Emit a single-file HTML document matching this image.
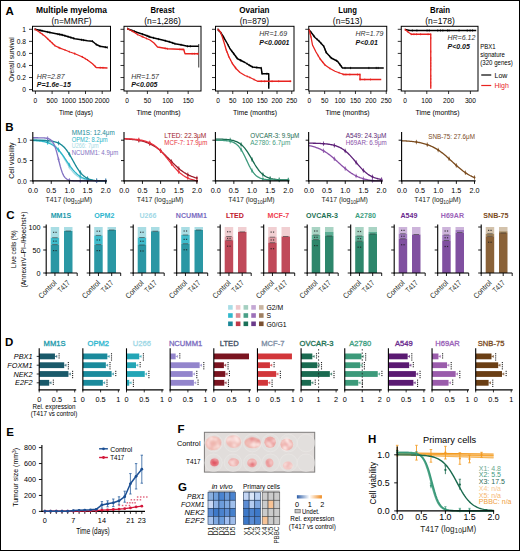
<!DOCTYPE html><html><head><meta charset="utf-8"><style>html,body{margin:0;padding:0;background:#fff;}svg{display:block;font-family:"Liberation Sans",sans-serif;}</style></head><body>
<svg width="520" height="551" viewBox="0 0 520 551">
<rect x="0" y="0" width="520" height="551" fill="#fff"/>
<text x="5.60" y="15.34" font-size="11.5" text-anchor="start" font-weight="bold" fill="#000">A</text>
<text x="5.30" y="130.54" font-size="11.5" text-anchor="start" font-weight="bold" fill="#000">B</text>
<text x="6.20" y="219.14" font-size="11.5" text-anchor="start" font-weight="bold" fill="#000">C</text>
<text x="5.00" y="345.94" font-size="11.5" text-anchor="start" font-weight="bold" fill="#000">D</text>
<text x="6.20" y="435.94" font-size="11.5" text-anchor="start" font-weight="bold" fill="#000">E</text>
<text x="177.40" y="432.84" font-size="11.5" text-anchor="start" font-weight="bold" fill="#000">F</text>
<text x="178.00" y="491.14" font-size="11.5" text-anchor="start" font-weight="bold" fill="#000">G</text>
<text x="368.00" y="443.14" font-size="11.5" text-anchor="start" font-weight="bold" fill="#000">H</text>
<text x="71.50" y="13.29" font-size="8.3" text-anchor="middle" font-weight="bold" fill="#000" textLength="71" lengthAdjust="spacingAndGlyphs">Multiple myeloma</text>
<text x="71.50" y="23.79" font-size="8.3" text-anchor="middle" textLength="40" lengthAdjust="spacingAndGlyphs">(n=MMRF)</text>
<rect x="32.50" y="26.30" width="78.00" height="64.70" fill="none" stroke="#000" stroke-width="1"/>
<line x1="29.00" y1="89.60" x2="32.50" y2="89.60" stroke="#000" stroke-width="0.8"/>
<text x="26.00" y="92.44" font-size="7.9" text-anchor="end" textLength="3.69" lengthAdjust="spacingAndGlyphs">0</text>
<line x1="29.00" y1="77.54" x2="32.50" y2="77.54" stroke="#000" stroke-width="0.8"/>
<text x="26.00" y="80.38" font-size="7.9" text-anchor="end" textLength="9.22" lengthAdjust="spacingAndGlyphs">0.2</text>
<line x1="29.00" y1="65.48" x2="32.50" y2="65.48" stroke="#000" stroke-width="0.8"/>
<text x="26.00" y="68.32" font-size="7.9" text-anchor="end" textLength="9.22" lengthAdjust="spacingAndGlyphs">0.4</text>
<line x1="29.00" y1="53.42" x2="32.50" y2="53.42" stroke="#000" stroke-width="0.8"/>
<text x="26.00" y="56.26" font-size="7.9" text-anchor="end" textLength="9.22" lengthAdjust="spacingAndGlyphs">0.6</text>
<line x1="29.00" y1="41.36" x2="32.50" y2="41.36" stroke="#000" stroke-width="0.8"/>
<text x="26.00" y="44.20" font-size="7.9" text-anchor="end" textLength="9.22" lengthAdjust="spacingAndGlyphs">0.8</text>
<line x1="29.00" y1="29.30" x2="32.50" y2="29.30" stroke="#000" stroke-width="0.8"/>
<text x="26.00" y="32.14" font-size="7.9" text-anchor="end" textLength="3.69" lengthAdjust="spacingAndGlyphs">1</text>
<line x1="35.40" y1="91.00" x2="35.40" y2="94.00" stroke="#000" stroke-width="0.8"/>
<text x="35.40" y="102.50" font-size="7.5" text-anchor="middle" textLength="3.67" lengthAdjust="spacingAndGlyphs">0</text>
<line x1="52.10" y1="91.00" x2="52.10" y2="94.00" stroke="#000" stroke-width="0.8"/>
<text x="52.10" y="102.50" font-size="7.5" text-anchor="middle" textLength="11.01" lengthAdjust="spacingAndGlyphs">500</text>
<line x1="68.80" y1="91.00" x2="68.80" y2="94.00" stroke="#000" stroke-width="0.8"/>
<text x="68.80" y="102.50" font-size="7.5" text-anchor="middle" textLength="14.68" lengthAdjust="spacingAndGlyphs">1000</text>
<line x1="85.50" y1="91.00" x2="85.50" y2="94.00" stroke="#000" stroke-width="0.8"/>
<text x="85.50" y="102.50" font-size="7.5" text-anchor="middle" textLength="14.68" lengthAdjust="spacingAndGlyphs">1500</text>
<line x1="102.20" y1="91.00" x2="102.20" y2="94.00" stroke="#000" stroke-width="0.8"/>
<text x="102.20" y="102.50" font-size="7.5" text-anchor="middle" textLength="14.68" lengthAdjust="spacingAndGlyphs">2000</text>
<text x="76.00" y="115.18" font-size="8.0" text-anchor="middle" textLength="33.8" lengthAdjust="spacingAndGlyphs">Time (days)</text>
<text x="162.50" y="13.29" font-size="8.3" text-anchor="middle" font-weight="bold" fill="#000" textLength="24" lengthAdjust="spacingAndGlyphs">Breast</text>
<text x="162.50" y="23.79" font-size="8.3" text-anchor="middle" textLength="36.4" lengthAdjust="spacingAndGlyphs">(n=1,286)</text>
<rect x="124.00" y="26.30" width="77.00" height="64.70" fill="none" stroke="#000" stroke-width="1"/>
<line x1="120.50" y1="89.60" x2="124.00" y2="89.60" stroke="#000" stroke-width="0.8"/>
<line x1="120.50" y1="77.54" x2="124.00" y2="77.54" stroke="#000" stroke-width="0.8"/>
<line x1="120.50" y1="65.48" x2="124.00" y2="65.48" stroke="#000" stroke-width="0.8"/>
<line x1="120.50" y1="53.42" x2="124.00" y2="53.42" stroke="#000" stroke-width="0.8"/>
<line x1="120.50" y1="41.36" x2="124.00" y2="41.36" stroke="#000" stroke-width="0.8"/>
<line x1="120.50" y1="29.30" x2="124.00" y2="29.30" stroke="#000" stroke-width="0.8"/>
<line x1="127.00" y1="91.00" x2="127.00" y2="94.00" stroke="#000" stroke-width="0.8"/>
<text x="127.00" y="102.50" font-size="7.5" text-anchor="middle" textLength="3.67" lengthAdjust="spacingAndGlyphs">0</text>
<line x1="147.40" y1="91.00" x2="147.40" y2="94.00" stroke="#000" stroke-width="0.8"/>
<text x="147.40" y="102.50" font-size="7.5" text-anchor="middle" textLength="7.34" lengthAdjust="spacingAndGlyphs">50</text>
<line x1="167.80" y1="91.00" x2="167.80" y2="94.00" stroke="#000" stroke-width="0.8"/>
<text x="167.80" y="102.50" font-size="7.5" text-anchor="middle" textLength="11.01" lengthAdjust="spacingAndGlyphs">100</text>
<line x1="188.20" y1="91.00" x2="188.20" y2="94.00" stroke="#000" stroke-width="0.8"/>
<text x="188.20" y="102.50" font-size="7.5" text-anchor="middle" textLength="11.01" lengthAdjust="spacingAndGlyphs">150</text>
<text x="158.60" y="115.18" font-size="8.0" text-anchor="middle" textLength="44" lengthAdjust="spacingAndGlyphs">Time (months)</text>
<text x="254.40" y="13.29" font-size="8.3" text-anchor="middle" font-weight="bold" fill="#000" textLength="30.2" lengthAdjust="spacingAndGlyphs">Ovarian</text>
<text x="254.40" y="23.79" font-size="8.3" text-anchor="middle" textLength="29.3" lengthAdjust="spacingAndGlyphs">(n=879)</text>
<rect x="215.50" y="26.30" width="78.50" height="64.70" fill="none" stroke="#000" stroke-width="1"/>
<line x1="212.00" y1="89.60" x2="215.50" y2="89.60" stroke="#000" stroke-width="0.8"/>
<line x1="212.00" y1="77.54" x2="215.50" y2="77.54" stroke="#000" stroke-width="0.8"/>
<line x1="212.00" y1="65.48" x2="215.50" y2="65.48" stroke="#000" stroke-width="0.8"/>
<line x1="212.00" y1="53.42" x2="215.50" y2="53.42" stroke="#000" stroke-width="0.8"/>
<line x1="212.00" y1="41.36" x2="215.50" y2="41.36" stroke="#000" stroke-width="0.8"/>
<line x1="212.00" y1="29.30" x2="215.50" y2="29.30" stroke="#000" stroke-width="0.8"/>
<line x1="218.00" y1="91.00" x2="218.00" y2="94.00" stroke="#000" stroke-width="0.8"/>
<text x="218.00" y="102.50" font-size="7.5" text-anchor="middle" textLength="3.67" lengthAdjust="spacingAndGlyphs">0</text>
<line x1="232.75" y1="91.00" x2="232.75" y2="94.00" stroke="#000" stroke-width="0.8"/>
<text x="232.75" y="102.50" font-size="7.5" text-anchor="middle" textLength="7.34" lengthAdjust="spacingAndGlyphs">50</text>
<line x1="247.50" y1="91.00" x2="247.50" y2="94.00" stroke="#000" stroke-width="0.8"/>
<text x="247.50" y="102.50" font-size="7.5" text-anchor="middle" textLength="11.01" lengthAdjust="spacingAndGlyphs">100</text>
<line x1="262.25" y1="91.00" x2="262.25" y2="94.00" stroke="#000" stroke-width="0.8"/>
<text x="262.25" y="102.50" font-size="7.5" text-anchor="middle" textLength="11.01" lengthAdjust="spacingAndGlyphs">150</text>
<line x1="277.00" y1="91.00" x2="277.00" y2="94.00" stroke="#000" stroke-width="0.8"/>
<text x="277.00" y="102.50" font-size="7.5" text-anchor="middle" textLength="11.01" lengthAdjust="spacingAndGlyphs">200</text>
<line x1="291.75" y1="91.00" x2="291.75" y2="94.00" stroke="#000" stroke-width="0.8"/>
<text x="291.75" y="102.50" font-size="7.5" text-anchor="middle" textLength="11.01" lengthAdjust="spacingAndGlyphs">250</text>
<text x="255.00" y="115.18" font-size="8.0" text-anchor="middle" textLength="44" lengthAdjust="spacingAndGlyphs">Time (months)</text>
<text x="347.60" y="13.29" font-size="8.3" text-anchor="middle" font-weight="bold" fill="#000" textLength="18.8" lengthAdjust="spacingAndGlyphs">Lung</text>
<text x="347.60" y="23.79" font-size="8.3" text-anchor="middle" textLength="29.5" lengthAdjust="spacingAndGlyphs">(n=513)</text>
<rect x="308.75" y="26.30" width="78.00" height="64.70" fill="none" stroke="#000" stroke-width="1"/>
<line x1="305.25" y1="89.60" x2="308.75" y2="89.60" stroke="#000" stroke-width="0.8"/>
<line x1="305.25" y1="77.54" x2="308.75" y2="77.54" stroke="#000" stroke-width="0.8"/>
<line x1="305.25" y1="65.48" x2="308.75" y2="65.48" stroke="#000" stroke-width="0.8"/>
<line x1="305.25" y1="53.42" x2="308.75" y2="53.42" stroke="#000" stroke-width="0.8"/>
<line x1="305.25" y1="41.36" x2="308.75" y2="41.36" stroke="#000" stroke-width="0.8"/>
<line x1="305.25" y1="29.30" x2="308.75" y2="29.30" stroke="#000" stroke-width="0.8"/>
<line x1="309.25" y1="91.00" x2="309.25" y2="94.00" stroke="#000" stroke-width="0.8"/>
<text x="309.25" y="102.50" font-size="7.5" text-anchor="middle" textLength="3.67" lengthAdjust="spacingAndGlyphs">0</text>
<line x1="324.65" y1="91.00" x2="324.65" y2="94.00" stroke="#000" stroke-width="0.8"/>
<text x="324.65" y="102.50" font-size="7.5" text-anchor="middle" textLength="7.34" lengthAdjust="spacingAndGlyphs">50</text>
<line x1="340.05" y1="91.00" x2="340.05" y2="94.00" stroke="#000" stroke-width="0.8"/>
<text x="340.05" y="102.50" font-size="7.5" text-anchor="middle" textLength="11.01" lengthAdjust="spacingAndGlyphs">100</text>
<line x1="355.45" y1="91.00" x2="355.45" y2="94.00" stroke="#000" stroke-width="0.8"/>
<text x="355.45" y="102.50" font-size="7.5" text-anchor="middle" textLength="11.01" lengthAdjust="spacingAndGlyphs">150</text>
<line x1="370.85" y1="91.00" x2="370.85" y2="94.00" stroke="#000" stroke-width="0.8"/>
<text x="370.85" y="102.50" font-size="7.5" text-anchor="middle" textLength="11.01" lengthAdjust="spacingAndGlyphs">200</text>
<line x1="386.25" y1="91.00" x2="386.25" y2="94.00" stroke="#000" stroke-width="0.8"/>
<text x="386.25" y="102.50" font-size="7.5" text-anchor="middle" textLength="11.01" lengthAdjust="spacingAndGlyphs">250</text>
<text x="347.60" y="115.18" font-size="8.0" text-anchor="middle" textLength="44" lengthAdjust="spacingAndGlyphs">Time (months)</text>
<text x="440.00" y="13.29" font-size="8.3" text-anchor="middle" font-weight="bold" fill="#000" textLength="20" lengthAdjust="spacingAndGlyphs">Brain</text>
<text x="440.00" y="23.79" font-size="8.3" text-anchor="middle" textLength="29.5" lengthAdjust="spacingAndGlyphs">(n=178)</text>
<rect x="401.25" y="26.30" width="76.75" height="64.70" fill="none" stroke="#000" stroke-width="1"/>
<line x1="397.75" y1="89.60" x2="401.25" y2="89.60" stroke="#000" stroke-width="0.8"/>
<line x1="397.75" y1="77.54" x2="401.25" y2="77.54" stroke="#000" stroke-width="0.8"/>
<line x1="397.75" y1="65.48" x2="401.25" y2="65.48" stroke="#000" stroke-width="0.8"/>
<line x1="397.75" y1="53.42" x2="401.25" y2="53.42" stroke="#000" stroke-width="0.8"/>
<line x1="397.75" y1="41.36" x2="401.25" y2="41.36" stroke="#000" stroke-width="0.8"/>
<line x1="397.75" y1="29.30" x2="401.25" y2="29.30" stroke="#000" stroke-width="0.8"/>
<line x1="405.00" y1="91.00" x2="405.00" y2="94.00" stroke="#000" stroke-width="0.8"/>
<text x="405.00" y="102.50" font-size="7.5" text-anchor="middle" textLength="3.67" lengthAdjust="spacingAndGlyphs">0</text>
<line x1="426.80" y1="91.00" x2="426.80" y2="94.00" stroke="#000" stroke-width="0.8"/>
<text x="426.80" y="102.50" font-size="7.5" text-anchor="middle" textLength="11.01" lengthAdjust="spacingAndGlyphs">100</text>
<line x1="448.60" y1="91.00" x2="448.60" y2="94.00" stroke="#000" stroke-width="0.8"/>
<text x="448.60" y="102.50" font-size="7.5" text-anchor="middle" textLength="11.01" lengthAdjust="spacingAndGlyphs">200</text>
<line x1="470.40" y1="91.00" x2="470.40" y2="94.00" stroke="#000" stroke-width="0.8"/>
<text x="470.40" y="102.50" font-size="7.5" text-anchor="middle" textLength="11.01" lengthAdjust="spacingAndGlyphs">300</text>
<text x="437.50" y="115.18" font-size="8.0" text-anchor="middle" textLength="44" lengthAdjust="spacingAndGlyphs">Time (months)</text>
<text x="10.90" y="62.38" font-size="8.0" text-anchor="middle" textLength="44.6" lengthAdjust="spacingAndGlyphs" transform="rotate(-90 10.90 59.50)">Overall survival</text>
<polyline points="35.00,29.25 42.00,30.80 50.00,32.50 62.50,35.00 75.00,38.75 87.50,40.75 92.50,41.25 96.25,44.50 100.00,46.25 107.50,47.50" fill="none" stroke="#000" stroke-width="1.45" stroke-linejoin="round" />
<line x1="35.00" y1="28.10" x2="35.00" y2="30.40" stroke="#000" stroke-width="0.7"/>
<line x1="40.13" y1="29.24" x2="40.13" y2="31.54" stroke="#000" stroke-width="0.7"/>
<line x1="42.00" y1="29.65" x2="42.00" y2="31.95" stroke="#000" stroke-width="0.7"/>
<line x1="47.71" y1="30.86" x2="47.71" y2="33.16" stroke="#000" stroke-width="0.7"/>
<line x1="49.85" y1="31.32" x2="49.85" y2="33.62" stroke="#000" stroke-width="0.7"/>
<line x1="57.90" y1="32.93" x2="57.90" y2="35.23" stroke="#000" stroke-width="0.7"/>
<line x1="59.46" y1="33.24" x2="59.46" y2="35.54" stroke="#000" stroke-width="0.7"/>
<line x1="61.11" y1="33.57" x2="61.11" y2="35.87" stroke="#000" stroke-width="0.7"/>
<line x1="62.50" y1="33.85" x2="62.50" y2="36.15" stroke="#000" stroke-width="0.7"/>
<line x1="64.92" y1="34.58" x2="64.92" y2="36.88" stroke="#000" stroke-width="0.7"/>
<line x1="68.09" y1="35.53" x2="68.09" y2="37.83" stroke="#000" stroke-width="0.7"/>
<line x1="70.86" y1="36.36" x2="70.86" y2="38.66" stroke="#000" stroke-width="0.7"/>
<line x1="73.67" y1="37.20" x2="73.67" y2="39.50" stroke="#000" stroke-width="0.7"/>
<line x1="81.58" y1="38.65" x2="81.58" y2="40.95" stroke="#000" stroke-width="0.7"/>
<line x1="83.59" y1="38.97" x2="83.59" y2="41.27" stroke="#000" stroke-width="0.7"/>
<line x1="92.50" y1="40.10" x2="92.50" y2="42.40" stroke="#000" stroke-width="0.7"/>
<line x1="96.25" y1="43.35" x2="96.25" y2="45.65" stroke="#000" stroke-width="0.7"/>
<line x1="100.00" y1="45.10" x2="100.00" y2="47.40" stroke="#000" stroke-width="0.7"/>
<line x1="105.32" y1="45.99" x2="105.32" y2="48.29" stroke="#000" stroke-width="0.7"/>
<line x1="107.36" y1="46.33" x2="107.36" y2="48.63" stroke="#000" stroke-width="0.7"/>
<polyline points="35.00,29.30 40.00,32.50 45.00,36.25 50.00,41.00 55.00,45.75 60.00,48.20 65.00,50.00 70.00,52.00 75.00,53.75 82.50,57.00 87.50,60.00 92.50,63.75 96.25,67.50 107.50,68.00" fill="none" stroke="#e8231f" stroke-width="1.3" stroke-linejoin="round" />
<line x1="35.00" y1="28.30" x2="35.00" y2="30.30" stroke="#e8231f" stroke-width="0.7"/>
<line x1="40.00" y1="31.50" x2="40.00" y2="33.50" stroke="#e8231f" stroke-width="0.7"/>
<line x1="42.52" y1="33.39" x2="42.52" y2="35.39" stroke="#e8231f" stroke-width="0.7"/>
<line x1="47.74" y1="37.86" x2="47.74" y2="39.86" stroke="#e8231f" stroke-width="0.7"/>
<line x1="50.00" y1="40.00" x2="50.00" y2="42.00" stroke="#e8231f" stroke-width="0.7"/>
<line x1="52.42" y1="42.30" x2="52.42" y2="44.30" stroke="#e8231f" stroke-width="0.7"/>
<line x1="55.00" y1="44.75" x2="55.00" y2="46.75" stroke="#e8231f" stroke-width="0.7"/>
<line x1="58.94" y1="46.68" x2="58.94" y2="48.68" stroke="#e8231f" stroke-width="0.7"/>
<line x1="60.00" y1="47.20" x2="60.00" y2="49.20" stroke="#e8231f" stroke-width="0.7"/>
<line x1="65.00" y1="49.00" x2="65.00" y2="51.00" stroke="#e8231f" stroke-width="0.7"/>
<line x1="69.33" y1="50.73" x2="69.33" y2="52.73" stroke="#e8231f" stroke-width="0.7"/>
<line x1="74.48" y1="52.57" x2="74.48" y2="54.57" stroke="#e8231f" stroke-width="0.7"/>
<line x1="75.00" y1="52.75" x2="75.00" y2="54.75" stroke="#e8231f" stroke-width="0.7"/>
<line x1="82.14" y1="55.84" x2="82.14" y2="57.84" stroke="#e8231f" stroke-width="0.7"/>
<line x1="82.50" y1="56.00" x2="82.50" y2="58.00" stroke="#e8231f" stroke-width="0.7"/>
<line x1="85.31" y1="57.68" x2="85.31" y2="59.68" stroke="#e8231f" stroke-width="0.7"/>
<line x1="87.50" y1="59.00" x2="87.50" y2="61.00" stroke="#e8231f" stroke-width="0.7"/>
<line x1="95.30" y1="65.55" x2="95.30" y2="67.55" stroke="#e8231f" stroke-width="0.7"/>
<line x1="100.23" y1="66.68" x2="100.23" y2="68.68" stroke="#e8231f" stroke-width="0.7"/>
<line x1="102.99" y1="66.80" x2="102.99" y2="68.80" stroke="#e8231f" stroke-width="0.7"/>
<text x="36.80" y="78.82" font-size="7" text-anchor="start" font-style="italic" fill="#333">HR=2.87</text>
<text x="36.80" y="86.92" font-size="7" text-anchor="start" font-weight="bold" font-style="italic" fill="#111">P=1.6e–15</text>
<polyline points="127.50,28.75 132.00,30.50 137.50,32.50 145.00,35.00 150.00,37.00 156.00,38.50 162.50,40.00 170.00,42.00 175.00,43.75 182.00,45.00 187.50,46.25 198.75,46.25" fill="none" stroke="#000" stroke-width="1.45" stroke-linejoin="round" />
<line x1="127.50" y1="27.60" x2="127.50" y2="29.90" stroke="#000" stroke-width="0.7"/>
<line x1="132.00" y1="29.35" x2="132.00" y2="31.65" stroke="#000" stroke-width="0.7"/>
<line x1="134.33" y1="30.20" x2="134.33" y2="32.50" stroke="#000" stroke-width="0.7"/>
<line x1="142.50" y1="33.02" x2="142.50" y2="35.32" stroke="#000" stroke-width="0.7"/>
<line x1="147.16" y1="34.72" x2="147.16" y2="37.02" stroke="#000" stroke-width="0.7"/>
<line x1="148.90" y1="35.41" x2="148.90" y2="37.71" stroke="#000" stroke-width="0.7"/>
<line x1="150.00" y1="35.85" x2="150.00" y2="38.15" stroke="#000" stroke-width="0.7"/>
<line x1="153.51" y1="36.73" x2="153.51" y2="39.03" stroke="#000" stroke-width="0.7"/>
<line x1="158.59" y1="37.95" x2="158.59" y2="40.25" stroke="#000" stroke-width="0.7"/>
<line x1="165.31" y1="39.60" x2="165.31" y2="41.90" stroke="#000" stroke-width="0.7"/>
<line x1="169.34" y1="40.67" x2="169.34" y2="42.97" stroke="#000" stroke-width="0.7"/>
<line x1="172.62" y1="41.77" x2="172.62" y2="44.07" stroke="#000" stroke-width="0.7"/>
<line x1="175.00" y1="42.60" x2="175.00" y2="44.90" stroke="#000" stroke-width="0.7"/>
<line x1="181.06" y1="43.68" x2="181.06" y2="45.98" stroke="#000" stroke-width="0.7"/>
<line x1="187.50" y1="45.10" x2="187.50" y2="47.40" stroke="#000" stroke-width="0.7"/>
<line x1="190.33" y1="45.10" x2="190.33" y2="47.40" stroke="#000" stroke-width="0.7"/>
<line x1="198.75" y1="44.00" x2="198.75" y2="67.50" stroke="#000" stroke-width="0.8"/>
<polyline points="127.50,28.75 133.00,31.50 137.50,34.50 143.00,37.00 150.00,40.00 154.00,43.00 157.50,47.00 167.50,48.75 183.75,49.50 185.00,53.75 198.75,53.75" fill="none" stroke="#e8231f" stroke-width="1.3" stroke-linejoin="round" />
<line x1="127.50" y1="27.75" x2="127.50" y2="29.75" stroke="#e8231f" stroke-width="0.7"/>
<line x1="133.00" y1="30.50" x2="133.00" y2="32.50" stroke="#e8231f" stroke-width="0.7"/>
<line x1="137.50" y1="33.50" x2="137.50" y2="35.50" stroke="#e8231f" stroke-width="0.7"/>
<line x1="141.91" y1="35.50" x2="141.91" y2="37.50" stroke="#e8231f" stroke-width="0.7"/>
<line x1="143.00" y1="36.00" x2="143.00" y2="38.00" stroke="#e8231f" stroke-width="0.7"/>
<line x1="146.41" y1="37.46" x2="146.41" y2="39.46" stroke="#e8231f" stroke-width="0.7"/>
<line x1="165.15" y1="47.34" x2="165.15" y2="49.34" stroke="#e8231f" stroke-width="0.7"/>
<line x1="167.50" y1="47.75" x2="167.50" y2="49.75" stroke="#e8231f" stroke-width="0.7"/>
<line x1="179.83" y1="48.32" x2="179.83" y2="50.32" stroke="#e8231f" stroke-width="0.7"/>
<line x1="182.12" y1="48.42" x2="182.12" y2="50.42" stroke="#e8231f" stroke-width="0.7"/>
<line x1="183.75" y1="48.50" x2="183.75" y2="50.50" stroke="#e8231f" stroke-width="0.7"/>
<line x1="184.38" y1="50.63" x2="184.38" y2="52.63" stroke="#e8231f" stroke-width="0.7"/>
<line x1="192.13" y1="52.75" x2="192.13" y2="54.75" stroke="#e8231f" stroke-width="0.7"/>
<line x1="194.40" y1="52.75" x2="194.40" y2="54.75" stroke="#e8231f" stroke-width="0.7"/>
<line x1="197.57" y1="52.75" x2="197.57" y2="54.75" stroke="#e8231f" stroke-width="0.7"/>
<text x="131.20" y="78.82" font-size="7" text-anchor="start" font-style="italic" fill="#333">HR=1.57</text>
<text x="131.20" y="86.92" font-size="7" text-anchor="start" font-weight="bold" font-style="italic" fill="#111">P&lt;0.005</text>
<polyline points="218.00,29.50 221.00,33.00 223.75,37.50 227.00,43.00 230.00,48.75 234.00,54.00 237.50,58.75 241.00,60.50 245.00,62.50 249.00,65.00 252.50,67.00 261.25,68.00 262.00,73.75 268.75,73.75 268.75,88.75" fill="none" stroke="#000" stroke-width="1.45" stroke-linejoin="round" />
<line x1="218.00" y1="28.35" x2="218.00" y2="30.65" stroke="#000" stroke-width="0.7"/>
<line x1="219.09" y1="29.62" x2="219.09" y2="31.92" stroke="#000" stroke-width="0.7"/>
<line x1="221.00" y1="31.85" x2="221.00" y2="34.15" stroke="#000" stroke-width="0.7"/>
<line x1="222.89" y1="34.94" x2="222.89" y2="37.24" stroke="#000" stroke-width="0.7"/>
<line x1="223.75" y1="36.35" x2="223.75" y2="38.65" stroke="#000" stroke-width="0.7"/>
<line x1="228.25" y1="44.24" x2="228.25" y2="46.54" stroke="#000" stroke-width="0.7"/>
<line x1="229.44" y1="46.53" x2="229.44" y2="48.83" stroke="#000" stroke-width="0.7"/>
<line x1="231.71" y1="49.84" x2="231.71" y2="52.14" stroke="#000" stroke-width="0.7"/>
<line x1="233.41" y1="52.07" x2="233.41" y2="54.37" stroke="#000" stroke-width="0.7"/>
<line x1="234.00" y1="52.85" x2="234.00" y2="55.15" stroke="#000" stroke-width="0.7"/>
<line x1="235.63" y1="55.06" x2="235.63" y2="57.36" stroke="#000" stroke-width="0.7"/>
<line x1="236.98" y1="56.89" x2="236.98" y2="59.19" stroke="#000" stroke-width="0.7"/>
<line x1="240.36" y1="59.03" x2="240.36" y2="61.33" stroke="#000" stroke-width="0.7"/>
<line x1="241.00" y1="59.35" x2="241.00" y2="61.65" stroke="#000" stroke-width="0.7"/>
<line x1="247.11" y1="62.67" x2="247.11" y2="64.97" stroke="#000" stroke-width="0.7"/>
<line x1="249.00" y1="63.85" x2="249.00" y2="66.15" stroke="#000" stroke-width="0.7"/>
<line x1="252.50" y1="65.85" x2="252.50" y2="68.15" stroke="#000" stroke-width="0.7"/>
<line x1="256.77" y1="66.34" x2="256.77" y2="68.64" stroke="#000" stroke-width="0.7"/>
<line x1="261.25" y1="66.85" x2="261.25" y2="69.15" stroke="#000" stroke-width="0.7"/>
<line x1="261.47" y1="68.50" x2="261.47" y2="70.80" stroke="#000" stroke-width="0.7"/>
<line x1="261.81" y1="71.13" x2="261.81" y2="73.43" stroke="#000" stroke-width="0.7"/>
<line x1="262.00" y1="72.60" x2="262.00" y2="74.90" stroke="#000" stroke-width="0.7"/>
<line x1="266.93" y1="72.60" x2="266.93" y2="74.90" stroke="#000" stroke-width="0.7"/>
<line x1="268.75" y1="77.96" x2="268.75" y2="80.26" stroke="#000" stroke-width="0.7"/>
<line x1="268.75" y1="82.89" x2="268.75" y2="85.19" stroke="#000" stroke-width="0.7"/>
<polyline points="218.00,29.50 220.50,32.00 222.50,37.50 224.50,44.00 226.25,50.00 229.00,57.00 232.50,63.75 236.00,68.50 240.00,72.50 245.00,75.50 250.00,77.50 254.00,79.50 257.50,81.25 291.25,81.25" fill="none" stroke="#e8231f" stroke-width="1.3" stroke-linejoin="round" />
<line x1="218.00" y1="28.50" x2="218.00" y2="30.50" stroke="#e8231f" stroke-width="0.7"/>
<line x1="220.50" y1="31.00" x2="220.50" y2="33.00" stroke="#e8231f" stroke-width="0.7"/>
<line x1="221.53" y1="33.83" x2="221.53" y2="35.83" stroke="#e8231f" stroke-width="0.7"/>
<line x1="225.48" y1="46.36" x2="225.48" y2="48.36" stroke="#e8231f" stroke-width="0.7"/>
<line x1="226.25" y1="49.00" x2="226.25" y2="51.00" stroke="#e8231f" stroke-width="0.7"/>
<line x1="227.02" y1="50.96" x2="227.02" y2="52.96" stroke="#e8231f" stroke-width="0.7"/>
<line x1="228.38" y1="54.43" x2="228.38" y2="56.43" stroke="#e8231f" stroke-width="0.7"/>
<line x1="229.00" y1="56.00" x2="229.00" y2="58.00" stroke="#e8231f" stroke-width="0.7"/>
<line x1="230.55" y1="58.99" x2="230.55" y2="60.99" stroke="#e8231f" stroke-width="0.7"/>
<line x1="232.19" y1="62.15" x2="232.19" y2="64.15" stroke="#e8231f" stroke-width="0.7"/>
<line x1="235.32" y1="66.57" x2="235.32" y2="68.57" stroke="#e8231f" stroke-width="0.7"/>
<line x1="236.00" y1="67.50" x2="236.00" y2="69.50" stroke="#e8231f" stroke-width="0.7"/>
<line x1="247.23" y1="75.39" x2="247.23" y2="77.39" stroke="#e8231f" stroke-width="0.7"/>
<line x1="249.81" y1="76.42" x2="249.81" y2="78.42" stroke="#e8231f" stroke-width="0.7"/>
<line x1="254.00" y1="78.50" x2="254.00" y2="80.50" stroke="#e8231f" stroke-width="0.7"/>
<line x1="261.29" y1="80.25" x2="261.29" y2="82.25" stroke="#e8231f" stroke-width="0.7"/>
<line x1="264.63" y1="80.25" x2="264.63" y2="82.25" stroke="#e8231f" stroke-width="0.7"/>
<line x1="272.06" y1="80.25" x2="272.06" y2="82.25" stroke="#e8231f" stroke-width="0.7"/>
<line x1="278.69" y1="80.25" x2="278.69" y2="82.25" stroke="#e8231f" stroke-width="0.7"/>
<line x1="290.28" y1="80.25" x2="290.28" y2="82.25" stroke="#e8231f" stroke-width="0.7"/>
<text x="259.30" y="36.32" font-size="7" text-anchor="start" font-style="italic" fill="#333">HR=1.69</text>
<text x="259.30" y="44.52" font-size="7" text-anchor="start" font-weight="bold" font-style="italic" fill="#111">P&lt;0.0001</text>
<polyline points="309.25,30.00 312.00,33.50 315.00,37.50 319.00,41.00 323.75,46.25 326.25,52.50 331.25,58.00 337.50,61.25 342.50,68.00 383.75,68.00" fill="none" stroke="#000" stroke-width="1.45" stroke-linejoin="round" />
<line x1="309.25" y1="28.85" x2="309.25" y2="31.15" stroke="#000" stroke-width="0.7"/>
<line x1="310.98" y1="31.05" x2="310.98" y2="33.35" stroke="#000" stroke-width="0.7"/>
<line x1="313.89" y1="34.86" x2="313.89" y2="37.16" stroke="#000" stroke-width="0.7"/>
<line x1="317.10" y1="38.19" x2="317.10" y2="40.49" stroke="#000" stroke-width="0.7"/>
<line x1="319.00" y1="39.85" x2="319.00" y2="42.15" stroke="#000" stroke-width="0.7"/>
<line x1="320.92" y1="41.98" x2="320.92" y2="44.28" stroke="#000" stroke-width="0.7"/>
<line x1="323.75" y1="45.10" x2="323.75" y2="47.40" stroke="#000" stroke-width="0.7"/>
<line x1="325.08" y1="48.43" x2="325.08" y2="50.73" stroke="#000" stroke-width="0.7"/>
<line x1="326.01" y1="50.75" x2="326.01" y2="53.05" stroke="#000" stroke-width="0.7"/>
<line x1="326.25" y1="51.35" x2="326.25" y2="53.65" stroke="#000" stroke-width="0.7"/>
<line x1="329.61" y1="55.05" x2="329.61" y2="57.35" stroke="#000" stroke-width="0.7"/>
<line x1="331.25" y1="56.85" x2="331.25" y2="59.15" stroke="#000" stroke-width="0.7"/>
<line x1="336.53" y1="59.59" x2="336.53" y2="61.89" stroke="#000" stroke-width="0.7"/>
<line x1="339.89" y1="63.32" x2="339.89" y2="65.62" stroke="#000" stroke-width="0.7"/>
<line x1="341.42" y1="65.39" x2="341.42" y2="67.69" stroke="#000" stroke-width="0.7"/>
<line x1="345.02" y1="66.85" x2="345.02" y2="69.15" stroke="#000" stroke-width="0.7"/>
<line x1="350.57" y1="66.85" x2="350.57" y2="69.15" stroke="#000" stroke-width="0.7"/>
<line x1="368.86" y1="66.85" x2="368.86" y2="69.15" stroke="#000" stroke-width="0.7"/>
<line x1="376.22" y1="66.85" x2="376.22" y2="69.15" stroke="#000" stroke-width="0.7"/>
<line x1="378.17" y1="66.85" x2="378.17" y2="69.15" stroke="#000" stroke-width="0.7"/>
<polyline points="309.25,30.00 311.00,37.00 312.50,45.00 316.00,52.00 320.00,58.75 325.00,65.00 330.00,68.50 335.00,71.25 343.75,74.50 360.00,74.50 360.00,79.50 381.25,79.50" fill="none" stroke="#e8231f" stroke-width="1.3" stroke-linejoin="round" />
<line x1="309.25" y1="29.00" x2="309.25" y2="31.00" stroke="#e8231f" stroke-width="0.7"/>
<line x1="310.12" y1="32.47" x2="310.12" y2="34.47" stroke="#e8231f" stroke-width="0.7"/>
<line x1="311.00" y1="36.00" x2="311.00" y2="38.00" stroke="#e8231f" stroke-width="0.7"/>
<line x1="312.50" y1="44.00" x2="312.50" y2="46.00" stroke="#e8231f" stroke-width="0.7"/>
<line x1="318.18" y1="54.69" x2="318.18" y2="56.69" stroke="#e8231f" stroke-width="0.7"/>
<line x1="320.00" y1="57.75" x2="320.00" y2="59.75" stroke="#e8231f" stroke-width="0.7"/>
<line x1="322.65" y1="61.06" x2="322.65" y2="63.06" stroke="#e8231f" stroke-width="0.7"/>
<line x1="325.00" y1="64.00" x2="325.00" y2="66.00" stroke="#e8231f" stroke-width="0.7"/>
<line x1="330.00" y1="67.50" x2="330.00" y2="69.50" stroke="#e8231f" stroke-width="0.7"/>
<line x1="339.10" y1="71.77" x2="339.10" y2="73.77" stroke="#e8231f" stroke-width="0.7"/>
<line x1="342.74" y1="73.13" x2="342.74" y2="75.13" stroke="#e8231f" stroke-width="0.7"/>
<line x1="343.75" y1="73.50" x2="343.75" y2="75.50" stroke="#e8231f" stroke-width="0.7"/>
<line x1="345.92" y1="73.50" x2="345.92" y2="75.50" stroke="#e8231f" stroke-width="0.7"/>
<line x1="349.84" y1="73.50" x2="349.84" y2="75.50" stroke="#e8231f" stroke-width="0.7"/>
<line x1="357.53" y1="73.50" x2="357.53" y2="75.50" stroke="#e8231f" stroke-width="0.7"/>
<line x1="360.00" y1="73.50" x2="360.00" y2="75.50" stroke="#e8231f" stroke-width="0.7"/>
<line x1="360.00" y1="78.30" x2="360.00" y2="80.30" stroke="#e8231f" stroke-width="0.7"/>
<line x1="360.00" y1="78.50" x2="360.00" y2="80.50" stroke="#e8231f" stroke-width="0.7"/>
<line x1="364.78" y1="78.50" x2="364.78" y2="80.50" stroke="#e8231f" stroke-width="0.7"/>
<line x1="370.50" y1="78.50" x2="370.50" y2="80.50" stroke="#e8231f" stroke-width="0.7"/>
<text x="355.50" y="36.32" font-size="7" text-anchor="start" font-style="italic" fill="#333">HR=1.79</text>
<text x="355.50" y="44.52" font-size="7" text-anchor="start" font-weight="bold" font-style="italic" fill="#111">P&lt;0.01</text>
<polyline points="405.00,29.50 410.00,30.50 476.25,30.50" fill="none" stroke="#000" stroke-width="1.45" stroke-linejoin="round" />
<line x1="412.33" y1="29.35" x2="412.33" y2="31.65" stroke="#000" stroke-width="0.7"/>
<line x1="416.92" y1="29.35" x2="416.92" y2="31.65" stroke="#000" stroke-width="0.7"/>
<line x1="427.08" y1="29.35" x2="427.08" y2="31.65" stroke="#000" stroke-width="0.7"/>
<line x1="429.24" y1="29.35" x2="429.24" y2="31.65" stroke="#000" stroke-width="0.7"/>
<line x1="437.75" y1="29.35" x2="437.75" y2="31.65" stroke="#000" stroke-width="0.7"/>
<line x1="440.41" y1="29.35" x2="440.41" y2="31.65" stroke="#000" stroke-width="0.7"/>
<line x1="442.83" y1="29.35" x2="442.83" y2="31.65" stroke="#000" stroke-width="0.7"/>
<line x1="447.46" y1="29.35" x2="447.46" y2="31.65" stroke="#000" stroke-width="0.7"/>
<line x1="449.07" y1="29.35" x2="449.07" y2="31.65" stroke="#000" stroke-width="0.7"/>
<line x1="459.06" y1="29.35" x2="459.06" y2="31.65" stroke="#000" stroke-width="0.7"/>
<line x1="467.24" y1="29.35" x2="467.24" y2="31.65" stroke="#000" stroke-width="0.7"/>
<line x1="470.08" y1="29.35" x2="470.08" y2="31.65" stroke="#000" stroke-width="0.7"/>
<line x1="472.58" y1="29.35" x2="472.58" y2="31.65" stroke="#000" stroke-width="0.7"/>
<polyline points="405.00,29.50 408.75,32.50 411.25,34.25 430.75,34.25 430.75,88.75" fill="none" stroke="#e8231f" stroke-width="1.3" stroke-linejoin="round" />
<line x1="405.00" y1="28.50" x2="405.00" y2="30.50" stroke="#e8231f" stroke-width="0.7"/>
<line x1="408.00" y1="30.90" x2="408.00" y2="32.90" stroke="#e8231f" stroke-width="0.7"/>
<line x1="411.25" y1="33.25" x2="411.25" y2="35.25" stroke="#e8231f" stroke-width="0.7"/>
<line x1="413.91" y1="33.25" x2="413.91" y2="35.25" stroke="#e8231f" stroke-width="0.7"/>
<line x1="416.55" y1="33.25" x2="416.55" y2="35.25" stroke="#e8231f" stroke-width="0.7"/>
<line x1="420.59" y1="33.25" x2="420.59" y2="35.25" stroke="#e8231f" stroke-width="0.7"/>
<line x1="428.05" y1="33.25" x2="428.05" y2="35.25" stroke="#e8231f" stroke-width="0.7"/>
<line x1="430.75" y1="33.25" x2="430.75" y2="35.25" stroke="#e8231f" stroke-width="0.7"/>
<line x1="430.75" y1="37.17" x2="430.75" y2="39.17" stroke="#e8231f" stroke-width="0.7"/>
<line x1="430.75" y1="50.65" x2="430.75" y2="52.65" stroke="#e8231f" stroke-width="0.7"/>
<line x1="430.75" y1="56.97" x2="430.75" y2="58.97" stroke="#e8231f" stroke-width="0.7"/>
<line x1="430.75" y1="59.12" x2="430.75" y2="61.12" stroke="#e8231f" stroke-width="0.7"/>
<line x1="430.75" y1="62.32" x2="430.75" y2="64.32" stroke="#e8231f" stroke-width="0.7"/>
<line x1="430.75" y1="65.12" x2="430.75" y2="67.12" stroke="#e8231f" stroke-width="0.7"/>
<line x1="430.75" y1="68.38" x2="430.75" y2="70.38" stroke="#e8231f" stroke-width="0.7"/>
<line x1="430.75" y1="74.99" x2="430.75" y2="76.99" stroke="#e8231f" stroke-width="0.7"/>
<line x1="430.75" y1="77.94" x2="430.75" y2="79.94" stroke="#e8231f" stroke-width="0.7"/>
<line x1="430.75" y1="81.65" x2="430.75" y2="83.65" stroke="#e8231f" stroke-width="0.7"/>
<line x1="430.75" y1="84.65" x2="430.75" y2="86.65" stroke="#e8231f" stroke-width="0.7"/>
<text x="447.50" y="40.12" font-size="7" text-anchor="start" font-style="italic" fill="#333">HR=6.12</text>
<text x="447.50" y="48.52" font-size="7" text-anchor="start" font-weight="bold" font-style="italic" fill="#111">P&lt;0.05</text>
<text x="480.30" y="49.34" font-size="6.5" text-anchor="start" textLength="15.29" lengthAdjust="spacingAndGlyphs">PBX1</text>
<text x="480.30" y="57.34" font-size="6.5" text-anchor="start" textLength="24.6" lengthAdjust="spacingAndGlyphs">signature</text>
<text x="480.30" y="65.04" font-size="6.5" text-anchor="start" textLength="32.5" lengthAdjust="spacingAndGlyphs">(320 genes)</text>
<line x1="481.25" y1="75.00" x2="491.25" y2="75.00" stroke="#000" stroke-width="1.2"/>
<text x="494.50" y="77.52" font-size="7" text-anchor="start">Low</text>
<line x1="481.25" y1="85.50" x2="491.25" y2="85.50" stroke="#e8231f" stroke-width="1.2"/>
<text x="494.50" y="88.02" font-size="7" text-anchor="start" fill="#e8231f">High</text>
<polyline points="33.10,139.19 34.01,139.23 34.91,139.27 35.82,139.31 36.73,139.37 37.64,139.43 38.54,139.50 39.45,139.59 40.36,139.68 41.27,139.79 42.17,139.92 43.08,140.07 43.99,140.24 44.90,140.44 45.80,140.66 46.71,140.92 47.62,141.22 48.53,141.56 49.43,141.95 50.34,142.39 51.25,142.89 52.16,143.45 53.06,144.08 53.97,144.79 54.88,145.59 55.79,146.46 56.69,147.43 57.60,148.48 58.51,149.63 59.42,150.86 60.32,152.17 61.23,153.56 62.14,155.01 63.05,156.52 63.95,158.06 64.86,159.63 65.77,161.19 66.68,162.75 67.58,164.27 68.49,165.74 69.40,167.16 70.31,168.51 71.22,169.77 72.12,170.95 73.03,172.04 73.94,173.04 74.84,173.95 75.75,174.78 76.66,175.52 77.57,176.18 78.47,176.77 79.38,177.30 80.29,177.76 81.20,178.17 82.10,178.53 83.01,178.84 83.92,179.12 84.83,179.35 85.73,179.56 86.64,179.74 87.55,179.90 88.46,180.04 89.36,180.15 90.27,180.26 91.18,180.34 92.09,180.42 92.99,180.49 93.90,180.54 94.81,180.59 95.72,180.64 96.62,180.67 97.53,180.70 98.44,180.73 99.35,180.75 100.25,180.77 101.16,180.79 102.07,180.81 102.98,180.82 103.88,180.83 104.79,180.84 105.70,180.85" fill="none" stroke="#a6dbe4" stroke-width="1.3" stroke-linejoin="round" />
<line x1="47.62" y1="139.02" x2="47.62" y2="143.42" stroke="#a6dbe4" stroke-width="0.7"/>
<circle cx="47.62" cy="141.22" r="1.0" fill="#a6dbe4"/>
<line x1="58.51" y1="147.43" x2="58.51" y2="151.83" stroke="#a6dbe4" stroke-width="0.7"/>
<circle cx="58.51" cy="149.63" r="1.0" fill="#a6dbe4"/>
<line x1="69.40" y1="164.96" x2="69.40" y2="169.36" stroke="#a6dbe4" stroke-width="0.7"/>
<circle cx="69.40" cy="167.16" r="1.0" fill="#a6dbe4"/>
<line x1="80.29" y1="175.56" x2="80.29" y2="179.96" stroke="#a6dbe4" stroke-width="0.7"/>
<circle cx="80.29" cy="177.76" r="1.0" fill="#a6dbe4"/>
<line x1="87.55" y1="177.70" x2="87.55" y2="182.10" stroke="#a6dbe4" stroke-width="0.7"/>
<circle cx="87.55" cy="179.90" r="1.0" fill="#a6dbe4"/>
<line x1="96.62" y1="178.47" x2="96.62" y2="182.87" stroke="#a6dbe4" stroke-width="0.7"/>
<circle cx="96.62" cy="180.67" r="1.0" fill="#a6dbe4"/>
<line x1="105.70" y1="178.65" x2="105.70" y2="183.05" stroke="#a6dbe4" stroke-width="0.7"/>
<circle cx="105.70" cy="180.85" r="1.0" fill="#a6dbe4"/>
<polyline points="33.10,140.51 34.01,140.56 34.91,140.61 35.82,140.66 36.73,140.73 37.64,140.80 38.54,140.88 39.45,140.98 40.36,141.09 41.27,141.21 42.17,141.35 43.08,141.51 43.99,141.69 44.90,141.89 45.80,142.12 46.71,142.37 47.62,142.66 48.53,142.99 49.43,143.35 50.34,143.76 51.25,144.21 52.16,144.72 53.06,145.28 53.97,145.90 54.88,146.58 55.79,147.32 56.69,148.14 57.60,149.02 58.51,149.97 59.42,150.99 60.32,152.08 61.23,153.23 62.14,154.43 63.05,155.69 63.95,156.99 64.86,158.32 65.77,159.67 66.68,161.03 67.58,162.38 68.49,163.73 69.40,165.04 70.31,166.33 71.22,167.56 72.12,168.75 73.03,169.87 73.94,170.93 74.84,171.92 75.75,172.85 76.66,173.70 77.57,174.49 78.47,175.21 79.38,175.87 80.29,176.46 81.20,177.00 82.10,177.48 83.01,177.92 83.92,178.31 84.83,178.66 85.73,178.97 86.64,179.24 87.55,179.49 88.46,179.70 89.36,179.90 90.27,180.07 91.18,180.21 92.09,180.35 92.99,180.46 93.90,180.57 94.81,180.66 95.72,180.74 96.62,180.81 97.53,180.87 98.44,180.90 99.35,180.90 100.25,180.90 101.16,180.90 102.07,180.90 102.98,180.90 103.88,180.90 104.79,180.90 105.70,180.90" fill="none" stroke="#2ab5c8" stroke-width="1.3" stroke-linejoin="round" />
<line x1="47.62" y1="140.46" x2="47.62" y2="144.86" stroke="#2ab5c8" stroke-width="0.7"/>
<circle cx="47.62" cy="142.66" r="1.0" fill="#2ab5c8"/>
<line x1="58.51" y1="147.77" x2="58.51" y2="152.17" stroke="#2ab5c8" stroke-width="0.7"/>
<circle cx="58.51" cy="149.97" r="1.0" fill="#2ab5c8"/>
<line x1="69.40" y1="162.84" x2="69.40" y2="167.24" stroke="#2ab5c8" stroke-width="0.7"/>
<circle cx="69.40" cy="165.04" r="1.0" fill="#2ab5c8"/>
<line x1="80.29" y1="174.26" x2="80.29" y2="178.66" stroke="#2ab5c8" stroke-width="0.7"/>
<circle cx="80.29" cy="176.46" r="1.0" fill="#2ab5c8"/>
<line x1="87.55" y1="177.29" x2="87.55" y2="181.69" stroke="#2ab5c8" stroke-width="0.7"/>
<circle cx="87.55" cy="179.49" r="1.0" fill="#2ab5c8"/>
<line x1="96.62" y1="178.61" x2="96.62" y2="183.01" stroke="#2ab5c8" stroke-width="0.7"/>
<circle cx="96.62" cy="180.81" r="1.0" fill="#2ab5c8"/>
<line x1="105.70" y1="178.70" x2="105.70" y2="183.10" stroke="#2ab5c8" stroke-width="0.7"/>
<circle cx="105.70" cy="180.90" r="1.0" fill="#2ab5c8"/>
<polyline points="33.10,140.23 34.01,140.24 34.91,140.25 35.82,140.26 36.73,140.27 37.64,140.28 38.54,140.29 39.45,140.31 40.36,140.32 41.27,140.35 42.17,140.37 43.08,140.40 43.99,140.44 44.90,140.48 45.80,140.52 46.71,140.58 47.62,140.65 48.53,140.72 49.43,140.81 50.34,140.92 51.25,141.04 52.16,141.18 53.06,141.35 53.97,141.55 54.88,141.77 55.79,142.04 56.69,142.34 57.60,142.69 58.51,143.10 59.42,143.56 60.32,144.10 61.23,144.70 62.14,145.39 63.05,146.17 63.95,147.04 64.86,148.01 65.77,149.08 66.68,150.25 67.58,151.52 68.49,152.89 69.40,154.35 70.31,155.88 71.22,157.47 72.12,159.10 73.03,160.75 73.94,162.41 74.84,164.04 75.75,165.63 76.66,167.16 77.57,168.61 78.47,169.98 79.38,171.26 80.29,172.43 81.20,173.50 82.10,174.47 83.01,175.34 83.92,176.12 84.83,176.80 85.73,177.41 86.64,177.94 87.55,178.41 88.46,178.81 89.36,179.17 90.27,179.47 91.18,179.73 92.09,179.96 92.99,180.15 93.90,180.32 94.81,180.47 95.72,180.59 96.62,180.69 97.53,180.78 98.44,180.86 99.35,180.90 100.25,180.90 101.16,180.90 102.07,180.90 102.98,180.90 103.88,180.90 104.79,180.90 105.70,180.90" fill="none" stroke="#178a96" stroke-width="1.3" stroke-linejoin="round" />
<line x1="47.62" y1="138.45" x2="47.62" y2="142.85" stroke="#178a96" stroke-width="0.7"/>
<circle cx="47.62" cy="140.65" r="1.0" fill="#178a96"/>
<line x1="58.51" y1="140.90" x2="58.51" y2="145.30" stroke="#178a96" stroke-width="0.7"/>
<circle cx="58.51" cy="143.10" r="1.0" fill="#178a96"/>
<line x1="69.40" y1="152.15" x2="69.40" y2="156.55" stroke="#178a96" stroke-width="0.7"/>
<circle cx="69.40" cy="154.35" r="1.0" fill="#178a96"/>
<line x1="80.29" y1="170.23" x2="80.29" y2="174.63" stroke="#178a96" stroke-width="0.7"/>
<circle cx="80.29" cy="172.43" r="1.0" fill="#178a96"/>
<line x1="87.55" y1="176.21" x2="87.55" y2="180.61" stroke="#178a96" stroke-width="0.7"/>
<circle cx="87.55" cy="178.41" r="1.0" fill="#178a96"/>
<line x1="96.62" y1="178.49" x2="96.62" y2="182.89" stroke="#178a96" stroke-width="0.7"/>
<circle cx="96.62" cy="180.69" r="1.0" fill="#178a96"/>
<line x1="105.70" y1="178.70" x2="105.70" y2="183.10" stroke="#178a96" stroke-width="0.7"/>
<circle cx="105.70" cy="180.90" r="1.0" fill="#178a96"/>
<polyline points="33.10,137.76 34.01,137.76 34.91,137.76 35.82,137.77 36.73,137.77 37.64,137.77 38.54,137.78 39.45,137.79 40.36,137.80 41.27,137.82 42.17,137.84 43.08,137.88 43.99,137.93 44.90,138.00 45.80,138.10 46.71,138.24 47.62,138.43 48.53,138.70 49.43,139.08 50.34,139.60 51.25,140.32 52.16,141.29 53.06,142.58 53.97,144.27 54.88,146.42 55.79,149.06 56.69,152.16 57.60,155.64 58.51,159.33 59.42,163.02 60.32,166.50 61.23,169.60 62.14,172.24 63.05,174.39 63.95,176.08 64.86,177.37 65.77,178.34 66.68,179.06 67.58,179.58 68.49,179.96 69.40,180.23 70.31,180.42 71.22,180.56 72.12,180.66 73.03,180.73 73.94,180.78 74.84,180.81 75.75,180.84 76.66,180.86 77.57,180.87 78.47,180.88 79.38,180.88 80.29,180.89 81.20,180.89 82.10,180.89 83.01,180.90 83.92,180.90 84.83,180.90 85.73,180.90 86.64,180.90 87.55,180.90 88.46,180.90 89.36,180.90 90.27,180.90 91.18,180.90 92.09,180.90 92.99,180.90 93.90,180.90 94.81,180.90 95.72,180.90 96.62,180.90 97.53,180.90 98.44,180.90 99.35,180.90 100.25,180.90 101.16,180.90 102.07,180.90 102.98,180.90 103.88,180.90 104.79,180.90 105.70,180.90" fill="none" stroke="#8272c2" stroke-width="1.3" stroke-linejoin="round" />
<line x1="47.62" y1="136.23" x2="47.62" y2="140.63" stroke="#8272c2" stroke-width="0.7"/>
<circle cx="47.62" cy="138.43" r="1.0" fill="#8272c2"/>
<line x1="58.51" y1="157.13" x2="58.51" y2="161.53" stroke="#8272c2" stroke-width="0.7"/>
<circle cx="58.51" cy="159.33" r="1.0" fill="#8272c2"/>
<line x1="69.40" y1="178.03" x2="69.40" y2="182.43" stroke="#8272c2" stroke-width="0.7"/>
<circle cx="69.40" cy="180.23" r="1.0" fill="#8272c2"/>
<line x1="80.29" y1="178.69" x2="80.29" y2="183.09" stroke="#8272c2" stroke-width="0.7"/>
<circle cx="80.29" cy="180.89" r="1.0" fill="#8272c2"/>
<line x1="87.55" y1="178.70" x2="87.55" y2="183.10" stroke="#8272c2" stroke-width="0.7"/>
<circle cx="87.55" cy="180.90" r="1.0" fill="#8272c2"/>
<line x1="96.62" y1="178.70" x2="96.62" y2="183.10" stroke="#8272c2" stroke-width="0.7"/>
<circle cx="96.62" cy="180.90" r="1.0" fill="#8272c2"/>
<line x1="105.70" y1="178.70" x2="105.70" y2="183.10" stroke="#8272c2" stroke-width="0.7"/>
<circle cx="105.70" cy="180.90" r="1.0" fill="#8272c2"/>
<line x1="32.80" y1="132.00" x2="32.80" y2="181.40" stroke="#000" stroke-width="1.1"/>
<line x1="32.30" y1="180.90" x2="106.80" y2="180.90" stroke="#000" stroke-width="1.1"/>
<line x1="29.80" y1="140.20" x2="32.80" y2="140.20" stroke="#000" stroke-width="0.9"/>
<text x="26.80" y="142.94" font-size="7.6" text-anchor="end" textLength="9.51" lengthAdjust="spacingAndGlyphs">1.0</text>
<line x1="29.80" y1="160.55" x2="32.80" y2="160.55" stroke="#000" stroke-width="0.9"/>
<text x="26.80" y="163.29" font-size="7.6" text-anchor="end" textLength="9.51" lengthAdjust="spacingAndGlyphs">0.5</text>
<line x1="29.80" y1="180.90" x2="32.80" y2="180.90" stroke="#000" stroke-width="0.9"/>
<text x="26.80" y="183.64" font-size="7.6" text-anchor="end" textLength="9.51" lengthAdjust="spacingAndGlyphs">0.0</text>
<line x1="33.10" y1="180.90" x2="33.10" y2="183.90" stroke="#000" stroke-width="0.9"/>
<text x="33.10" y="192.79" font-size="7.2" text-anchor="middle">0.0</text>
<line x1="51.25" y1="180.90" x2="51.25" y2="183.90" stroke="#000" stroke-width="0.9"/>
<text x="51.25" y="192.79" font-size="7.2" text-anchor="middle">0.5</text>
<line x1="69.40" y1="180.90" x2="69.40" y2="183.90" stroke="#000" stroke-width="0.9"/>
<text x="69.40" y="192.79" font-size="7.2" text-anchor="middle">1.0</text>
<line x1="87.55" y1="180.90" x2="87.55" y2="183.90" stroke="#000" stroke-width="0.9"/>
<text x="87.55" y="192.79" font-size="7.2" text-anchor="middle">1.5</text>
<line x1="105.70" y1="180.90" x2="105.70" y2="183.90" stroke="#000" stroke-width="0.9"/>
<text x="105.70" y="192.79" font-size="7.2" text-anchor="middle">2.0</text>
<text x="68.80" y="201.90" font-size="8" text-anchor="middle" fill="#231f20" textLength="46.5" lengthAdjust="spacingAndGlyphs">T417 (log<tspan font-size="5.8" dy="1.8">10</tspan><tspan dy="-1.8">μM)</tspan></text>
<text x="71.70" y="134.75" font-size="6.8" text-anchor="start" fill="#178a96" textLength="43" lengthAdjust="spacingAndGlyphs">MM1S: 12.4μm</text>
<text x="71.70" y="141.55" font-size="6.8" text-anchor="start" fill="#2ab5c8" textLength="36" lengthAdjust="spacingAndGlyphs">OPM2: 8.2μm</text>
<text x="71.70" y="148.45" font-size="6.8" text-anchor="start" fill="#a6dbe4" textLength="27" lengthAdjust="spacingAndGlyphs">U266: 7μm</text>
<text x="71.70" y="155.35" font-size="6.8" text-anchor="start" fill="#8272c2" textLength="46.5" lengthAdjust="spacingAndGlyphs">NCUMM1: 4.9μm</text>
<polyline points="124.30,138.88 125.21,138.93 126.11,138.98 127.02,139.04 127.93,139.10 128.84,139.16 129.75,139.23 130.65,139.31 131.56,139.40 132.47,139.49 133.38,139.59 134.28,139.70 135.19,139.81 136.10,139.94 137.00,140.08 137.91,140.23 138.82,140.40 139.73,140.57 140.63,140.76 141.54,140.97 142.45,141.20 143.36,141.44 144.26,141.70 145.17,141.98 146.08,142.28 146.99,142.60 147.89,142.95 148.80,143.32 149.71,143.72 150.62,144.15 151.53,144.60 152.43,145.09 153.34,145.60 154.25,146.14 155.16,146.72 156.06,147.33 156.97,147.97 157.88,148.64 158.78,149.34 159.69,150.07 160.60,150.83 161.51,151.62 162.41,152.44 163.32,153.28 164.23,154.14 165.14,155.03 166.04,155.93 166.95,156.84 167.86,157.77 168.77,158.70 169.68,159.63 170.58,160.57 171.49,161.50 172.40,162.43 173.31,163.34 174.21,164.24 175.12,165.13 176.03,165.99 176.94,166.83 177.84,167.65 178.75,168.44 179.66,169.20 180.56,169.93 181.47,170.63 182.38,171.30 183.29,171.94 184.19,172.55 185.10,173.12 186.01,173.67 186.92,174.18 187.82,174.66 188.73,175.12 189.64,175.54 190.55,175.94 191.45,176.32 192.36,176.66 193.27,176.99 194.18,177.29 195.08,177.57 195.99,177.83 196.90,178.07" fill="none" stroke="#9e1b2a" stroke-width="1.3" stroke-linejoin="round" />
<line x1="138.82" y1="138.20" x2="138.82" y2="142.60" stroke="#9e1b2a" stroke-width="0.7"/>
<circle cx="138.82" cy="140.40" r="1.0" fill="#9e1b2a"/>
<line x1="149.71" y1="141.52" x2="149.71" y2="145.92" stroke="#9e1b2a" stroke-width="0.7"/>
<circle cx="149.71" cy="143.72" r="1.0" fill="#9e1b2a"/>
<line x1="160.60" y1="148.63" x2="160.60" y2="153.03" stroke="#9e1b2a" stroke-width="0.7"/>
<circle cx="160.60" cy="150.83" r="1.0" fill="#9e1b2a"/>
<line x1="171.49" y1="159.30" x2="171.49" y2="163.70" stroke="#9e1b2a" stroke-width="0.7"/>
<circle cx="171.49" cy="161.50" r="1.0" fill="#9e1b2a"/>
<line x1="178.75" y1="166.24" x2="178.75" y2="170.64" stroke="#9e1b2a" stroke-width="0.7"/>
<circle cx="178.75" cy="168.44" r="1.0" fill="#9e1b2a"/>
<line x1="187.82" y1="172.46" x2="187.82" y2="176.86" stroke="#9e1b2a" stroke-width="0.7"/>
<circle cx="187.82" cy="174.66" r="1.0" fill="#9e1b2a"/>
<line x1="196.90" y1="175.87" x2="196.90" y2="180.27" stroke="#9e1b2a" stroke-width="0.7"/>
<circle cx="196.90" cy="178.07" r="1.0" fill="#9e1b2a"/>
<polyline points="124.30,138.64 125.21,138.67 126.11,138.70 127.02,138.74 127.93,138.78 128.84,138.82 129.75,138.87 130.65,138.93 131.56,138.99 132.47,139.05 133.38,139.13 134.28,139.21 135.19,139.30 136.10,139.40 137.00,139.51 137.91,139.63 138.82,139.76 139.73,139.91 140.63,140.07 141.54,140.25 142.45,140.44 143.36,140.66 144.26,140.90 145.17,141.15 146.08,141.44 146.99,141.75 147.89,142.08 148.80,142.45 149.71,142.85 150.62,143.29 151.53,143.76 152.43,144.27 153.34,144.82 154.25,145.41 155.16,146.05 156.06,146.73 156.97,147.45 157.88,148.22 158.78,149.04 159.69,149.90 160.60,150.80 161.51,151.75 162.41,152.73 163.32,153.76 164.23,154.81 165.14,155.89 166.04,157.00 166.95,158.12 167.86,159.26 168.77,160.40 169.68,161.55 170.58,162.68 171.49,163.81 172.40,164.92 173.31,166.00 174.21,167.06 175.12,168.08 176.03,169.07 176.94,170.02 177.84,170.93 178.75,171.79 179.66,172.61 180.56,173.39 181.47,174.11 182.38,174.80 183.29,175.44 184.19,176.03 185.10,176.58 186.01,177.10 186.92,177.57 187.82,178.01 188.73,178.41 189.64,178.78 190.55,179.12 191.45,179.44 192.36,179.72 193.27,179.98 194.18,180.22 195.08,180.44 195.99,180.63 196.90,180.81" fill="none" stroke="#e8323c" stroke-width="1.3" stroke-linejoin="round" />
<line x1="138.82" y1="137.56" x2="138.82" y2="141.96" stroke="#e8323c" stroke-width="0.7"/>
<circle cx="138.82" cy="139.76" r="1.0" fill="#e8323c"/>
<line x1="149.71" y1="140.65" x2="149.71" y2="145.05" stroke="#e8323c" stroke-width="0.7"/>
<circle cx="149.71" cy="142.85" r="1.0" fill="#e8323c"/>
<line x1="160.60" y1="148.60" x2="160.60" y2="153.00" stroke="#e8323c" stroke-width="0.7"/>
<circle cx="160.60" cy="150.80" r="1.0" fill="#e8323c"/>
<line x1="171.49" y1="161.61" x2="171.49" y2="166.01" stroke="#e8323c" stroke-width="0.7"/>
<circle cx="171.49" cy="163.81" r="1.0" fill="#e8323c"/>
<line x1="178.75" y1="169.59" x2="178.75" y2="173.99" stroke="#e8323c" stroke-width="0.7"/>
<circle cx="178.75" cy="171.79" r="1.0" fill="#e8323c"/>
<line x1="187.82" y1="175.81" x2="187.82" y2="180.21" stroke="#e8323c" stroke-width="0.7"/>
<circle cx="187.82" cy="178.01" r="1.0" fill="#e8323c"/>
<line x1="196.90" y1="178.61" x2="196.90" y2="183.01" stroke="#e8323c" stroke-width="0.7"/>
<circle cx="196.90" cy="180.81" r="1.0" fill="#e8323c"/>
<line x1="124.00" y1="132.00" x2="124.00" y2="181.40" stroke="#000" stroke-width="1.1"/>
<line x1="123.50" y1="180.90" x2="198.00" y2="180.90" stroke="#000" stroke-width="1.1"/>
<line x1="121.00" y1="140.20" x2="124.00" y2="140.20" stroke="#000" stroke-width="0.9"/>
<line x1="121.00" y1="160.55" x2="124.00" y2="160.55" stroke="#000" stroke-width="0.9"/>
<line x1="121.00" y1="180.90" x2="124.00" y2="180.90" stroke="#000" stroke-width="0.9"/>
<line x1="124.30" y1="180.90" x2="124.30" y2="183.90" stroke="#000" stroke-width="0.9"/>
<text x="124.30" y="192.79" font-size="7.2" text-anchor="middle">0.0</text>
<line x1="142.45" y1="180.90" x2="142.45" y2="183.90" stroke="#000" stroke-width="0.9"/>
<text x="142.45" y="192.79" font-size="7.2" text-anchor="middle">0.5</text>
<line x1="160.60" y1="180.90" x2="160.60" y2="183.90" stroke="#000" stroke-width="0.9"/>
<text x="160.60" y="192.79" font-size="7.2" text-anchor="middle">1.0</text>
<line x1="178.75" y1="180.90" x2="178.75" y2="183.90" stroke="#000" stroke-width="0.9"/>
<text x="178.75" y="192.79" font-size="7.2" text-anchor="middle">1.5</text>
<line x1="196.90" y1="180.90" x2="196.90" y2="183.90" stroke="#000" stroke-width="0.9"/>
<text x="196.90" y="192.79" font-size="7.2" text-anchor="middle">2.0</text>
<text x="160.00" y="201.90" font-size="8" text-anchor="middle" fill="#231f20" textLength="46.5" lengthAdjust="spacingAndGlyphs">T417 (log<tspan font-size="5.8" dy="1.8">10</tspan><tspan dy="-1.8">μM)</tspan></text>
<text x="164.30" y="138.45" font-size="6.8" text-anchor="start" fill="#9e1b2a" textLength="42" lengthAdjust="spacingAndGlyphs">LTED: 22.3μM</text>
<text x="164.30" y="145.05" font-size="6.8" text-anchor="start" fill="#e8323c" textLength="43" lengthAdjust="spacingAndGlyphs">MCF-7: 17.9μm</text>
<polyline points="215.70,139.06 216.61,139.07 217.52,139.09 218.42,139.11 219.33,139.13 220.24,139.16 221.15,139.19 222.05,139.22 222.96,139.26 223.87,139.31 224.78,139.36 225.68,139.43 226.59,139.50 227.50,139.59 228.41,139.69 229.31,139.81 230.22,139.94 231.13,140.10 232.04,140.28 232.94,140.49 233.85,140.74 234.76,141.02 235.67,141.34 236.57,141.71 237.48,142.14 238.39,142.62 239.30,143.17 240.20,143.79 241.11,144.49 242.02,145.28 242.93,146.15 243.83,147.12 244.74,148.18 245.65,149.34 246.56,150.59 247.46,151.93 248.37,153.34 249.28,154.83 250.19,156.36 251.09,157.94 252.00,159.53 252.91,161.13 253.82,162.70 254.72,164.24 255.63,165.72 256.54,167.14 257.44,168.48 258.35,169.73 259.26,170.88 260.17,171.95 261.08,172.91 261.98,173.79 262.89,174.57 263.80,175.27 264.71,175.90 265.61,176.45 266.52,176.93 267.43,177.35 268.34,177.72 269.24,178.05 270.15,178.33 271.06,178.57 271.97,178.78 272.87,178.97 273.78,179.12 274.69,179.26 275.60,179.38 276.50,179.48 277.41,179.56 278.32,179.64 279.23,179.70 280.13,179.76 281.04,179.80 281.95,179.84 282.86,179.88 283.76,179.91 284.67,179.93 285.58,179.96 286.49,179.97 287.39,179.99 288.30,180.00" fill="none" stroke="#176b4f" stroke-width="1.3" stroke-linejoin="round" />
<line x1="230.22" y1="137.74" x2="230.22" y2="142.14" stroke="#176b4f" stroke-width="0.7"/>
<circle cx="230.22" cy="139.94" r="1.0" fill="#176b4f"/>
<line x1="241.11" y1="142.29" x2="241.11" y2="146.69" stroke="#176b4f" stroke-width="0.7"/>
<circle cx="241.11" cy="144.49" r="1.0" fill="#176b4f"/>
<line x1="252.00" y1="157.33" x2="252.00" y2="161.73" stroke="#176b4f" stroke-width="0.7"/>
<circle cx="252.00" cy="159.53" r="1.0" fill="#176b4f"/>
<line x1="262.89" y1="172.37" x2="262.89" y2="176.77" stroke="#176b4f" stroke-width="0.7"/>
<circle cx="262.89" cy="174.57" r="1.0" fill="#176b4f"/>
<line x1="270.15" y1="176.13" x2="270.15" y2="180.53" stroke="#176b4f" stroke-width="0.7"/>
<circle cx="270.15" cy="178.33" r="1.0" fill="#176b4f"/>
<line x1="279.23" y1="177.50" x2="279.23" y2="181.90" stroke="#176b4f" stroke-width="0.7"/>
<circle cx="279.23" cy="179.70" r="1.0" fill="#176b4f"/>
<line x1="288.30" y1="177.80" x2="288.30" y2="182.20" stroke="#176b4f" stroke-width="0.7"/>
<circle cx="288.30" cy="180.00" r="1.0" fill="#176b4f"/>
<polyline points="215.70,140.25 216.61,140.26 217.52,140.28 218.42,140.29 219.33,140.31 220.24,140.34 221.15,140.37 222.05,140.40 222.96,140.44 223.87,140.50 224.78,140.56 225.68,140.64 226.59,140.73 227.50,140.84 228.41,140.98 229.31,141.14 230.22,141.34 231.13,141.58 232.04,141.87 232.94,142.21 233.85,142.62 234.76,143.10 235.67,143.68 236.57,144.35 237.48,145.14 238.39,146.05 239.30,147.09 240.20,148.28 241.11,149.62 242.02,151.10 242.93,152.71 243.83,154.45 244.74,156.29 245.65,158.20 246.56,160.14 247.46,162.09 248.37,164.00 249.28,165.84 250.19,167.57 251.09,169.19 252.00,170.67 252.91,172.00 253.82,173.19 254.72,174.24 255.63,175.15 256.54,175.94 257.44,176.61 258.35,177.18 259.26,177.67 260.17,178.08 261.08,178.42 261.98,178.70 262.89,178.94 263.80,179.14 264.71,179.31 265.61,179.44 266.52,179.56 267.43,179.65 268.34,179.73 269.24,179.79 270.15,179.84 271.06,179.88 271.97,179.92 272.87,179.95 273.78,179.97 274.69,179.99 275.60,180.01 276.50,180.02 277.41,180.03 278.32,180.04 279.23,180.05 280.13,180.06 281.04,180.06 281.95,180.07 282.86,180.07 283.76,180.07 284.67,180.08 285.58,180.08 286.49,180.08 287.39,180.08 288.30,180.08" fill="none" stroke="#3f9b7e" stroke-width="1.3" stroke-linejoin="round" />
<line x1="230.22" y1="139.14" x2="230.22" y2="143.54" stroke="#3f9b7e" stroke-width="0.7"/>
<circle cx="230.22" cy="141.34" r="1.0" fill="#3f9b7e"/>
<line x1="241.11" y1="147.42" x2="241.11" y2="151.82" stroke="#3f9b7e" stroke-width="0.7"/>
<circle cx="241.11" cy="149.62" r="1.0" fill="#3f9b7e"/>
<line x1="252.00" y1="168.47" x2="252.00" y2="172.87" stroke="#3f9b7e" stroke-width="0.7"/>
<circle cx="252.00" cy="170.67" r="1.0" fill="#3f9b7e"/>
<line x1="262.89" y1="176.74" x2="262.89" y2="181.14" stroke="#3f9b7e" stroke-width="0.7"/>
<circle cx="262.89" cy="178.94" r="1.0" fill="#3f9b7e"/>
<line x1="270.15" y1="177.64" x2="270.15" y2="182.04" stroke="#3f9b7e" stroke-width="0.7"/>
<circle cx="270.15" cy="179.84" r="1.0" fill="#3f9b7e"/>
<line x1="279.23" y1="177.85" x2="279.23" y2="182.25" stroke="#3f9b7e" stroke-width="0.7"/>
<circle cx="279.23" cy="180.05" r="1.0" fill="#3f9b7e"/>
<line x1="288.30" y1="177.88" x2="288.30" y2="182.28" stroke="#3f9b7e" stroke-width="0.7"/>
<circle cx="288.30" cy="180.08" r="1.0" fill="#3f9b7e"/>
<line x1="215.40" y1="132.00" x2="215.40" y2="181.40" stroke="#000" stroke-width="1.1"/>
<line x1="214.90" y1="180.90" x2="289.40" y2="180.90" stroke="#000" stroke-width="1.1"/>
<line x1="212.40" y1="140.20" x2="215.40" y2="140.20" stroke="#000" stroke-width="0.9"/>
<line x1="212.40" y1="160.55" x2="215.40" y2="160.55" stroke="#000" stroke-width="0.9"/>
<line x1="212.40" y1="180.90" x2="215.40" y2="180.90" stroke="#000" stroke-width="0.9"/>
<line x1="215.70" y1="180.90" x2="215.70" y2="183.90" stroke="#000" stroke-width="0.9"/>
<text x="215.70" y="192.79" font-size="7.2" text-anchor="middle">0.0</text>
<line x1="233.85" y1="180.90" x2="233.85" y2="183.90" stroke="#000" stroke-width="0.9"/>
<text x="233.85" y="192.79" font-size="7.2" text-anchor="middle">0.5</text>
<line x1="252.00" y1="180.90" x2="252.00" y2="183.90" stroke="#000" stroke-width="0.9"/>
<text x="252.00" y="192.79" font-size="7.2" text-anchor="middle">1.0</text>
<line x1="270.15" y1="180.90" x2="270.15" y2="183.90" stroke="#000" stroke-width="0.9"/>
<text x="270.15" y="192.79" font-size="7.2" text-anchor="middle">1.5</text>
<line x1="288.30" y1="180.90" x2="288.30" y2="183.90" stroke="#000" stroke-width="0.9"/>
<text x="288.30" y="192.79" font-size="7.2" text-anchor="middle">2.0</text>
<text x="251.40" y="201.90" font-size="8" text-anchor="middle" fill="#231f20" textLength="46.5" lengthAdjust="spacingAndGlyphs">T417 (log<tspan font-size="5.8" dy="1.8">10</tspan><tspan dy="-1.8">μM)</tspan></text>
<text x="250.30" y="138.45" font-size="6.8" text-anchor="start" fill="#176b4f" textLength="49" lengthAdjust="spacingAndGlyphs">OVCAR-3: 9.9μM</text>
<text x="250.30" y="145.05" font-size="6.8" text-anchor="start" fill="#3f9b7e" textLength="40" lengthAdjust="spacingAndGlyphs">A2780: 6.7μm</text>
<polyline points="308.95,143.15 309.86,143.16 310.76,143.17 311.67,143.19 312.58,143.21 313.49,143.23 314.39,143.25 315.30,143.27 316.21,143.30 317.12,143.33 318.02,143.36 318.93,143.40 319.84,143.44 320.75,143.49 321.65,143.54 322.56,143.60 323.47,143.67 324.38,143.74 325.28,143.82 326.19,143.92 327.10,144.02 328.01,144.13 328.91,144.26 329.82,144.40 330.73,144.56 331.64,144.74 332.54,144.94 333.45,145.15 334.36,145.39 335.27,145.66 336.18,145.96 337.08,146.28 337.99,146.64 338.90,147.03 339.81,147.46 340.71,147.93 341.62,148.44 342.53,148.99 343.44,149.59 344.34,150.24 345.25,150.93 346.16,151.67 347.06,152.46 347.97,153.30 348.88,154.19 349.79,155.11 350.69,156.08 351.60,157.08 352.51,158.11 353.42,159.16 354.32,160.24 355.23,161.32 356.14,162.41 357.05,163.50 357.95,164.57 358.86,165.63 359.77,166.67 360.68,167.68 361.58,168.65 362.49,169.58 363.40,170.47 364.31,171.32 365.21,172.12 366.12,172.87 367.03,173.58 367.94,174.23 368.84,174.84 369.75,175.41 370.66,175.92 371.57,176.40 372.47,176.84 373.38,177.24 374.29,177.60 375.20,177.93 376.11,178.23 377.01,178.50 377.92,178.75 378.83,178.97 379.74,179.17 380.64,179.35 381.55,179.51" fill="none" stroke="#5c1f77" stroke-width="1.3" stroke-linejoin="round" />
<line x1="323.47" y1="141.47" x2="323.47" y2="145.87" stroke="#5c1f77" stroke-width="0.7"/>
<circle cx="323.47" cy="143.67" r="1.0" fill="#5c1f77"/>
<line x1="334.36" y1="143.19" x2="334.36" y2="147.59" stroke="#5c1f77" stroke-width="0.7"/>
<circle cx="334.36" cy="145.39" r="1.0" fill="#5c1f77"/>
<line x1="345.25" y1="148.73" x2="345.25" y2="153.13" stroke="#5c1f77" stroke-width="0.7"/>
<circle cx="345.25" cy="150.93" r="1.0" fill="#5c1f77"/>
<line x1="356.14" y1="160.21" x2="356.14" y2="164.61" stroke="#5c1f77" stroke-width="0.7"/>
<circle cx="356.14" cy="162.41" r="1.0" fill="#5c1f77"/>
<line x1="363.40" y1="168.27" x2="363.40" y2="172.67" stroke="#5c1f77" stroke-width="0.7"/>
<circle cx="363.40" cy="170.47" r="1.0" fill="#5c1f77"/>
<line x1="372.47" y1="174.64" x2="372.47" y2="179.04" stroke="#5c1f77" stroke-width="0.7"/>
<circle cx="372.47" cy="176.84" r="1.0" fill="#5c1f77"/>
<line x1="381.55" y1="177.31" x2="381.55" y2="181.71" stroke="#5c1f77" stroke-width="0.7"/>
<circle cx="381.55" cy="179.51" r="1.0" fill="#5c1f77"/>
<polyline points="308.95,145.61 309.86,145.79 310.76,145.98 311.67,146.20 312.58,146.43 313.49,146.67 314.39,146.93 315.30,147.22 316.21,147.52 317.12,147.85 318.02,148.19 318.93,148.56 319.84,148.96 320.75,149.38 321.65,149.83 322.56,150.30 323.47,150.80 324.38,151.33 325.28,151.88 326.19,152.46 327.10,153.07 328.01,153.71 328.91,154.38 329.82,155.06 330.73,155.78 331.64,156.51 332.54,157.27 333.45,158.05 334.36,158.84 335.27,159.64 336.18,160.46 337.08,161.29 337.99,162.12 338.90,162.96 339.81,163.79 340.71,164.62 341.62,165.44 342.53,166.26 343.44,167.06 344.34,167.84 345.25,168.61 346.16,169.36 347.06,170.09 347.97,170.79 348.88,171.47 349.79,172.12 350.69,172.75 351.60,173.35 352.51,173.92 353.42,174.47 354.32,174.98 355.23,175.47 356.14,175.93 357.05,176.37 357.95,176.78 358.86,177.16 359.77,177.53 360.68,177.86 361.58,178.18 362.49,178.48 363.40,178.75 364.31,179.01 365.21,179.25 366.12,179.47 367.03,179.67 367.94,179.86 368.84,180.04 369.75,180.20 370.66,180.35 371.57,180.49 372.47,180.62 373.38,180.74 374.29,180.85 375.20,180.90 376.11,180.90 377.01,180.90 377.92,180.90 378.83,180.90 379.74,180.90 380.64,180.90 381.55,180.90" fill="none" stroke="#8a50a8" stroke-width="1.3" stroke-linejoin="round" />
<line x1="323.47" y1="148.60" x2="323.47" y2="153.00" stroke="#8a50a8" stroke-width="0.7"/>
<circle cx="323.47" cy="150.80" r="1.0" fill="#8a50a8"/>
<line x1="334.36" y1="156.64" x2="334.36" y2="161.04" stroke="#8a50a8" stroke-width="0.7"/>
<circle cx="334.36" cy="158.84" r="1.0" fill="#8a50a8"/>
<line x1="345.25" y1="166.41" x2="345.25" y2="170.81" stroke="#8a50a8" stroke-width="0.7"/>
<circle cx="345.25" cy="168.61" r="1.0" fill="#8a50a8"/>
<line x1="356.14" y1="173.73" x2="356.14" y2="178.13" stroke="#8a50a8" stroke-width="0.7"/>
<circle cx="356.14" cy="175.93" r="1.0" fill="#8a50a8"/>
<line x1="363.40" y1="176.55" x2="363.40" y2="180.95" stroke="#8a50a8" stroke-width="0.7"/>
<circle cx="363.40" cy="178.75" r="1.0" fill="#8a50a8"/>
<line x1="372.47" y1="178.42" x2="372.47" y2="182.82" stroke="#8a50a8" stroke-width="0.7"/>
<circle cx="372.47" cy="180.62" r="1.0" fill="#8a50a8"/>
<line x1="381.55" y1="178.70" x2="381.55" y2="183.10" stroke="#8a50a8" stroke-width="0.7"/>
<circle cx="381.55" cy="180.90" r="1.0" fill="#8a50a8"/>
<line x1="308.65" y1="132.00" x2="308.65" y2="181.40" stroke="#000" stroke-width="1.1"/>
<line x1="308.15" y1="180.90" x2="382.65" y2="180.90" stroke="#000" stroke-width="1.1"/>
<line x1="305.65" y1="140.20" x2="308.65" y2="140.20" stroke="#000" stroke-width="0.9"/>
<line x1="305.65" y1="160.55" x2="308.65" y2="160.55" stroke="#000" stroke-width="0.9"/>
<line x1="305.65" y1="180.90" x2="308.65" y2="180.90" stroke="#000" stroke-width="0.9"/>
<line x1="308.95" y1="180.90" x2="308.95" y2="183.90" stroke="#000" stroke-width="0.9"/>
<text x="308.95" y="192.79" font-size="7.2" text-anchor="middle">0.0</text>
<line x1="327.10" y1="180.90" x2="327.10" y2="183.90" stroke="#000" stroke-width="0.9"/>
<text x="327.10" y="192.79" font-size="7.2" text-anchor="middle">0.5</text>
<line x1="345.25" y1="180.90" x2="345.25" y2="183.90" stroke="#000" stroke-width="0.9"/>
<text x="345.25" y="192.79" font-size="7.2" text-anchor="middle">1.0</text>
<line x1="363.40" y1="180.90" x2="363.40" y2="183.90" stroke="#000" stroke-width="0.9"/>
<text x="363.40" y="192.79" font-size="7.2" text-anchor="middle">1.5</text>
<line x1="381.55" y1="180.90" x2="381.55" y2="183.90" stroke="#000" stroke-width="0.9"/>
<text x="381.55" y="192.79" font-size="7.2" text-anchor="middle">2.0</text>
<text x="344.65" y="201.90" font-size="8" text-anchor="middle" fill="#231f20" textLength="46.5" lengthAdjust="spacingAndGlyphs">T417 (log<tspan font-size="5.8" dy="1.8">10</tspan><tspan dy="-1.8">μM)</tspan></text>
<text x="345.80" y="138.15" font-size="6.8" text-anchor="start" fill="#5c1f77" textLength="40.5" lengthAdjust="spacingAndGlyphs">A549: 24.3μM</text>
<text x="345.80" y="144.75" font-size="6.8" text-anchor="start" fill="#8a50a8" textLength="41" lengthAdjust="spacingAndGlyphs">H69AR: 6.9μm</text>
<polyline points="401.90,140.74 402.81,140.78 403.72,140.83 404.62,140.88 405.53,140.93 406.44,140.99 407.35,141.06 408.25,141.13 409.16,141.20 410.07,141.28 410.98,141.37 411.88,141.46 412.79,141.56 413.70,141.67 414.61,141.78 415.51,141.91 416.42,142.04 417.33,142.18 418.24,142.34 419.14,142.51 420.05,142.68 420.96,142.87 421.87,143.08 422.77,143.30 423.68,143.53 424.59,143.78 425.50,144.05 426.40,144.34 427.31,144.64 428.22,144.96 429.13,145.31 430.03,145.67 430.94,146.06 431.85,146.47 432.76,146.91 433.66,147.36 434.57,147.85 435.48,148.35 436.39,148.89 437.29,149.45 438.20,150.03 439.11,150.64 440.02,151.27 440.92,151.93 441.83,152.62 442.74,153.32 443.65,154.05 444.55,154.80 445.46,155.57 446.37,156.35 447.28,157.15 448.18,157.96 449.09,158.79 450.00,159.62 450.91,160.46 451.81,161.30 452.72,162.14 453.63,162.98 454.54,163.82 455.44,164.65 456.35,165.47 457.26,166.27 458.17,167.07 459.07,167.85 459.98,168.61 460.89,169.35 461.80,170.07 462.70,170.77 463.61,171.44 464.52,172.09 465.43,172.72 466.33,173.32 467.24,173.89 468.15,174.44 469.06,174.97 469.96,175.47 470.87,175.94 471.78,176.39 472.69,176.81 473.59,177.22 474.50,177.60" fill="none" stroke="#7a4a1c" stroke-width="1.3" stroke-linejoin="round" />
<line x1="416.42" y1="139.84" x2="416.42" y2="144.24" stroke="#7a4a1c" stroke-width="0.7"/>
<circle cx="416.42" cy="142.04" r="1.0" fill="#7a4a1c"/>
<line x1="427.31" y1="142.44" x2="427.31" y2="146.84" stroke="#7a4a1c" stroke-width="0.7"/>
<circle cx="427.31" cy="144.64" r="1.0" fill="#7a4a1c"/>
<line x1="438.20" y1="147.83" x2="438.20" y2="152.23" stroke="#7a4a1c" stroke-width="0.7"/>
<circle cx="438.20" cy="150.03" r="1.0" fill="#7a4a1c"/>
<line x1="449.09" y1="156.59" x2="449.09" y2="160.99" stroke="#7a4a1c" stroke-width="0.7"/>
<circle cx="449.09" cy="158.79" r="1.0" fill="#7a4a1c"/>
<line x1="456.35" y1="163.27" x2="456.35" y2="167.67" stroke="#7a4a1c" stroke-width="0.7"/>
<circle cx="456.35" cy="165.47" r="1.0" fill="#7a4a1c"/>
<line x1="465.43" y1="170.52" x2="465.43" y2="174.92" stroke="#7a4a1c" stroke-width="0.7"/>
<circle cx="465.43" cy="172.72" r="1.0" fill="#7a4a1c"/>
<line x1="474.50" y1="175.40" x2="474.50" y2="179.80" stroke="#7a4a1c" stroke-width="0.7"/>
<circle cx="474.50" cy="177.60" r="1.0" fill="#7a4a1c"/>
<line x1="401.60" y1="132.00" x2="401.60" y2="181.40" stroke="#000" stroke-width="1.1"/>
<line x1="401.10" y1="180.90" x2="475.60" y2="180.90" stroke="#000" stroke-width="1.1"/>
<line x1="398.60" y1="140.20" x2="401.60" y2="140.20" stroke="#000" stroke-width="0.9"/>
<line x1="398.60" y1="160.55" x2="401.60" y2="160.55" stroke="#000" stroke-width="0.9"/>
<line x1="398.60" y1="180.90" x2="401.60" y2="180.90" stroke="#000" stroke-width="0.9"/>
<line x1="401.90" y1="180.90" x2="401.90" y2="183.90" stroke="#000" stroke-width="0.9"/>
<text x="401.90" y="192.79" font-size="7.2" text-anchor="middle">0.0</text>
<line x1="420.05" y1="180.90" x2="420.05" y2="183.90" stroke="#000" stroke-width="0.9"/>
<text x="420.05" y="192.79" font-size="7.2" text-anchor="middle">0.5</text>
<line x1="438.20" y1="180.90" x2="438.20" y2="183.90" stroke="#000" stroke-width="0.9"/>
<text x="438.20" y="192.79" font-size="7.2" text-anchor="middle">1.0</text>
<line x1="456.35" y1="180.90" x2="456.35" y2="183.90" stroke="#000" stroke-width="0.9"/>
<text x="456.35" y="192.79" font-size="7.2" text-anchor="middle">1.5</text>
<line x1="474.50" y1="180.90" x2="474.50" y2="183.90" stroke="#000" stroke-width="0.9"/>
<text x="474.50" y="192.79" font-size="7.2" text-anchor="middle">2.0</text>
<text x="437.60" y="201.90" font-size="8" text-anchor="middle" fill="#231f20" textLength="46.5" lengthAdjust="spacingAndGlyphs">T417 (log<tspan font-size="5.8" dy="1.8">10</tspan><tspan dy="-1.8">μM)</tspan></text>
<text x="428.20" y="139.25" font-size="6.8" text-anchor="start" fill="#7a4a1c" textLength="46.7" lengthAdjust="spacingAndGlyphs">SNB-75: 27.6μM</text>
<text x="11.30" y="163.48" font-size="8.0" text-anchor="middle" textLength="36.3" lengthAdjust="spacingAndGlyphs" transform="rotate(-90 11.30 160.60)">Cell viability</text>
<text x="60.90" y="218.13" font-size="7.3" text-anchor="middle" font-weight="bold" fill="#1a9aab" textLength="20.46" lengthAdjust="spacingAndGlyphs">MM1S</text>
<rect x="50.70" y="227.00" width="8.50" height="10.70" fill="#a9dde4"/>
<rect x="50.70" y="237.70" width="8.50" height="6.90" fill="#3fbccc"/>
<rect x="50.70" y="244.60" width="8.50" height="28.40" fill="#2a97a4"/>
<line x1="52.20" y1="244.60" x2="57.70" y2="244.60" stroke="#333" stroke-width="0.6"/>
<line x1="52.20" y1="237.70" x2="57.70" y2="237.70" stroke="#333" stroke-width="0.6"/>
<rect x="53.05" y="231.75" width="1.2" height="1.2" fill="#1a1a1a" opacity="0.8"/>
<rect x="55.45" y="231.75" width="1.2" height="1.2" fill="#1a1a1a" opacity="0.8"/>
<rect x="53.05" y="240.55" width="1.2" height="1.2" fill="#1a1a1a" opacity="0.8"/>
<rect x="55.45" y="240.55" width="1.2" height="1.2" fill="#1a1a1a" opacity="0.8"/>
<rect x="53.05" y="250.00" width="1.2" height="1.2" fill="#1a1a1a" opacity="0.8"/>
<rect x="55.45" y="250.00" width="1.2" height="1.2" fill="#1a1a1a" opacity="0.8"/>
<rect x="64.00" y="227.00" width="8.50" height="4.00" fill="#a9dde4"/>
<rect x="64.00" y="231.00" width="8.50" height="42.00" fill="#2a97a4"/>
<line x1="65.50" y1="231.00" x2="71.00" y2="231.00" stroke="#333" stroke-width="0.6"/>
<line x1="46.20" y1="224.50" x2="46.20" y2="273.50" stroke="#000" stroke-width="1.1"/>
<line x1="45.70" y1="273.00" x2="77.20" y2="273.00" stroke="#000" stroke-width="1.1"/>
<line x1="43.20" y1="227.00" x2="46.20" y2="227.00" stroke="#000" stroke-width="0.9"/>
<line x1="43.20" y1="250.00" x2="46.20" y2="250.00" stroke="#000" stroke-width="0.9"/>
<line x1="43.20" y1="273.00" x2="46.20" y2="273.00" stroke="#000" stroke-width="0.9"/>
<line x1="46.20" y1="273.00" x2="46.20" y2="276.00" stroke="#000" stroke-width="0.9"/>
<line x1="54.95" y1="273.00" x2="54.95" y2="276.00" stroke="#000" stroke-width="0.9"/>
<line x1="68.20" y1="273.00" x2="68.20" y2="276.00" stroke="#000" stroke-width="0.9"/>
<line x1="77.20" y1="273.00" x2="77.20" y2="276.00" stroke="#000" stroke-width="0.9"/>
<text x="40.50" y="229.59" font-size="7.2" text-anchor="end">100</text>
<text x="40.50" y="252.59" font-size="7.2" text-anchor="end">50</text>
<text x="40.50" y="275.59" font-size="7.2" text-anchor="end">0</text>
<text x="57.00" y="283.4" font-size="7.6" text-anchor="end" fill="#231f20" transform="rotate(-45 57.00 283.4)" textLength="22" lengthAdjust="spacingAndGlyphs">Control</text>
<text x="70.40" y="283.4" font-size="7.6" text-anchor="end" fill="#231f20" transform="rotate(-45 70.40 283.4)" textLength="14" lengthAdjust="spacingAndGlyphs">T417</text>
<text x="104.40" y="218.13" font-size="7.3" text-anchor="middle" font-weight="bold" fill="#2cb6cf" textLength="20.07" lengthAdjust="spacingAndGlyphs">OPM2</text>
<rect x="94.20" y="227.00" width="8.50" height="8.40" fill="#a9dde4"/>
<rect x="94.20" y="235.40" width="8.50" height="9.20" fill="#3fbccc"/>
<rect x="94.20" y="244.60" width="8.50" height="28.40" fill="#2a97a4"/>
<line x1="95.70" y1="244.60" x2="101.20" y2="244.60" stroke="#333" stroke-width="0.6"/>
<line x1="95.70" y1="235.40" x2="101.20" y2="235.40" stroke="#333" stroke-width="0.6"/>
<rect x="96.55" y="230.60" width="1.2" height="1.2" fill="#1a1a1a" opacity="0.8"/>
<rect x="98.95" y="230.60" width="1.2" height="1.2" fill="#1a1a1a" opacity="0.8"/>
<rect x="96.55" y="239.40" width="1.2" height="1.2" fill="#1a1a1a" opacity="0.8"/>
<rect x="98.95" y="239.40" width="1.2" height="1.2" fill="#1a1a1a" opacity="0.8"/>
<rect x="96.55" y="250.00" width="1.2" height="1.2" fill="#1a1a1a" opacity="0.8"/>
<rect x="98.95" y="250.00" width="1.2" height="1.2" fill="#1a1a1a" opacity="0.8"/>
<rect x="107.50" y="227.00" width="8.50" height="3.00" fill="#a9dde4"/>
<rect x="107.50" y="230.00" width="8.50" height="43.00" fill="#2a97a4"/>
<line x1="109.00" y1="230.00" x2="114.50" y2="230.00" stroke="#333" stroke-width="0.6"/>
<line x1="89.70" y1="224.50" x2="89.70" y2="273.50" stroke="#000" stroke-width="1.1"/>
<line x1="89.20" y1="273.00" x2="120.70" y2="273.00" stroke="#000" stroke-width="1.1"/>
<line x1="86.70" y1="227.00" x2="89.70" y2="227.00" stroke="#000" stroke-width="0.9"/>
<line x1="86.70" y1="250.00" x2="89.70" y2="250.00" stroke="#000" stroke-width="0.9"/>
<line x1="86.70" y1="273.00" x2="89.70" y2="273.00" stroke="#000" stroke-width="0.9"/>
<line x1="89.70" y1="273.00" x2="89.70" y2="276.00" stroke="#000" stroke-width="0.9"/>
<line x1="98.45" y1="273.00" x2="98.45" y2="276.00" stroke="#000" stroke-width="0.9"/>
<line x1="111.70" y1="273.00" x2="111.70" y2="276.00" stroke="#000" stroke-width="0.9"/>
<line x1="120.70" y1="273.00" x2="120.70" y2="276.00" stroke="#000" stroke-width="0.9"/>
<text x="100.50" y="283.4" font-size="7.6" text-anchor="end" fill="#231f20" transform="rotate(-45 100.50 283.4)" textLength="22" lengthAdjust="spacingAndGlyphs">Control</text>
<text x="113.90" y="283.4" font-size="7.6" text-anchor="end" fill="#231f20" transform="rotate(-45 113.90 283.4)" textLength="14" lengthAdjust="spacingAndGlyphs">T417</text>
<text x="147.90" y="218.13" font-size="7.3" text-anchor="middle" font-weight="bold" fill="#9fd8e6" textLength="16.93" lengthAdjust="spacingAndGlyphs">U266</text>
<rect x="137.70" y="227.00" width="8.50" height="10.50" fill="#a9dde4"/>
<rect x="137.70" y="237.50" width="8.50" height="7.50" fill="#3fbccc"/>
<rect x="137.70" y="245.00" width="8.50" height="28.00" fill="#2a97a4"/>
<line x1="139.20" y1="245.00" x2="144.70" y2="245.00" stroke="#333" stroke-width="0.6"/>
<line x1="139.20" y1="237.50" x2="144.70" y2="237.50" stroke="#333" stroke-width="0.6"/>
<rect x="140.05" y="231.65" width="1.2" height="1.2" fill="#1a1a1a" opacity="0.8"/>
<rect x="142.45" y="231.65" width="1.2" height="1.2" fill="#1a1a1a" opacity="0.8"/>
<rect x="140.05" y="240.65" width="1.2" height="1.2" fill="#1a1a1a" opacity="0.8"/>
<rect x="142.45" y="240.65" width="1.2" height="1.2" fill="#1a1a1a" opacity="0.8"/>
<rect x="140.05" y="250.40" width="1.2" height="1.2" fill="#1a1a1a" opacity="0.8"/>
<rect x="142.45" y="250.40" width="1.2" height="1.2" fill="#1a1a1a" opacity="0.8"/>
<rect x="151.00" y="227.00" width="8.50" height="4.25" fill="#a9dde4"/>
<rect x="151.00" y="231.25" width="8.50" height="41.75" fill="#2a97a4"/>
<line x1="152.50" y1="231.25" x2="158.00" y2="231.25" stroke="#333" stroke-width="0.6"/>
<line x1="133.20" y1="224.50" x2="133.20" y2="273.50" stroke="#000" stroke-width="1.1"/>
<line x1="132.70" y1="273.00" x2="164.20" y2="273.00" stroke="#000" stroke-width="1.1"/>
<line x1="130.20" y1="227.00" x2="133.20" y2="227.00" stroke="#000" stroke-width="0.9"/>
<line x1="130.20" y1="250.00" x2="133.20" y2="250.00" stroke="#000" stroke-width="0.9"/>
<line x1="130.20" y1="273.00" x2="133.20" y2="273.00" stroke="#000" stroke-width="0.9"/>
<line x1="133.20" y1="273.00" x2="133.20" y2="276.00" stroke="#000" stroke-width="0.9"/>
<line x1="141.95" y1="273.00" x2="141.95" y2="276.00" stroke="#000" stroke-width="0.9"/>
<line x1="155.20" y1="273.00" x2="155.20" y2="276.00" stroke="#000" stroke-width="0.9"/>
<line x1="164.20" y1="273.00" x2="164.20" y2="276.00" stroke="#000" stroke-width="0.9"/>
<text x="144.00" y="283.4" font-size="7.6" text-anchor="end" fill="#231f20" transform="rotate(-45 144.00 283.4)" textLength="22" lengthAdjust="spacingAndGlyphs">Control</text>
<text x="157.40" y="283.4" font-size="7.6" text-anchor="end" fill="#231f20" transform="rotate(-45 157.40 283.4)" textLength="14" lengthAdjust="spacingAndGlyphs">T417</text>
<text x="191.40" y="218.13" font-size="7.3" text-anchor="middle" font-weight="bold" fill="#7a6cc0" textLength="31.08" lengthAdjust="spacingAndGlyphs">NCUMM1</text>
<rect x="181.20" y="227.00" width="8.50" height="8.00" fill="#a9dde4"/>
<rect x="181.20" y="235.00" width="8.50" height="8.75" fill="#3fbccc"/>
<rect x="181.20" y="243.75" width="8.50" height="29.25" fill="#2a97a4"/>
<line x1="182.70" y1="243.75" x2="188.20" y2="243.75" stroke="#333" stroke-width="0.6"/>
<line x1="182.70" y1="235.00" x2="188.20" y2="235.00" stroke="#333" stroke-width="0.6"/>
<rect x="183.55" y="230.40" width="1.2" height="1.2" fill="#1a1a1a" opacity="0.8"/>
<rect x="185.95" y="230.40" width="1.2" height="1.2" fill="#1a1a1a" opacity="0.8"/>
<rect x="183.55" y="238.78" width="1.2" height="1.2" fill="#1a1a1a" opacity="0.8"/>
<rect x="185.95" y="238.78" width="1.2" height="1.2" fill="#1a1a1a" opacity="0.8"/>
<rect x="183.55" y="249.15" width="1.2" height="1.2" fill="#1a1a1a" opacity="0.8"/>
<rect x="185.95" y="249.15" width="1.2" height="1.2" fill="#1a1a1a" opacity="0.8"/>
<rect x="194.50" y="227.00" width="8.50" height="3.00" fill="#a9dde4"/>
<rect x="194.50" y="230.00" width="8.50" height="43.00" fill="#2a97a4"/>
<line x1="196.00" y1="230.00" x2="201.50" y2="230.00" stroke="#333" stroke-width="0.6"/>
<line x1="176.70" y1="224.50" x2="176.70" y2="273.50" stroke="#000" stroke-width="1.1"/>
<line x1="176.20" y1="273.00" x2="207.70" y2="273.00" stroke="#000" stroke-width="1.1"/>
<line x1="173.70" y1="227.00" x2="176.70" y2="227.00" stroke="#000" stroke-width="0.9"/>
<line x1="173.70" y1="250.00" x2="176.70" y2="250.00" stroke="#000" stroke-width="0.9"/>
<line x1="173.70" y1="273.00" x2="176.70" y2="273.00" stroke="#000" stroke-width="0.9"/>
<line x1="176.70" y1="273.00" x2="176.70" y2="276.00" stroke="#000" stroke-width="0.9"/>
<line x1="185.45" y1="273.00" x2="185.45" y2="276.00" stroke="#000" stroke-width="0.9"/>
<line x1="198.70" y1="273.00" x2="198.70" y2="276.00" stroke="#000" stroke-width="0.9"/>
<line x1="207.70" y1="273.00" x2="207.70" y2="276.00" stroke="#000" stroke-width="0.9"/>
<text x="187.50" y="283.4" font-size="7.6" text-anchor="end" fill="#231f20" transform="rotate(-45 187.50 283.4)" textLength="22" lengthAdjust="spacingAndGlyphs">Control</text>
<text x="200.90" y="283.4" font-size="7.6" text-anchor="end" fill="#231f20" transform="rotate(-45 200.90 283.4)" textLength="14" lengthAdjust="spacingAndGlyphs">T417</text>
<text x="234.90" y="218.13" font-size="7.3" text-anchor="middle" font-weight="bold" fill="#c0182d" textLength="17.96" lengthAdjust="spacingAndGlyphs">LTED</text>
<rect x="224.70" y="227.00" width="8.50" height="9.50" fill="#f1cfd2"/>
<rect x="224.70" y="236.50" width="8.50" height="3.70" fill="#df9aa2"/>
<rect x="224.70" y="240.20" width="8.50" height="32.80" fill="#c04a5a"/>
<line x1="226.20" y1="240.20" x2="231.70" y2="240.20" stroke="#333" stroke-width="0.6"/>
<line x1="226.20" y1="236.50" x2="231.70" y2="236.50" stroke="#333" stroke-width="0.6"/>
<rect x="227.05" y="231.15" width="1.2" height="1.2" fill="#1a1a1a" opacity="0.8"/>
<rect x="229.45" y="231.15" width="1.2" height="1.2" fill="#1a1a1a" opacity="0.8"/>
<rect x="227.05" y="237.75" width="1.2" height="1.2" fill="#1a1a1a" opacity="0.8"/>
<rect x="229.45" y="237.75" width="1.2" height="1.2" fill="#1a1a1a" opacity="0.8"/>
<rect x="227.05" y="245.60" width="1.2" height="1.2" fill="#1a1a1a" opacity="0.8"/>
<rect x="229.45" y="245.60" width="1.2" height="1.2" fill="#1a1a1a" opacity="0.8"/>
<rect x="238.00" y="227.00" width="8.50" height="4.90" fill="#f1cfd2"/>
<rect x="238.00" y="231.90" width="8.50" height="41.10" fill="#c04a5a"/>
<line x1="239.50" y1="231.90" x2="245.00" y2="231.90" stroke="#333" stroke-width="0.6"/>
<line x1="220.20" y1="224.50" x2="220.20" y2="273.50" stroke="#000" stroke-width="1.1"/>
<line x1="219.70" y1="273.00" x2="251.20" y2="273.00" stroke="#000" stroke-width="1.1"/>
<line x1="217.20" y1="227.00" x2="220.20" y2="227.00" stroke="#000" stroke-width="0.9"/>
<line x1="217.20" y1="250.00" x2="220.20" y2="250.00" stroke="#000" stroke-width="0.9"/>
<line x1="217.20" y1="273.00" x2="220.20" y2="273.00" stroke="#000" stroke-width="0.9"/>
<line x1="220.20" y1="273.00" x2="220.20" y2="276.00" stroke="#000" stroke-width="0.9"/>
<line x1="228.95" y1="273.00" x2="228.95" y2="276.00" stroke="#000" stroke-width="0.9"/>
<line x1="242.20" y1="273.00" x2="242.20" y2="276.00" stroke="#000" stroke-width="0.9"/>
<line x1="251.20" y1="273.00" x2="251.20" y2="276.00" stroke="#000" stroke-width="0.9"/>
<text x="231.00" y="283.4" font-size="7.6" text-anchor="end" fill="#231f20" transform="rotate(-45 231.00 283.4)" textLength="22" lengthAdjust="spacingAndGlyphs">Control</text>
<text x="244.40" y="283.4" font-size="7.6" text-anchor="end" fill="#231f20" transform="rotate(-45 244.40 283.4)" textLength="14" lengthAdjust="spacingAndGlyphs">T417</text>
<text x="278.40" y="218.13" font-size="7.3" text-anchor="middle" font-weight="bold" fill="#f0404e" textLength="21.63" lengthAdjust="spacingAndGlyphs">MCF-7</text>
<rect x="268.20" y="227.00" width="8.50" height="10.20" fill="#f1cfd2"/>
<rect x="268.20" y="237.20" width="8.50" height="5.50" fill="#df9aa2"/>
<rect x="268.20" y="242.70" width="8.50" height="30.30" fill="#c04a5a"/>
<line x1="269.70" y1="242.70" x2="275.20" y2="242.70" stroke="#333" stroke-width="0.6"/>
<line x1="269.70" y1="237.20" x2="275.20" y2="237.20" stroke="#333" stroke-width="0.6"/>
<rect x="270.55" y="231.50" width="1.2" height="1.2" fill="#1a1a1a" opacity="0.8"/>
<rect x="272.95" y="231.50" width="1.2" height="1.2" fill="#1a1a1a" opacity="0.8"/>
<rect x="270.55" y="239.35" width="1.2" height="1.2" fill="#1a1a1a" opacity="0.8"/>
<rect x="272.95" y="239.35" width="1.2" height="1.2" fill="#1a1a1a" opacity="0.8"/>
<rect x="270.55" y="248.10" width="1.2" height="1.2" fill="#1a1a1a" opacity="0.8"/>
<rect x="272.95" y="248.10" width="1.2" height="1.2" fill="#1a1a1a" opacity="0.8"/>
<rect x="281.50" y="227.00" width="8.50" height="9.50" fill="#f1cfd2"/>
<rect x="281.50" y="236.50" width="8.50" height="36.50" fill="#c04a5a"/>
<line x1="283.00" y1="236.50" x2="288.50" y2="236.50" stroke="#333" stroke-width="0.6"/>
<line x1="263.70" y1="224.50" x2="263.70" y2="273.50" stroke="#000" stroke-width="1.1"/>
<line x1="263.20" y1="273.00" x2="294.70" y2="273.00" stroke="#000" stroke-width="1.1"/>
<line x1="260.70" y1="227.00" x2="263.70" y2="227.00" stroke="#000" stroke-width="0.9"/>
<line x1="260.70" y1="250.00" x2="263.70" y2="250.00" stroke="#000" stroke-width="0.9"/>
<line x1="260.70" y1="273.00" x2="263.70" y2="273.00" stroke="#000" stroke-width="0.9"/>
<line x1="263.70" y1="273.00" x2="263.70" y2="276.00" stroke="#000" stroke-width="0.9"/>
<line x1="272.45" y1="273.00" x2="272.45" y2="276.00" stroke="#000" stroke-width="0.9"/>
<line x1="285.70" y1="273.00" x2="285.70" y2="276.00" stroke="#000" stroke-width="0.9"/>
<line x1="294.70" y1="273.00" x2="294.70" y2="276.00" stroke="#000" stroke-width="0.9"/>
<text x="274.50" y="283.4" font-size="7.6" text-anchor="end" fill="#231f20" transform="rotate(-45 274.50 283.4)" textLength="22" lengthAdjust="spacingAndGlyphs">Control</text>
<text x="287.90" y="283.4" font-size="7.6" text-anchor="end" fill="#231f20" transform="rotate(-45 287.90 283.4)" textLength="14" lengthAdjust="spacingAndGlyphs">T417</text>
<text x="321.90" y="218.13" font-size="7.3" text-anchor="middle" font-weight="bold" fill="#1a7052" textLength="31.87" lengthAdjust="spacingAndGlyphs">OVCAR-3</text>
<rect x="311.70" y="227.00" width="8.50" height="8.00" fill="#a9d4c4"/>
<rect x="311.70" y="235.00" width="8.50" height="4.60" fill="#5cae94"/>
<rect x="311.70" y="239.60" width="8.50" height="33.40" fill="#2d866b"/>
<line x1="313.20" y1="239.60" x2="318.70" y2="239.60" stroke="#333" stroke-width="0.6"/>
<line x1="313.20" y1="235.00" x2="318.70" y2="235.00" stroke="#333" stroke-width="0.6"/>
<rect x="314.05" y="230.40" width="1.2" height="1.2" fill="#1a1a1a" opacity="0.8"/>
<rect x="316.45" y="230.40" width="1.2" height="1.2" fill="#1a1a1a" opacity="0.8"/>
<rect x="314.05" y="236.70" width="1.2" height="1.2" fill="#1a1a1a" opacity="0.8"/>
<rect x="316.45" y="236.70" width="1.2" height="1.2" fill="#1a1a1a" opacity="0.8"/>
<rect x="314.05" y="245.00" width="1.2" height="1.2" fill="#1a1a1a" opacity="0.8"/>
<rect x="316.45" y="245.00" width="1.2" height="1.2" fill="#1a1a1a" opacity="0.8"/>
<rect x="325.00" y="227.00" width="8.50" height="4.90" fill="#a9d4c4"/>
<rect x="325.00" y="231.90" width="8.50" height="4.10" fill="#5cae94"/>
<rect x="325.00" y="236.00" width="8.50" height="37.00" fill="#2d866b"/>
<line x1="326.50" y1="236.00" x2="332.00" y2="236.00" stroke="#333" stroke-width="0.6"/>
<line x1="307.20" y1="224.50" x2="307.20" y2="273.50" stroke="#000" stroke-width="1.1"/>
<line x1="306.70" y1="273.00" x2="338.20" y2="273.00" stroke="#000" stroke-width="1.1"/>
<line x1="304.20" y1="227.00" x2="307.20" y2="227.00" stroke="#000" stroke-width="0.9"/>
<line x1="304.20" y1="250.00" x2="307.20" y2="250.00" stroke="#000" stroke-width="0.9"/>
<line x1="304.20" y1="273.00" x2="307.20" y2="273.00" stroke="#000" stroke-width="0.9"/>
<line x1="307.20" y1="273.00" x2="307.20" y2="276.00" stroke="#000" stroke-width="0.9"/>
<line x1="315.95" y1="273.00" x2="315.95" y2="276.00" stroke="#000" stroke-width="0.9"/>
<line x1="329.20" y1="273.00" x2="329.20" y2="276.00" stroke="#000" stroke-width="0.9"/>
<line x1="338.20" y1="273.00" x2="338.20" y2="276.00" stroke="#000" stroke-width="0.9"/>
<text x="318.00" y="283.4" font-size="7.6" text-anchor="end" fill="#231f20" transform="rotate(-45 318.00 283.4)" textLength="22" lengthAdjust="spacingAndGlyphs">Control</text>
<text x="331.40" y="283.4" font-size="7.6" text-anchor="end" fill="#231f20" transform="rotate(-45 331.40 283.4)" textLength="14" lengthAdjust="spacingAndGlyphs">T417</text>
<text x="365.40" y="218.13" font-size="7.3" text-anchor="middle" font-weight="bold" fill="#3c9e80" textLength="20.86" lengthAdjust="spacingAndGlyphs">A2780</text>
<rect x="355.20" y="227.00" width="8.50" height="9.00" fill="#a9d4c4"/>
<rect x="355.20" y="236.00" width="8.50" height="5.20" fill="#5cae94"/>
<rect x="355.20" y="241.20" width="8.50" height="31.80" fill="#2d866b"/>
<line x1="356.70" y1="241.20" x2="362.20" y2="241.20" stroke="#333" stroke-width="0.6"/>
<line x1="356.70" y1="236.00" x2="362.20" y2="236.00" stroke="#333" stroke-width="0.6"/>
<rect x="357.55" y="230.90" width="1.2" height="1.2" fill="#1a1a1a" opacity="0.8"/>
<rect x="359.95" y="230.90" width="1.2" height="1.2" fill="#1a1a1a" opacity="0.8"/>
<rect x="357.55" y="238.00" width="1.2" height="1.2" fill="#1a1a1a" opacity="0.8"/>
<rect x="359.95" y="238.00" width="1.2" height="1.2" fill="#1a1a1a" opacity="0.8"/>
<rect x="357.55" y="246.60" width="1.2" height="1.2" fill="#1a1a1a" opacity="0.8"/>
<rect x="359.95" y="246.60" width="1.2" height="1.2" fill="#1a1a1a" opacity="0.8"/>
<rect x="368.50" y="227.00" width="8.50" height="4.90" fill="#a9d4c4"/>
<rect x="368.50" y="231.90" width="8.50" height="2.10" fill="#5cae94"/>
<rect x="368.50" y="234.00" width="8.50" height="39.00" fill="#2d866b"/>
<line x1="370.00" y1="234.00" x2="375.50" y2="234.00" stroke="#333" stroke-width="0.6"/>
<line x1="350.70" y1="224.50" x2="350.70" y2="273.50" stroke="#000" stroke-width="1.1"/>
<line x1="350.20" y1="273.00" x2="381.70" y2="273.00" stroke="#000" stroke-width="1.1"/>
<line x1="347.70" y1="227.00" x2="350.70" y2="227.00" stroke="#000" stroke-width="0.9"/>
<line x1="347.70" y1="250.00" x2="350.70" y2="250.00" stroke="#000" stroke-width="0.9"/>
<line x1="347.70" y1="273.00" x2="350.70" y2="273.00" stroke="#000" stroke-width="0.9"/>
<line x1="350.70" y1="273.00" x2="350.70" y2="276.00" stroke="#000" stroke-width="0.9"/>
<line x1="359.45" y1="273.00" x2="359.45" y2="276.00" stroke="#000" stroke-width="0.9"/>
<line x1="372.70" y1="273.00" x2="372.70" y2="276.00" stroke="#000" stroke-width="0.9"/>
<line x1="381.70" y1="273.00" x2="381.70" y2="276.00" stroke="#000" stroke-width="0.9"/>
<text x="361.50" y="283.4" font-size="7.6" text-anchor="end" fill="#231f20" transform="rotate(-45 361.50 283.4)" textLength="22" lengthAdjust="spacingAndGlyphs">Control</text>
<text x="374.90" y="283.4" font-size="7.6" text-anchor="end" fill="#231f20" transform="rotate(-45 374.90 283.4)" textLength="14" lengthAdjust="spacingAndGlyphs">T417</text>
<text x="408.90" y="218.13" font-size="7.3" text-anchor="middle" font-weight="bold" fill="#6a2a8e" textLength="16.93" lengthAdjust="spacingAndGlyphs">A549</text>
<rect x="398.70" y="227.00" width="8.50" height="6.75" fill="#cdb4db"/>
<rect x="398.70" y="233.75" width="8.50" height="5.00" fill="#a27cc0"/>
<rect x="398.70" y="238.75" width="8.50" height="34.25" fill="#8050a0"/>
<line x1="400.20" y1="238.75" x2="405.70" y2="238.75" stroke="#333" stroke-width="0.6"/>
<line x1="400.20" y1="233.75" x2="405.70" y2="233.75" stroke="#333" stroke-width="0.6"/>
<rect x="401.05" y="229.78" width="1.2" height="1.2" fill="#1a1a1a" opacity="0.8"/>
<rect x="403.45" y="229.78" width="1.2" height="1.2" fill="#1a1a1a" opacity="0.8"/>
<rect x="401.05" y="235.65" width="1.2" height="1.2" fill="#1a1a1a" opacity="0.8"/>
<rect x="403.45" y="235.65" width="1.2" height="1.2" fill="#1a1a1a" opacity="0.8"/>
<rect x="401.05" y="244.15" width="1.2" height="1.2" fill="#1a1a1a" opacity="0.8"/>
<rect x="403.45" y="244.15" width="1.2" height="1.2" fill="#1a1a1a" opacity="0.8"/>
<rect x="412.00" y="227.00" width="8.50" height="7.50" fill="#cdb4db"/>
<rect x="412.00" y="234.50" width="8.50" height="38.50" fill="#8050a0"/>
<line x1="413.50" y1="234.50" x2="419.00" y2="234.50" stroke="#333" stroke-width="0.6"/>
<line x1="394.20" y1="224.50" x2="394.20" y2="273.50" stroke="#000" stroke-width="1.1"/>
<line x1="393.70" y1="273.00" x2="425.20" y2="273.00" stroke="#000" stroke-width="1.1"/>
<line x1="391.20" y1="227.00" x2="394.20" y2="227.00" stroke="#000" stroke-width="0.9"/>
<line x1="391.20" y1="250.00" x2="394.20" y2="250.00" stroke="#000" stroke-width="0.9"/>
<line x1="391.20" y1="273.00" x2="394.20" y2="273.00" stroke="#000" stroke-width="0.9"/>
<line x1="394.20" y1="273.00" x2="394.20" y2="276.00" stroke="#000" stroke-width="0.9"/>
<line x1="402.95" y1="273.00" x2="402.95" y2="276.00" stroke="#000" stroke-width="0.9"/>
<line x1="416.20" y1="273.00" x2="416.20" y2="276.00" stroke="#000" stroke-width="0.9"/>
<line x1="425.20" y1="273.00" x2="425.20" y2="276.00" stroke="#000" stroke-width="0.9"/>
<text x="405.00" y="283.4" font-size="7.6" text-anchor="end" fill="#231f20" transform="rotate(-45 405.00 283.4)" textLength="22" lengthAdjust="spacingAndGlyphs">Control</text>
<text x="418.40" y="283.4" font-size="7.6" text-anchor="end" fill="#231f20" transform="rotate(-45 418.40 283.4)" textLength="14" lengthAdjust="spacingAndGlyphs">T417</text>
<text x="452.40" y="218.13" font-size="7.3" text-anchor="middle" font-weight="bold" fill="#9a62b8" textLength="23.22" lengthAdjust="spacingAndGlyphs">H69AR</text>
<rect x="442.20" y="227.00" width="8.50" height="8.00" fill="#cdb4db"/>
<rect x="442.20" y="235.00" width="8.50" height="5.50" fill="#a27cc0"/>
<rect x="442.20" y="240.50" width="8.50" height="32.50" fill="#8050a0"/>
<line x1="443.70" y1="240.50" x2="449.20" y2="240.50" stroke="#333" stroke-width="0.6"/>
<line x1="443.70" y1="235.00" x2="449.20" y2="235.00" stroke="#333" stroke-width="0.6"/>
<rect x="444.55" y="230.40" width="1.2" height="1.2" fill="#1a1a1a" opacity="0.8"/>
<rect x="446.95" y="230.40" width="1.2" height="1.2" fill="#1a1a1a" opacity="0.8"/>
<rect x="444.55" y="237.15" width="1.2" height="1.2" fill="#1a1a1a" opacity="0.8"/>
<rect x="446.95" y="237.15" width="1.2" height="1.2" fill="#1a1a1a" opacity="0.8"/>
<rect x="444.55" y="245.90" width="1.2" height="1.2" fill="#1a1a1a" opacity="0.8"/>
<rect x="446.95" y="245.90" width="1.2" height="1.2" fill="#1a1a1a" opacity="0.8"/>
<rect x="455.50" y="227.00" width="8.50" height="3.00" fill="#cdb4db"/>
<rect x="455.50" y="230.00" width="8.50" height="2.50" fill="#a27cc0"/>
<rect x="455.50" y="232.50" width="8.50" height="40.50" fill="#8050a0"/>
<line x1="457.00" y1="232.50" x2="462.50" y2="232.50" stroke="#333" stroke-width="0.6"/>
<line x1="437.70" y1="224.50" x2="437.70" y2="273.50" stroke="#000" stroke-width="1.1"/>
<line x1="437.20" y1="273.00" x2="468.70" y2="273.00" stroke="#000" stroke-width="1.1"/>
<line x1="434.70" y1="227.00" x2="437.70" y2="227.00" stroke="#000" stroke-width="0.9"/>
<line x1="434.70" y1="250.00" x2="437.70" y2="250.00" stroke="#000" stroke-width="0.9"/>
<line x1="434.70" y1="273.00" x2="437.70" y2="273.00" stroke="#000" stroke-width="0.9"/>
<line x1="437.70" y1="273.00" x2="437.70" y2="276.00" stroke="#000" stroke-width="0.9"/>
<line x1="446.45" y1="273.00" x2="446.45" y2="276.00" stroke="#000" stroke-width="0.9"/>
<line x1="459.70" y1="273.00" x2="459.70" y2="276.00" stroke="#000" stroke-width="0.9"/>
<line x1="468.70" y1="273.00" x2="468.70" y2="276.00" stroke="#000" stroke-width="0.9"/>
<text x="448.50" y="283.4" font-size="7.6" text-anchor="end" fill="#231f20" transform="rotate(-45 448.50 283.4)" textLength="22" lengthAdjust="spacingAndGlyphs">Control</text>
<text x="461.90" y="283.4" font-size="7.6" text-anchor="end" fill="#231f20" transform="rotate(-45 461.90 283.4)" textLength="14" lengthAdjust="spacingAndGlyphs">T417</text>
<text x="495.90" y="218.13" font-size="7.3" text-anchor="middle" font-weight="bold" fill="#7a4a20" textLength="25.18" lengthAdjust="spacingAndGlyphs">SNB-75</text>
<rect x="485.70" y="227.00" width="8.50" height="6.75" fill="#d3c2ab"/>
<rect x="485.70" y="233.75" width="8.50" height="2.50" fill="#a4865c"/>
<rect x="485.70" y="236.25" width="8.50" height="36.75" fill="#8a6238"/>
<line x1="487.20" y1="236.25" x2="492.70" y2="236.25" stroke="#333" stroke-width="0.6"/>
<line x1="487.20" y1="233.75" x2="492.70" y2="233.75" stroke="#333" stroke-width="0.6"/>
<rect x="488.05" y="229.78" width="1.2" height="1.2" fill="#1a1a1a" opacity="0.8"/>
<rect x="490.45" y="229.78" width="1.2" height="1.2" fill="#1a1a1a" opacity="0.8"/>
<rect x="488.05" y="241.65" width="1.2" height="1.2" fill="#1a1a1a" opacity="0.8"/>
<rect x="490.45" y="241.65" width="1.2" height="1.2" fill="#1a1a1a" opacity="0.8"/>
<rect x="499.00" y="227.00" width="8.50" height="4.25" fill="#d3c2ab"/>
<rect x="499.00" y="231.25" width="8.50" height="1.75" fill="#a4865c"/>
<rect x="499.00" y="233.00" width="8.50" height="40.00" fill="#8a6238"/>
<line x1="500.50" y1="233.00" x2="506.00" y2="233.00" stroke="#333" stroke-width="0.6"/>
<line x1="481.20" y1="224.50" x2="481.20" y2="273.50" stroke="#000" stroke-width="1.1"/>
<line x1="480.70" y1="273.00" x2="512.20" y2="273.00" stroke="#000" stroke-width="1.1"/>
<line x1="478.20" y1="227.00" x2="481.20" y2="227.00" stroke="#000" stroke-width="0.9"/>
<line x1="478.20" y1="250.00" x2="481.20" y2="250.00" stroke="#000" stroke-width="0.9"/>
<line x1="478.20" y1="273.00" x2="481.20" y2="273.00" stroke="#000" stroke-width="0.9"/>
<line x1="481.20" y1="273.00" x2="481.20" y2="276.00" stroke="#000" stroke-width="0.9"/>
<line x1="489.95" y1="273.00" x2="489.95" y2="276.00" stroke="#000" stroke-width="0.9"/>
<line x1="503.20" y1="273.00" x2="503.20" y2="276.00" stroke="#000" stroke-width="0.9"/>
<line x1="512.20" y1="273.00" x2="512.20" y2="276.00" stroke="#000" stroke-width="0.9"/>
<text x="492.00" y="283.4" font-size="7.6" text-anchor="end" fill="#231f20" transform="rotate(-45 492.00 283.4)" textLength="22" lengthAdjust="spacingAndGlyphs">Control</text>
<text x="505.40" y="283.4" font-size="7.6" text-anchor="end" fill="#231f20" transform="rotate(-45 505.40 283.4)" textLength="14" lengthAdjust="spacingAndGlyphs">T417</text>
<text x="13.30" y="251.98" font-size="8" text-anchor="middle" textLength="37.6" lengthAdjust="spacingAndGlyphs" transform="rotate(-90 13.30 249.10)">Live cells (%)</text>
<text x="22.90" y="252.38" font-size="8" text-anchor="middle" textLength="76" lengthAdjust="spacingAndGlyphs" transform="rotate(-90 22.90 249.50)">(AnnexinV–PI–/Hoechst+)</text>
<rect x="228.10" y="305.10" width="4.60" height="4.60" fill="#a8dde6"/>
<rect x="235.82" y="305.10" width="4.60" height="4.60" fill="#efc8cc"/>
<rect x="243.54" y="305.10" width="4.60" height="4.60" fill="#a4cfc0"/>
<rect x="251.26" y="305.10" width="4.60" height="4.60" fill="#c4a8d4"/>
<rect x="258.98" y="305.10" width="4.60" height="4.60" fill="#c8b4a0"/>
<text x="266.40" y="310.14" font-size="7.6" text-anchor="start" textLength="16.72" lengthAdjust="spacingAndGlyphs">G2/M</text>
<rect x="228.10" y="313.20" width="4.60" height="4.60" fill="#30b8cc"/>
<rect x="235.82" y="313.20" width="4.60" height="4.60" fill="#dc8c94"/>
<rect x="243.54" y="313.20" width="4.60" height="4.60" fill="#4aa088"/>
<rect x="251.26" y="313.20" width="4.60" height="4.60" fill="#9c70b8"/>
<rect x="258.98" y="313.20" width="4.60" height="4.60" fill="#a08060"/>
<text x="266.40" y="318.24" font-size="7.6" text-anchor="start" textLength="4.56" lengthAdjust="spacingAndGlyphs">S</text>
<rect x="228.10" y="321.50" width="4.60" height="4.60" fill="#1a8898"/>
<rect x="235.82" y="321.50" width="4.60" height="4.60" fill="#c03848"/>
<rect x="243.54" y="321.50" width="4.60" height="4.60" fill="#1a7058"/>
<rect x="251.26" y="321.50" width="4.60" height="4.60" fill="#6a3a8a"/>
<rect x="258.98" y="321.50" width="4.60" height="4.60" fill="#7a5030"/>
<text x="266.40" y="326.54" font-size="7.6" text-anchor="start" textLength="20.15" lengthAdjust="spacingAndGlyphs">G0/G1</text>
<text x="54.60" y="345.54" font-size="7.6" text-anchor="middle" fill="#1a9aab" stroke="#1a9aab" stroke-width="0.3">MM1S</text>
<rect x="39.20" y="353.50" width="15.75" height="5.80" fill="#19596a"/>
<line x1="54.95" y1="356.40" x2="56.75" y2="356.40" stroke="#19596a" stroke-width="0.8"/>
<line x1="56.75" y1="355.10" x2="56.75" y2="357.70" stroke="#19596a" stroke-width="0.7"/>
<rect x="58.55" y="353.20" width="1.1" height="1.1" fill="#222"/>
<rect x="58.55" y="355.30" width="1.1" height="1.1" fill="#222"/>
<rect x="58.55" y="357.40" width="1.1" height="1.1" fill="#222"/>
<rect x="39.20" y="362.30" width="25.00" height="5.80" fill="#19596a"/>
<line x1="64.20" y1="365.20" x2="66.00" y2="365.20" stroke="#19596a" stroke-width="0.8"/>
<line x1="66.00" y1="363.90" x2="66.00" y2="366.50" stroke="#19596a" stroke-width="0.7"/>
<rect x="67.80" y="362.00" width="1.1" height="1.1" fill="#222"/>
<rect x="67.80" y="364.10" width="1.1" height="1.1" fill="#222"/>
<rect x="67.80" y="366.20" width="1.1" height="1.1" fill="#222"/>
<rect x="67.80" y="368.30" width="1.1" height="1.1" fill="#222"/>
<rect x="39.20" y="371.10" width="29.25" height="5.80" fill="#19596a"/>
<line x1="68.45" y1="374.00" x2="70.25" y2="374.00" stroke="#19596a" stroke-width="0.8"/>
<line x1="70.25" y1="372.70" x2="70.25" y2="375.30" stroke="#19596a" stroke-width="0.7"/>
<rect x="72.05" y="370.80" width="1.1" height="1.1" fill="#222"/>
<rect x="72.05" y="372.90" width="1.1" height="1.1" fill="#222"/>
<rect x="72.05" y="375.00" width="1.1" height="1.1" fill="#222"/>
<rect x="72.05" y="377.10" width="1.1" height="1.1" fill="#222"/>
<rect x="39.20" y="379.90" width="10.00" height="5.80" fill="#19596a"/>
<line x1="49.20" y1="382.80" x2="51.00" y2="382.80" stroke="#19596a" stroke-width="0.8"/>
<line x1="51.00" y1="381.50" x2="51.00" y2="384.10" stroke="#19596a" stroke-width="0.7"/>
<rect x="52.80" y="379.60" width="1.1" height="1.1" fill="#222"/>
<rect x="52.80" y="381.70" width="1.1" height="1.1" fill="#222"/>
<rect x="52.80" y="383.80" width="1.1" height="1.1" fill="#222"/>
<line x1="39.20" y1="348.30" x2="39.20" y2="390.40" stroke="#000" stroke-width="1.1"/>
<line x1="38.70" y1="389.90" x2="76.20" y2="389.90" stroke="#000" stroke-width="1.1"/>
<line x1="36.70" y1="356.40" x2="39.20" y2="356.40" stroke="#000" stroke-width="0.8"/>
<line x1="36.70" y1="365.20" x2="39.20" y2="365.20" stroke="#000" stroke-width="0.8"/>
<line x1="36.70" y1="374.00" x2="39.20" y2="374.00" stroke="#000" stroke-width="0.8"/>
<line x1="36.70" y1="382.80" x2="39.20" y2="382.80" stroke="#000" stroke-width="0.8"/>
<line x1="39.20" y1="389.90" x2="39.20" y2="392.40" stroke="#000" stroke-width="0.8"/>
<text x="39.20" y="401.63" font-size="7.3" text-anchor="middle">0</text>
<line x1="56.95" y1="389.90" x2="56.95" y2="392.40" stroke="#000" stroke-width="0.8"/>
<text x="56.95" y="401.63" font-size="7.3" text-anchor="middle">0.5</text>
<line x1="74.70" y1="389.90" x2="74.70" y2="392.40" stroke="#000" stroke-width="0.8"/>
<text x="74.70" y="401.63" font-size="7.3" text-anchor="middle">1</text>
<text x="98.25" y="345.54" font-size="7.6" text-anchor="middle" fill="#2cb6cf" stroke="#2cb6cf" stroke-width="0.3">OPM2</text>
<rect x="82.85" y="353.50" width="24.50" height="5.80" fill="#1a8a9c"/>
<line x1="107.35" y1="356.40" x2="109.15" y2="356.40" stroke="#1a8a9c" stroke-width="0.8"/>
<line x1="109.15" y1="355.10" x2="109.15" y2="357.70" stroke="#1a8a9c" stroke-width="0.7"/>
<rect x="110.95" y="353.20" width="1.1" height="1.1" fill="#222"/>
<rect x="110.95" y="355.30" width="1.1" height="1.1" fill="#222"/>
<rect x="110.95" y="357.40" width="1.1" height="1.1" fill="#222"/>
<rect x="110.95" y="359.50" width="1.1" height="1.1" fill="#222"/>
<rect x="82.85" y="362.30" width="23.00" height="5.80" fill="#1a8a9c"/>
<line x1="105.85" y1="365.20" x2="107.65" y2="365.20" stroke="#1a8a9c" stroke-width="0.8"/>
<line x1="107.65" y1="363.90" x2="107.65" y2="366.50" stroke="#1a8a9c" stroke-width="0.7"/>
<rect x="109.45" y="362.00" width="1.1" height="1.1" fill="#222"/>
<rect x="109.45" y="364.10" width="1.1" height="1.1" fill="#222"/>
<rect x="109.45" y="366.20" width="1.1" height="1.1" fill="#222"/>
<rect x="109.45" y="368.30" width="1.1" height="1.1" fill="#222"/>
<rect x="82.85" y="371.10" width="28.75" height="5.80" fill="#1a8a9c"/>
<line x1="111.60" y1="374.00" x2="113.40" y2="374.00" stroke="#1a8a9c" stroke-width="0.8"/>
<line x1="113.40" y1="372.70" x2="113.40" y2="375.30" stroke="#1a8a9c" stroke-width="0.7"/>
<rect x="115.20" y="370.80" width="1.1" height="1.1" fill="#222"/>
<rect x="115.20" y="372.90" width="1.1" height="1.1" fill="#222"/>
<rect x="115.20" y="375.00" width="1.1" height="1.1" fill="#222"/>
<rect x="82.85" y="379.90" width="20.00" height="5.80" fill="#1a8a9c"/>
<line x1="102.85" y1="382.80" x2="104.65" y2="382.80" stroke="#1a8a9c" stroke-width="0.8"/>
<line x1="104.65" y1="381.50" x2="104.65" y2="384.10" stroke="#1a8a9c" stroke-width="0.7"/>
<rect x="106.45" y="379.60" width="1.1" height="1.1" fill="#222"/>
<rect x="106.45" y="381.70" width="1.1" height="1.1" fill="#222"/>
<rect x="106.45" y="383.80" width="1.1" height="1.1" fill="#222"/>
<rect x="106.45" y="385.90" width="1.1" height="1.1" fill="#222"/>
<line x1="82.85" y1="348.30" x2="82.85" y2="390.40" stroke="#000" stroke-width="1.1"/>
<line x1="82.35" y1="389.90" x2="119.85" y2="389.90" stroke="#000" stroke-width="1.1"/>
<line x1="82.85" y1="389.90" x2="82.85" y2="392.40" stroke="#000" stroke-width="0.8"/>
<text x="82.85" y="401.63" font-size="7.3" text-anchor="middle">0</text>
<line x1="100.60" y1="389.90" x2="100.60" y2="392.40" stroke="#000" stroke-width="0.8"/>
<text x="100.60" y="401.63" font-size="7.3" text-anchor="middle">0.5</text>
<line x1="118.35" y1="389.90" x2="118.35" y2="392.40" stroke="#000" stroke-width="0.8"/>
<text x="118.35" y="401.63" font-size="7.3" text-anchor="middle">1</text>
<text x="141.90" y="345.54" font-size="7.6" text-anchor="middle" fill="#9fd8e6" stroke="#9fd8e6" stroke-width="0.3">U266</text>
<rect x="126.50" y="353.50" width="12.75" height="5.80" fill="#22a5b6"/>
<line x1="139.25" y1="356.40" x2="141.05" y2="356.40" stroke="#22a5b6" stroke-width="0.8"/>
<line x1="141.05" y1="355.10" x2="141.05" y2="357.70" stroke="#22a5b6" stroke-width="0.7"/>
<rect x="142.85" y="353.20" width="1.1" height="1.1" fill="#222"/>
<rect x="142.85" y="355.30" width="1.1" height="1.1" fill="#222"/>
<rect x="142.85" y="357.40" width="1.1" height="1.1" fill="#222"/>
<rect x="142.85" y="359.50" width="1.1" height="1.1" fill="#222"/>
<rect x="126.50" y="362.30" width="9.50" height="5.80" fill="#22a5b6"/>
<line x1="136.00" y1="365.20" x2="137.80" y2="365.20" stroke="#22a5b6" stroke-width="0.8"/>
<line x1="137.80" y1="363.90" x2="137.80" y2="366.50" stroke="#22a5b6" stroke-width="0.7"/>
<rect x="139.60" y="362.00" width="1.1" height="1.1" fill="#222"/>
<rect x="139.60" y="364.10" width="1.1" height="1.1" fill="#222"/>
<rect x="139.60" y="366.20" width="1.1" height="1.1" fill="#222"/>
<rect x="126.50" y="371.10" width="18.25" height="5.80" fill="#22a5b6"/>
<line x1="144.75" y1="374.00" x2="146.55" y2="374.00" stroke="#22a5b6" stroke-width="0.8"/>
<line x1="146.55" y1="372.70" x2="146.55" y2="375.30" stroke="#22a5b6" stroke-width="0.7"/>
<rect x="148.35" y="370.80" width="1.1" height="1.1" fill="#222"/>
<rect x="148.35" y="372.90" width="1.1" height="1.1" fill="#222"/>
<rect x="148.35" y="375.00" width="1.1" height="1.1" fill="#222"/>
<rect x="148.35" y="377.10" width="1.1" height="1.1" fill="#222"/>
<rect x="126.50" y="379.90" width="2.75" height="5.80" fill="#22a5b6"/>
<line x1="129.25" y1="382.80" x2="131.05" y2="382.80" stroke="#22a5b6" stroke-width="0.8"/>
<line x1="131.05" y1="381.50" x2="131.05" y2="384.10" stroke="#22a5b6" stroke-width="0.7"/>
<rect x="132.85" y="379.60" width="1.1" height="1.1" fill="#222"/>
<rect x="132.85" y="381.70" width="1.1" height="1.1" fill="#222"/>
<rect x="132.85" y="383.80" width="1.1" height="1.1" fill="#222"/>
<rect x="132.85" y="385.90" width="1.1" height="1.1" fill="#222"/>
<line x1="126.50" y1="348.30" x2="126.50" y2="390.40" stroke="#000" stroke-width="1.1"/>
<line x1="126.00" y1="389.90" x2="163.50" y2="389.90" stroke="#000" stroke-width="1.1"/>
<line x1="126.50" y1="389.90" x2="126.50" y2="392.40" stroke="#000" stroke-width="0.8"/>
<text x="126.50" y="401.63" font-size="7.3" text-anchor="middle">0</text>
<line x1="144.25" y1="389.90" x2="144.25" y2="392.40" stroke="#000" stroke-width="0.8"/>
<text x="144.25" y="401.63" font-size="7.3" text-anchor="middle">0.5</text>
<line x1="162.00" y1="389.90" x2="162.00" y2="392.40" stroke="#000" stroke-width="0.8"/>
<text x="162.00" y="401.63" font-size="7.3" text-anchor="middle">1</text>
<text x="185.55" y="345.54" font-size="7.6" text-anchor="middle" fill="#7a6cc0" stroke="#7a6cc0" stroke-width="0.3">NCUMM1</text>
<rect x="170.15" y="353.50" width="5.50" height="5.80" fill="#9385cc"/>
<line x1="175.65" y1="356.40" x2="177.45" y2="356.40" stroke="#9385cc" stroke-width="0.8"/>
<line x1="177.45" y1="355.10" x2="177.45" y2="357.70" stroke="#9385cc" stroke-width="0.7"/>
<rect x="179.25" y="353.20" width="1.1" height="1.1" fill="#222"/>
<rect x="179.25" y="355.30" width="1.1" height="1.1" fill="#222"/>
<rect x="179.25" y="357.40" width="1.1" height="1.1" fill="#222"/>
<rect x="170.15" y="362.30" width="29.50" height="5.80" fill="#9385cc"/>
<line x1="199.65" y1="365.20" x2="201.45" y2="365.20" stroke="#9385cc" stroke-width="0.8"/>
<line x1="201.45" y1="363.90" x2="201.45" y2="366.50" stroke="#9385cc" stroke-width="0.7"/>
<rect x="203.25" y="362.00" width="1.1" height="1.1" fill="#222"/>
<rect x="203.25" y="364.10" width="1.1" height="1.1" fill="#222"/>
<rect x="203.25" y="366.20" width="1.1" height="1.1" fill="#222"/>
<rect x="203.25" y="368.30" width="1.1" height="1.1" fill="#222"/>
<rect x="170.15" y="371.10" width="22.50" height="5.80" fill="#9385cc"/>
<line x1="192.65" y1="374.00" x2="194.45" y2="374.00" stroke="#9385cc" stroke-width="0.8"/>
<line x1="194.45" y1="372.70" x2="194.45" y2="375.30" stroke="#9385cc" stroke-width="0.7"/>
<rect x="196.25" y="370.80" width="1.1" height="1.1" fill="#222"/>
<rect x="196.25" y="372.90" width="1.1" height="1.1" fill="#222"/>
<rect x="196.25" y="375.00" width="1.1" height="1.1" fill="#222"/>
<rect x="196.25" y="377.10" width="1.1" height="1.1" fill="#222"/>
<rect x="170.15" y="379.90" width="23.75" height="5.80" fill="#9385cc"/>
<line x1="193.90" y1="382.80" x2="195.70" y2="382.80" stroke="#9385cc" stroke-width="0.8"/>
<line x1="195.70" y1="381.50" x2="195.70" y2="384.10" stroke="#9385cc" stroke-width="0.7"/>
<rect x="197.50" y="379.60" width="1.1" height="1.1" fill="#222"/>
<rect x="197.50" y="381.70" width="1.1" height="1.1" fill="#222"/>
<rect x="197.50" y="383.80" width="1.1" height="1.1" fill="#222"/>
<line x1="170.15" y1="348.30" x2="170.15" y2="390.40" stroke="#000" stroke-width="1.1"/>
<line x1="169.65" y1="389.90" x2="207.15" y2="389.90" stroke="#000" stroke-width="1.1"/>
<line x1="170.15" y1="389.90" x2="170.15" y2="392.40" stroke="#000" stroke-width="0.8"/>
<text x="170.15" y="401.63" font-size="7.3" text-anchor="middle">0</text>
<line x1="187.90" y1="389.90" x2="187.90" y2="392.40" stroke="#000" stroke-width="0.8"/>
<text x="187.90" y="401.63" font-size="7.3" text-anchor="middle">0.5</text>
<line x1="205.65" y1="389.90" x2="205.65" y2="392.40" stroke="#000" stroke-width="0.8"/>
<text x="205.65" y="401.63" font-size="7.3" text-anchor="middle">1</text>
<text x="229.20" y="345.54" font-size="7.6" text-anchor="middle" fill="#3a4a5e" stroke="#3a4a5e" stroke-width="0.3">LTED</text>
<rect x="213.80" y="353.50" width="35.20" height="5.80" fill="#7a1420"/>
<rect x="213.80" y="362.30" width="10.10" height="5.80" fill="#7a1420"/>
<line x1="223.90" y1="365.20" x2="225.70" y2="365.20" stroke="#7a1420" stroke-width="0.8"/>
<line x1="225.70" y1="363.90" x2="225.70" y2="366.50" stroke="#7a1420" stroke-width="0.7"/>
<rect x="227.50" y="362.00" width="1.1" height="1.1" fill="#222"/>
<rect x="227.50" y="364.10" width="1.1" height="1.1" fill="#222"/>
<rect x="227.50" y="366.20" width="1.1" height="1.1" fill="#222"/>
<rect x="227.50" y="368.30" width="1.1" height="1.1" fill="#222"/>
<rect x="213.80" y="371.10" width="11.50" height="5.80" fill="#7a1420"/>
<line x1="225.30" y1="374.00" x2="227.10" y2="374.00" stroke="#7a1420" stroke-width="0.8"/>
<line x1="227.10" y1="372.70" x2="227.10" y2="375.30" stroke="#7a1420" stroke-width="0.7"/>
<rect x="228.90" y="370.80" width="1.1" height="1.1" fill="#222"/>
<rect x="228.90" y="372.90" width="1.1" height="1.1" fill="#222"/>
<rect x="228.90" y="375.00" width="1.1" height="1.1" fill="#222"/>
<rect x="213.80" y="379.90" width="10.50" height="5.80" fill="#7a1420"/>
<line x1="224.30" y1="382.80" x2="226.10" y2="382.80" stroke="#7a1420" stroke-width="0.8"/>
<line x1="226.10" y1="381.50" x2="226.10" y2="384.10" stroke="#7a1420" stroke-width="0.7"/>
<rect x="227.90" y="379.60" width="1.1" height="1.1" fill="#222"/>
<rect x="227.90" y="381.70" width="1.1" height="1.1" fill="#222"/>
<rect x="227.90" y="383.80" width="1.1" height="1.1" fill="#222"/>
<rect x="227.90" y="385.90" width="1.1" height="1.1" fill="#222"/>
<line x1="213.80" y1="348.30" x2="213.80" y2="390.40" stroke="#000" stroke-width="1.1"/>
<line x1="213.30" y1="389.90" x2="250.80" y2="389.90" stroke="#000" stroke-width="1.1"/>
<line x1="213.80" y1="389.90" x2="213.80" y2="392.40" stroke="#000" stroke-width="0.8"/>
<text x="213.80" y="401.63" font-size="7.3" text-anchor="middle">0</text>
<line x1="231.55" y1="389.90" x2="231.55" y2="392.40" stroke="#000" stroke-width="0.8"/>
<text x="231.55" y="401.63" font-size="7.3" text-anchor="middle">0.5</text>
<line x1="249.30" y1="389.90" x2="249.30" y2="392.40" stroke="#000" stroke-width="0.8"/>
<text x="249.30" y="401.63" font-size="7.3" text-anchor="middle">1</text>
<text x="272.85" y="345.54" font-size="7.6" text-anchor="middle" fill="#7a8aa2" stroke="#7a8aa2" stroke-width="0.3">MCF-7</text>
<rect x="257.45" y="353.50" width="34.50" height="5.80" fill="#d2363a"/>
<rect x="257.45" y="362.30" width="12.50" height="5.80" fill="#d2363a"/>
<line x1="269.95" y1="365.20" x2="271.75" y2="365.20" stroke="#d2363a" stroke-width="0.8"/>
<line x1="271.75" y1="363.90" x2="271.75" y2="366.50" stroke="#d2363a" stroke-width="0.7"/>
<rect x="273.55" y="362.00" width="1.1" height="1.1" fill="#222"/>
<rect x="273.55" y="364.10" width="1.1" height="1.1" fill="#222"/>
<rect x="273.55" y="366.20" width="1.1" height="1.1" fill="#222"/>
<rect x="257.45" y="371.10" width="18.75" height="5.80" fill="#d2363a"/>
<line x1="276.20" y1="374.00" x2="278.00" y2="374.00" stroke="#d2363a" stroke-width="0.8"/>
<line x1="278.00" y1="372.70" x2="278.00" y2="375.30" stroke="#d2363a" stroke-width="0.7"/>
<rect x="279.80" y="370.80" width="1.1" height="1.1" fill="#222"/>
<rect x="279.80" y="372.90" width="1.1" height="1.1" fill="#222"/>
<rect x="279.80" y="375.00" width="1.1" height="1.1" fill="#222"/>
<rect x="279.80" y="377.10" width="1.1" height="1.1" fill="#222"/>
<rect x="257.45" y="379.90" width="10.50" height="5.80" fill="#d2363a"/>
<line x1="267.95" y1="382.80" x2="269.75" y2="382.80" stroke="#d2363a" stroke-width="0.8"/>
<line x1="269.75" y1="381.50" x2="269.75" y2="384.10" stroke="#d2363a" stroke-width="0.7"/>
<rect x="271.55" y="379.60" width="1.1" height="1.1" fill="#222"/>
<rect x="271.55" y="381.70" width="1.1" height="1.1" fill="#222"/>
<rect x="271.55" y="383.80" width="1.1" height="1.1" fill="#222"/>
<rect x="271.55" y="385.90" width="1.1" height="1.1" fill="#222"/>
<line x1="257.45" y1="348.30" x2="257.45" y2="390.40" stroke="#000" stroke-width="1.1"/>
<line x1="256.95" y1="389.90" x2="294.45" y2="389.90" stroke="#000" stroke-width="1.1"/>
<line x1="257.45" y1="389.90" x2="257.45" y2="392.40" stroke="#000" stroke-width="0.8"/>
<text x="257.45" y="401.63" font-size="7.3" text-anchor="middle">0</text>
<line x1="275.20" y1="389.90" x2="275.20" y2="392.40" stroke="#000" stroke-width="0.8"/>
<text x="275.20" y="401.63" font-size="7.3" text-anchor="middle">0.5</text>
<line x1="292.95" y1="389.90" x2="292.95" y2="392.40" stroke="#000" stroke-width="0.8"/>
<text x="292.95" y="401.63" font-size="7.3" text-anchor="middle">1</text>
<text x="316.50" y="345.54" font-size="7.6" text-anchor="middle" fill="#1a7052" stroke="#1a7052" stroke-width="0.3">OVCAR-3</text>
<rect x="301.10" y="353.50" width="11.25" height="5.80" fill="#1a6a50"/>
<line x1="312.35" y1="356.40" x2="314.15" y2="356.40" stroke="#1a6a50" stroke-width="0.8"/>
<line x1="314.15" y1="355.10" x2="314.15" y2="357.70" stroke="#1a6a50" stroke-width="0.7"/>
<rect x="315.95" y="353.20" width="1.1" height="1.1" fill="#222"/>
<rect x="315.95" y="355.30" width="1.1" height="1.1" fill="#222"/>
<rect x="315.95" y="357.40" width="1.1" height="1.1" fill="#222"/>
<rect x="301.10" y="362.30" width="16.25" height="5.80" fill="#1a6a50"/>
<line x1="317.35" y1="365.20" x2="319.15" y2="365.20" stroke="#1a6a50" stroke-width="0.8"/>
<line x1="319.15" y1="363.90" x2="319.15" y2="366.50" stroke="#1a6a50" stroke-width="0.7"/>
<rect x="320.95" y="362.00" width="1.1" height="1.1" fill="#222"/>
<rect x="320.95" y="364.10" width="1.1" height="1.1" fill="#222"/>
<rect x="320.95" y="366.20" width="1.1" height="1.1" fill="#222"/>
<rect x="320.95" y="368.30" width="1.1" height="1.1" fill="#222"/>
<rect x="301.10" y="371.10" width="28.75" height="5.80" fill="#1a6a50"/>
<line x1="329.85" y1="374.00" x2="331.65" y2="374.00" stroke="#1a6a50" stroke-width="0.8"/>
<line x1="331.65" y1="372.70" x2="331.65" y2="375.30" stroke="#1a6a50" stroke-width="0.7"/>
<rect x="333.45" y="370.80" width="1.1" height="1.1" fill="#222"/>
<rect x="333.45" y="372.90" width="1.1" height="1.1" fill="#222"/>
<rect x="333.45" y="375.00" width="1.1" height="1.1" fill="#222"/>
<rect x="333.45" y="377.10" width="1.1" height="1.1" fill="#222"/>
<rect x="301.10" y="379.90" width="10.00" height="5.80" fill="#1a6a50"/>
<line x1="311.10" y1="382.80" x2="312.90" y2="382.80" stroke="#1a6a50" stroke-width="0.8"/>
<line x1="312.90" y1="381.50" x2="312.90" y2="384.10" stroke="#1a6a50" stroke-width="0.7"/>
<rect x="314.70" y="379.60" width="1.1" height="1.1" fill="#222"/>
<rect x="314.70" y="381.70" width="1.1" height="1.1" fill="#222"/>
<rect x="314.70" y="383.80" width="1.1" height="1.1" fill="#222"/>
<line x1="301.10" y1="348.30" x2="301.10" y2="390.40" stroke="#000" stroke-width="1.1"/>
<line x1="300.60" y1="389.90" x2="338.10" y2="389.90" stroke="#000" stroke-width="1.1"/>
<line x1="318.60" y1="349" x2="318.60" y2="390" stroke="#222" stroke-width="0.8" stroke-dasharray="1.6 1.8"/>
<line x1="301.10" y1="389.90" x2="301.10" y2="392.40" stroke="#000" stroke-width="0.8"/>
<text x="301.10" y="401.63" font-size="7.3" text-anchor="middle">0</text>
<line x1="318.60" y1="389.90" x2="318.60" y2="392.40" stroke="#000" stroke-width="0.8"/>
<text x="318.60" y="401.63" font-size="7.3" text-anchor="middle">1</text>
<line x1="336.10" y1="389.90" x2="336.10" y2="392.40" stroke="#000" stroke-width="0.8"/>
<text x="336.10" y="401.63" font-size="7.3" text-anchor="middle">2</text>
<text x="360.15" y="345.54" font-size="7.6" text-anchor="middle" fill="#3c9e80" stroke="#3c9e80" stroke-width="0.3">A2780</text>
<rect x="344.75" y="353.50" width="16.75" height="5.80" fill="#3c9a7a"/>
<line x1="361.50" y1="356.40" x2="363.30" y2="356.40" stroke="#3c9a7a" stroke-width="0.8"/>
<line x1="363.30" y1="355.10" x2="363.30" y2="357.70" stroke="#3c9a7a" stroke-width="0.7"/>
<rect x="365.10" y="353.20" width="1.1" height="1.1" fill="#222"/>
<rect x="365.10" y="355.30" width="1.1" height="1.1" fill="#222"/>
<rect x="365.10" y="357.40" width="1.1" height="1.1" fill="#222"/>
<rect x="365.10" y="359.50" width="1.1" height="1.1" fill="#222"/>
<rect x="344.75" y="362.30" width="15.50" height="5.80" fill="#3c9a7a"/>
<line x1="360.25" y1="365.20" x2="362.05" y2="365.20" stroke="#3c9a7a" stroke-width="0.8"/>
<line x1="362.05" y1="363.90" x2="362.05" y2="366.50" stroke="#3c9a7a" stroke-width="0.7"/>
<rect x="363.85" y="362.00" width="1.1" height="1.1" fill="#222"/>
<rect x="363.85" y="364.10" width="1.1" height="1.1" fill="#222"/>
<rect x="363.85" y="366.20" width="1.1" height="1.1" fill="#222"/>
<rect x="363.85" y="368.30" width="1.1" height="1.1" fill="#222"/>
<rect x="344.75" y="371.10" width="33.00" height="5.80" fill="#3c9a7a"/>
<line x1="377.75" y1="374.00" x2="379.55" y2="374.00" stroke="#3c9a7a" stroke-width="0.8"/>
<line x1="379.55" y1="372.70" x2="379.55" y2="375.30" stroke="#3c9a7a" stroke-width="0.7"/>
<rect x="381.35" y="370.80" width="1.1" height="1.1" fill="#222"/>
<rect x="381.35" y="372.90" width="1.1" height="1.1" fill="#222"/>
<rect x="381.35" y="375.00" width="1.1" height="1.1" fill="#222"/>
<rect x="344.75" y="379.90" width="13.50" height="5.80" fill="#3c9a7a"/>
<line x1="358.25" y1="382.80" x2="360.05" y2="382.80" stroke="#3c9a7a" stroke-width="0.8"/>
<line x1="360.05" y1="381.50" x2="360.05" y2="384.10" stroke="#3c9a7a" stroke-width="0.7"/>
<rect x="361.85" y="379.60" width="1.1" height="1.1" fill="#222"/>
<rect x="361.85" y="381.70" width="1.1" height="1.1" fill="#222"/>
<rect x="361.85" y="383.80" width="1.1" height="1.1" fill="#222"/>
<rect x="361.85" y="385.90" width="1.1" height="1.1" fill="#222"/>
<line x1="344.75" y1="348.30" x2="344.75" y2="390.40" stroke="#000" stroke-width="1.1"/>
<line x1="344.25" y1="389.90" x2="381.75" y2="389.90" stroke="#000" stroke-width="1.1"/>
<line x1="362.25" y1="349" x2="362.25" y2="390" stroke="#222" stroke-width="0.8" stroke-dasharray="1.6 1.8"/>
<line x1="344.75" y1="389.90" x2="344.75" y2="392.40" stroke="#000" stroke-width="0.8"/>
<text x="344.75" y="401.63" font-size="7.3" text-anchor="middle">0</text>
<line x1="362.25" y1="389.90" x2="362.25" y2="392.40" stroke="#000" stroke-width="0.8"/>
<text x="362.25" y="401.63" font-size="7.3" text-anchor="middle">1</text>
<line x1="379.75" y1="389.90" x2="379.75" y2="392.40" stroke="#000" stroke-width="0.8"/>
<text x="379.75" y="401.63" font-size="7.3" text-anchor="middle">2</text>
<text x="403.80" y="345.54" font-size="7.6" text-anchor="middle" fill="#6a2a8e" stroke="#6a2a8e" stroke-width="0.3">A549</text>
<rect x="388.40" y="353.50" width="19.25" height="5.80" fill="#5a1a72"/>
<line x1="407.65" y1="356.40" x2="409.45" y2="356.40" stroke="#5a1a72" stroke-width="0.8"/>
<line x1="409.45" y1="355.10" x2="409.45" y2="357.70" stroke="#5a1a72" stroke-width="0.7"/>
<rect x="411.25" y="353.20" width="1.1" height="1.1" fill="#222"/>
<rect x="411.25" y="355.30" width="1.1" height="1.1" fill="#222"/>
<rect x="411.25" y="357.40" width="1.1" height="1.1" fill="#222"/>
<rect x="411.25" y="359.50" width="1.1" height="1.1" fill="#222"/>
<rect x="388.40" y="362.30" width="20.75" height="5.80" fill="#5a1a72"/>
<line x1="409.15" y1="365.20" x2="410.95" y2="365.20" stroke="#5a1a72" stroke-width="0.8"/>
<line x1="410.95" y1="363.90" x2="410.95" y2="366.50" stroke="#5a1a72" stroke-width="0.7"/>
<rect x="412.75" y="362.00" width="1.1" height="1.1" fill="#222"/>
<rect x="412.75" y="364.10" width="1.1" height="1.1" fill="#222"/>
<rect x="412.75" y="366.20" width="1.1" height="1.1" fill="#222"/>
<rect x="388.40" y="371.10" width="27.50" height="5.80" fill="#5a1a72"/>
<line x1="415.90" y1="374.00" x2="417.70" y2="374.00" stroke="#5a1a72" stroke-width="0.8"/>
<line x1="417.70" y1="372.70" x2="417.70" y2="375.30" stroke="#5a1a72" stroke-width="0.7"/>
<rect x="419.50" y="370.80" width="1.1" height="1.1" fill="#222"/>
<rect x="419.50" y="372.90" width="1.1" height="1.1" fill="#222"/>
<rect x="419.50" y="375.00" width="1.1" height="1.1" fill="#222"/>
<rect x="419.50" y="377.10" width="1.1" height="1.1" fill="#222"/>
<rect x="388.40" y="379.90" width="25.00" height="5.80" fill="#5a1a72"/>
<line x1="413.40" y1="382.80" x2="415.20" y2="382.80" stroke="#5a1a72" stroke-width="0.8"/>
<line x1="415.20" y1="381.50" x2="415.20" y2="384.10" stroke="#5a1a72" stroke-width="0.7"/>
<rect x="417.00" y="379.60" width="1.1" height="1.1" fill="#222"/>
<rect x="417.00" y="381.70" width="1.1" height="1.1" fill="#222"/>
<rect x="417.00" y="383.80" width="1.1" height="1.1" fill="#222"/>
<rect x="417.00" y="385.90" width="1.1" height="1.1" fill="#222"/>
<line x1="388.40" y1="348.30" x2="388.40" y2="390.40" stroke="#000" stroke-width="1.1"/>
<line x1="387.90" y1="389.90" x2="425.40" y2="389.90" stroke="#000" stroke-width="1.1"/>
<line x1="388.40" y1="389.90" x2="388.40" y2="392.40" stroke="#000" stroke-width="0.8"/>
<text x="388.40" y="401.63" font-size="7.3" text-anchor="middle">0</text>
<line x1="406.15" y1="389.90" x2="406.15" y2="392.40" stroke="#000" stroke-width="0.8"/>
<text x="406.15" y="401.63" font-size="7.3" text-anchor="middle">0.5</text>
<line x1="423.90" y1="389.90" x2="423.90" y2="392.40" stroke="#000" stroke-width="0.8"/>
<text x="423.90" y="401.63" font-size="7.3" text-anchor="middle">1</text>
<text x="447.45" y="345.54" font-size="7.6" text-anchor="middle" fill="#9a62b8" stroke="#9a62b8" stroke-width="0.3">H69AR</text>
<rect x="432.05" y="353.50" width="6.40" height="5.80" fill="#9a5cab"/>
<line x1="438.45" y1="356.40" x2="440.25" y2="356.40" stroke="#9a5cab" stroke-width="0.8"/>
<line x1="440.25" y1="355.10" x2="440.25" y2="357.70" stroke="#9a5cab" stroke-width="0.7"/>
<rect x="442.05" y="353.20" width="1.1" height="1.1" fill="#222"/>
<rect x="442.05" y="355.30" width="1.1" height="1.1" fill="#222"/>
<rect x="442.05" y="357.40" width="1.1" height="1.1" fill="#222"/>
<rect x="432.05" y="362.30" width="15.00" height="5.80" fill="#9a5cab"/>
<line x1="447.05" y1="365.20" x2="448.85" y2="365.20" stroke="#9a5cab" stroke-width="0.8"/>
<line x1="448.85" y1="363.90" x2="448.85" y2="366.50" stroke="#9a5cab" stroke-width="0.7"/>
<rect x="450.65" y="362.00" width="1.1" height="1.1" fill="#222"/>
<rect x="450.65" y="364.10" width="1.1" height="1.1" fill="#222"/>
<rect x="450.65" y="366.20" width="1.1" height="1.1" fill="#222"/>
<rect x="450.65" y="368.30" width="1.1" height="1.1" fill="#222"/>
<rect x="432.05" y="371.10" width="23.60" height="5.80" fill="#9a5cab"/>
<line x1="455.65" y1="374.00" x2="457.45" y2="374.00" stroke="#9a5cab" stroke-width="0.8"/>
<line x1="457.45" y1="372.70" x2="457.45" y2="375.30" stroke="#9a5cab" stroke-width="0.7"/>
<rect x="459.25" y="370.80" width="1.1" height="1.1" fill="#222"/>
<rect x="459.25" y="372.90" width="1.1" height="1.1" fill="#222"/>
<rect x="459.25" y="375.00" width="1.1" height="1.1" fill="#222"/>
<rect x="459.25" y="377.10" width="1.1" height="1.1" fill="#222"/>
<rect x="432.05" y="379.90" width="16.50" height="5.80" fill="#9a5cab"/>
<line x1="448.55" y1="382.80" x2="450.35" y2="382.80" stroke="#9a5cab" stroke-width="0.8"/>
<line x1="450.35" y1="381.50" x2="450.35" y2="384.10" stroke="#9a5cab" stroke-width="0.7"/>
<rect x="452.15" y="379.60" width="1.1" height="1.1" fill="#222"/>
<rect x="452.15" y="381.70" width="1.1" height="1.1" fill="#222"/>
<rect x="452.15" y="383.80" width="1.1" height="1.1" fill="#222"/>
<line x1="432.05" y1="348.30" x2="432.05" y2="390.40" stroke="#000" stroke-width="1.1"/>
<line x1="431.55" y1="389.90" x2="469.05" y2="389.90" stroke="#000" stroke-width="1.1"/>
<line x1="432.05" y1="389.90" x2="432.05" y2="392.40" stroke="#000" stroke-width="0.8"/>
<text x="432.05" y="401.63" font-size="7.3" text-anchor="middle">0</text>
<line x1="449.80" y1="389.90" x2="449.80" y2="392.40" stroke="#000" stroke-width="0.8"/>
<text x="449.80" y="401.63" font-size="7.3" text-anchor="middle">0.5</text>
<line x1="467.55" y1="389.90" x2="467.55" y2="392.40" stroke="#000" stroke-width="0.8"/>
<text x="467.55" y="401.63" font-size="7.3" text-anchor="middle">1</text>
<text x="491.10" y="345.54" font-size="7.6" text-anchor="middle" fill="#7a4a20" stroke="#7a4a20" stroke-width="0.3">SNB-75</text>
<rect x="475.70" y="353.50" width="15.80" height="5.80" fill="#6a3e14"/>
<line x1="491.50" y1="356.40" x2="493.30" y2="356.40" stroke="#6a3e14" stroke-width="0.8"/>
<line x1="493.30" y1="355.10" x2="493.30" y2="357.70" stroke="#6a3e14" stroke-width="0.7"/>
<rect x="495.10" y="353.20" width="1.1" height="1.1" fill="#222"/>
<rect x="495.10" y="355.30" width="1.1" height="1.1" fill="#222"/>
<rect x="495.10" y="357.40" width="1.1" height="1.1" fill="#222"/>
<rect x="495.10" y="359.50" width="1.1" height="1.1" fill="#222"/>
<rect x="475.70" y="362.30" width="22.50" height="5.80" fill="#6a3e14"/>
<line x1="498.20" y1="365.20" x2="500.00" y2="365.20" stroke="#6a3e14" stroke-width="0.8"/>
<line x1="500.00" y1="363.90" x2="500.00" y2="366.50" stroke="#6a3e14" stroke-width="0.7"/>
<rect x="501.80" y="362.00" width="1.1" height="1.1" fill="#222"/>
<rect x="501.80" y="364.10" width="1.1" height="1.1" fill="#222"/>
<rect x="501.80" y="366.20" width="1.1" height="1.1" fill="#222"/>
<rect x="501.80" y="368.30" width="1.1" height="1.1" fill="#222"/>
<rect x="475.70" y="371.10" width="26.30" height="5.80" fill="#6a3e14"/>
<line x1="502.00" y1="374.00" x2="503.80" y2="374.00" stroke="#6a3e14" stroke-width="0.8"/>
<line x1="503.80" y1="372.70" x2="503.80" y2="375.30" stroke="#6a3e14" stroke-width="0.7"/>
<rect x="505.60" y="370.80" width="1.1" height="1.1" fill="#222"/>
<rect x="505.60" y="372.90" width="1.1" height="1.1" fill="#222"/>
<rect x="505.60" y="375.00" width="1.1" height="1.1" fill="#222"/>
<rect x="475.70" y="379.90" width="12.90" height="5.80" fill="#6a3e14"/>
<line x1="488.60" y1="382.80" x2="490.40" y2="382.80" stroke="#6a3e14" stroke-width="0.8"/>
<line x1="490.40" y1="381.50" x2="490.40" y2="384.10" stroke="#6a3e14" stroke-width="0.7"/>
<rect x="492.20" y="379.60" width="1.1" height="1.1" fill="#222"/>
<rect x="492.20" y="381.70" width="1.1" height="1.1" fill="#222"/>
<rect x="492.20" y="383.80" width="1.1" height="1.1" fill="#222"/>
<rect x="492.20" y="385.90" width="1.1" height="1.1" fill="#222"/>
<line x1="475.70" y1="348.30" x2="475.70" y2="390.40" stroke="#000" stroke-width="1.1"/>
<line x1="475.20" y1="389.90" x2="512.70" y2="389.90" stroke="#000" stroke-width="1.1"/>
<line x1="475.70" y1="389.90" x2="475.70" y2="392.40" stroke="#000" stroke-width="0.8"/>
<text x="475.70" y="401.63" font-size="7.3" text-anchor="middle">0</text>
<line x1="493.45" y1="389.90" x2="493.45" y2="392.40" stroke="#000" stroke-width="0.8"/>
<text x="493.45" y="401.63" font-size="7.3" text-anchor="middle">0.5</text>
<line x1="511.20" y1="389.90" x2="511.20" y2="392.40" stroke="#000" stroke-width="0.8"/>
<text x="511.20" y="401.63" font-size="7.3" text-anchor="middle">1</text>
<text x="32.50" y="359.03" font-size="7.3" text-anchor="end" font-style="italic">PBX1</text>
<text x="32.50" y="367.83" font-size="7.3" text-anchor="end" font-style="italic">FOXM1</text>
<text x="32.50" y="376.63" font-size="7.3" text-anchor="end" font-style="italic">NEK2</text>
<text x="32.50" y="385.43" font-size="7.3" text-anchor="end" font-style="italic">E2F2</text>
<text x="54.00" y="408.69" font-size="7.2" text-anchor="middle" textLength="43" lengthAdjust="spacingAndGlyphs">Rel. expression</text>
<text x="54.00" y="416.19" font-size="7.2" text-anchor="middle" textLength="46.5" lengthAdjust="spacingAndGlyphs">(T417 vs control)</text>
<text x="15.60" y="480.28" font-size="8" text-anchor="middle" textLength="58.8" lengthAdjust="spacingAndGlyphs" transform="rotate(-90 15.60 477.40)">Tumour size (mm<tspan font-size="5.5" dy="-2.8">3</tspan><tspan dy="2.8">)</tspan></text>
<line x1="38.90" y1="511.40" x2="41.90" y2="511.40" stroke="#000" stroke-width="0.9"/>
<text x="36.00" y="513.99" font-size="7.2" text-anchor="end">0</text>
<line x1="38.90" y1="495.45" x2="41.90" y2="495.45" stroke="#000" stroke-width="0.9"/>
<text x="36.00" y="498.04" font-size="7.2" text-anchor="end">200</text>
<line x1="38.90" y1="479.50" x2="41.90" y2="479.50" stroke="#000" stroke-width="0.9"/>
<text x="36.00" y="482.09" font-size="7.2" text-anchor="end">400</text>
<line x1="38.90" y1="463.55" x2="41.90" y2="463.55" stroke="#000" stroke-width="0.9"/>
<text x="36.00" y="466.14" font-size="7.2" text-anchor="end">600</text>
<line x1="38.90" y1="447.60" x2="41.90" y2="447.60" stroke="#000" stroke-width="0.9"/>
<text x="36.00" y="450.19" font-size="7.2" text-anchor="end">800</text>
<line x1="41.90" y1="445.00" x2="41.90" y2="511.90" stroke="#000" stroke-width="1.1"/>
<line x1="41.40" y1="511.40" x2="145.00" y2="511.40" stroke="#000" stroke-width="1.1"/>
<line x1="44.90" y1="511.40" x2="44.90" y2="513.90" stroke="#000" stroke-width="0.8"/>
<line x1="50.60" y1="511.40" x2="50.60" y2="513.90" stroke="#000" stroke-width="0.8"/>
<line x1="56.30" y1="511.40" x2="56.30" y2="513.90" stroke="#000" stroke-width="0.8"/>
<line x1="62.00" y1="511.40" x2="62.00" y2="513.90" stroke="#000" stroke-width="0.8"/>
<line x1="67.70" y1="511.40" x2="67.70" y2="513.90" stroke="#000" stroke-width="0.8"/>
<line x1="73.40" y1="511.40" x2="73.40" y2="513.90" stroke="#000" stroke-width="0.8"/>
<line x1="79.10" y1="511.40" x2="79.10" y2="513.90" stroke="#000" stroke-width="0.8"/>
<line x1="84.80" y1="511.40" x2="84.80" y2="513.90" stroke="#000" stroke-width="0.8"/>
<line x1="90.50" y1="511.40" x2="90.50" y2="513.90" stroke="#000" stroke-width="0.8"/>
<line x1="96.20" y1="511.40" x2="96.20" y2="513.90" stroke="#000" stroke-width="0.8"/>
<line x1="101.90" y1="511.40" x2="101.90" y2="513.90" stroke="#000" stroke-width="0.8"/>
<line x1="107.60" y1="511.40" x2="107.60" y2="513.90" stroke="#000" stroke-width="0.8"/>
<line x1="113.30" y1="511.40" x2="113.30" y2="513.90" stroke="#000" stroke-width="0.8"/>
<line x1="119.00" y1="511.40" x2="119.00" y2="513.90" stroke="#000" stroke-width="0.8"/>
<line x1="124.70" y1="511.40" x2="124.70" y2="513.90" stroke="#000" stroke-width="0.8"/>
<line x1="130.40" y1="511.40" x2="130.40" y2="513.90" stroke="#000" stroke-width="0.8"/>
<line x1="136.10" y1="511.40" x2="136.10" y2="513.90" stroke="#000" stroke-width="0.8"/>
<line x1="141.80" y1="511.40" x2="141.80" y2="513.90" stroke="#000" stroke-width="0.8"/>
<text x="44.90" y="522.83" font-size="7.3" text-anchor="middle">0</text>
<text x="73.40" y="522.83" font-size="7.3" text-anchor="middle">7</text>
<text x="101.90" y="522.83" font-size="7.3" text-anchor="middle">14</text>
<text x="130.40" y="522.83" font-size="7.3" text-anchor="middle">21</text>
<text x="141.80" y="522.83" font-size="7.3" text-anchor="middle">23</text>
<text x="93.00" y="534.15" font-size="8.2" text-anchor="middle" textLength="33.5" lengthAdjust="spacingAndGlyphs">Time (days)</text>
<polyline points="44.90,511.20 50.60,511.20 56.30,511.20 62.00,511.20 67.70,511.20 73.40,511.20 79.10,511.00 84.80,510.90 90.50,510.80 96.20,510.70 101.90,510.20 107.60,509.80 113.30,509.50 119.00,509.20 124.70,508.70 130.40,507.90 136.10,506.90 141.80,506.20" fill="none" stroke="#d3173a" stroke-width="1.3" stroke-linejoin="round" />
<circle cx="44.90" cy="511.20" r="1.4" fill="#d3173a"/>
<circle cx="50.60" cy="511.20" r="1.4" fill="#d3173a"/>
<circle cx="56.30" cy="511.20" r="1.4" fill="#d3173a"/>
<circle cx="62.00" cy="511.20" r="1.4" fill="#d3173a"/>
<circle cx="67.70" cy="511.20" r="1.4" fill="#d3173a"/>
<circle cx="73.40" cy="511.20" r="1.4" fill="#d3173a"/>
<circle cx="79.10" cy="511.00" r="1.4" fill="#d3173a"/>
<circle cx="84.80" cy="510.90" r="1.4" fill="#d3173a"/>
<circle cx="90.50" cy="510.80" r="1.4" fill="#d3173a"/>
<circle cx="96.20" cy="510.70" r="1.4" fill="#d3173a"/>
<circle cx="101.90" cy="510.20" r="1.4" fill="#d3173a"/>
<circle cx="107.60" cy="509.80" r="1.4" fill="#d3173a"/>
<circle cx="113.30" cy="509.50" r="1.4" fill="#d3173a"/>
<circle cx="119.00" cy="509.20" r="1.4" fill="#d3173a"/>
<circle cx="124.70" cy="508.70" r="1.4" fill="#d3173a"/>
<circle cx="130.40" cy="507.90" r="1.4" fill="#d3173a"/>
<circle cx="136.10" cy="506.90" r="1.4" fill="#d3173a"/>
<circle cx="141.80" cy="506.20" r="1.4" fill="#d3173a"/>
<line x1="101.90" y1="501.60" x2="101.90" y2="508.20" stroke="#2a5f9e" stroke-width="0.8"/>
<line x1="100.70" y1="501.60" x2="103.10" y2="501.60" stroke="#2a5f9e" stroke-width="0.8"/>
<line x1="100.70" y1="508.20" x2="103.10" y2="508.20" stroke="#2a5f9e" stroke-width="0.8"/>
<line x1="107.60" y1="500.80" x2="107.60" y2="506.80" stroke="#2a5f9e" stroke-width="0.8"/>
<line x1="106.40" y1="500.80" x2="108.80" y2="500.80" stroke="#2a5f9e" stroke-width="0.8"/>
<line x1="106.40" y1="506.80" x2="108.80" y2="506.80" stroke="#2a5f9e" stroke-width="0.8"/>
<line x1="113.30" y1="499.00" x2="113.30" y2="506.60" stroke="#2a5f9e" stroke-width="0.8"/>
<line x1="112.10" y1="499.00" x2="114.50" y2="499.00" stroke="#2a5f9e" stroke-width="0.8"/>
<line x1="112.10" y1="506.60" x2="114.50" y2="506.60" stroke="#2a5f9e" stroke-width="0.8"/>
<line x1="119.00" y1="496.80" x2="119.00" y2="504.80" stroke="#2a5f9e" stroke-width="0.8"/>
<line x1="117.80" y1="496.80" x2="120.20" y2="496.80" stroke="#2a5f9e" stroke-width="0.8"/>
<line x1="117.80" y1="504.80" x2="120.20" y2="504.80" stroke="#2a5f9e" stroke-width="0.8"/>
<line x1="124.70" y1="491.20" x2="124.70" y2="502.20" stroke="#2a5f9e" stroke-width="0.8"/>
<line x1="123.50" y1="491.20" x2="125.90" y2="491.20" stroke="#2a5f9e" stroke-width="0.8"/>
<line x1="123.50" y1="502.20" x2="125.90" y2="502.20" stroke="#2a5f9e" stroke-width="0.8"/>
<line x1="130.40" y1="473.60" x2="130.40" y2="494.00" stroke="#2a5f9e" stroke-width="0.8"/>
<line x1="129.20" y1="473.60" x2="131.60" y2="473.60" stroke="#2a5f9e" stroke-width="0.8"/>
<line x1="129.20" y1="494.00" x2="131.60" y2="494.00" stroke="#2a5f9e" stroke-width="0.8"/>
<line x1="136.10" y1="463.60" x2="136.10" y2="489.00" stroke="#2a5f9e" stroke-width="0.8"/>
<line x1="134.90" y1="463.60" x2="137.30" y2="463.60" stroke="#2a5f9e" stroke-width="0.8"/>
<line x1="134.90" y1="489.00" x2="137.30" y2="489.00" stroke="#2a5f9e" stroke-width="0.8"/>
<line x1="141.80" y1="455.20" x2="141.80" y2="483.20" stroke="#2a5f9e" stroke-width="0.8"/>
<line x1="140.60" y1="455.20" x2="143.00" y2="455.20" stroke="#2a5f9e" stroke-width="0.8"/>
<line x1="140.60" y1="483.20" x2="143.00" y2="483.20" stroke="#2a5f9e" stroke-width="0.8"/>
<polyline points="44.90,511.20 50.60,511.20 56.30,511.20 62.00,511.20 67.70,511.20 73.40,510.60 79.10,510.30 84.80,510.10 90.50,509.80 96.20,509.30 101.90,504.90 107.60,503.80 113.30,502.80 119.00,500.80 124.70,496.70 130.40,483.80 136.10,476.30 141.80,469.20" fill="none" stroke="#1b4f93" stroke-width="1.5" stroke-linejoin="round" />
<circle cx="44.90" cy="511.20" r="1.4" fill="#1b4f93"/>
<circle cx="50.60" cy="511.20" r="1.4" fill="#1b4f93"/>
<circle cx="56.30" cy="511.20" r="1.4" fill="#1b4f93"/>
<circle cx="62.00" cy="511.20" r="1.4" fill="#1b4f93"/>
<circle cx="67.70" cy="511.20" r="1.4" fill="#1b4f93"/>
<circle cx="73.40" cy="510.60" r="1.4" fill="#1b4f93"/>
<circle cx="79.10" cy="510.30" r="1.4" fill="#1b4f93"/>
<circle cx="84.80" cy="510.10" r="1.4" fill="#1b4f93"/>
<circle cx="90.50" cy="509.80" r="1.4" fill="#1b4f93"/>
<circle cx="96.20" cy="509.30" r="1.4" fill="#1b4f93"/>
<circle cx="101.90" cy="504.90" r="1.4" fill="#1b4f93"/>
<circle cx="107.60" cy="503.80" r="1.4" fill="#1b4f93"/>
<circle cx="113.30" cy="502.80" r="1.4" fill="#1b4f93"/>
<circle cx="119.00" cy="500.80" r="1.4" fill="#1b4f93"/>
<circle cx="124.70" cy="496.70" r="1.4" fill="#1b4f93"/>
<circle cx="130.40" cy="483.80" r="1.4" fill="#1b4f93"/>
<circle cx="136.10" cy="476.30" r="1.4" fill="#1b4f93"/>
<circle cx="141.80" cy="469.20" r="1.4" fill="#1b4f93"/>
<rect x="118.40" y="504.80" width="1.5" height="1.4" fill="#e0607a"/>
<rect x="121.82" y="504.80" width="1.5" height="1.4" fill="#e0607a"/>
<rect x="125.25" y="504.80" width="1.5" height="1.4" fill="#e0607a"/>
<rect x="128.67" y="504.80" width="1.5" height="1.4" fill="#e0607a"/>
<rect x="126.60" y="502.10" width="1.5" height="1.4" fill="#e0607a"/>
<rect x="129.18" y="502.10" width="1.5" height="1.4" fill="#e0607a"/>
<rect x="131.75" y="502.10" width="1.5" height="1.4" fill="#e0607a"/>
<rect x="134.33" y="502.10" width="1.5" height="1.4" fill="#e0607a"/>
<rect x="130.60" y="499.10" width="1.5" height="1.4" fill="#e0607a"/>
<rect x="133.63" y="499.10" width="1.5" height="1.4" fill="#e0607a"/>
<rect x="136.66" y="499.10" width="1.5" height="1.4" fill="#e0607a"/>
<rect x="139.69" y="499.10" width="1.5" height="1.4" fill="#e0607a"/>
<rect x="136.90" y="496.30" width="1.5" height="1.4" fill="#e0607a"/>
<rect x="139.96" y="496.30" width="1.5" height="1.4" fill="#e0607a"/>
<rect x="143.02" y="496.30" width="1.5" height="1.4" fill="#e0607a"/>
<rect x="146.08" y="496.30" width="1.5" height="1.4" fill="#e0607a"/>
<line x1="99.10" y1="448.80" x2="107.90" y2="448.80" stroke="#1b4f93" stroke-width="1.4"/>
<circle cx="103.5" cy="448.8" r="1.4" fill="#1b4f93"/>
<text x="110.20" y="451.61" font-size="7.8" text-anchor="start" textLength="22.2" lengthAdjust="spacingAndGlyphs">Control</text>
<line x1="99.10" y1="457.50" x2="107.90" y2="457.50" stroke="#d3173a" stroke-width="1.4"/>
<circle cx="103.5" cy="457.5" r="1.4" fill="#d3173a"/>
<text x="110.20" y="460.31" font-size="7.8" text-anchor="start" textLength="14.1" lengthAdjust="spacingAndGlyphs">T417</text>
<text x="200.50" y="445.94" font-size="7.6" text-anchor="end" textLength="23.5" lengthAdjust="spacingAndGlyphs">Control</text>
<text x="200.50" y="464.04" font-size="7.6" text-anchor="end" textLength="14.5" lengthAdjust="spacingAndGlyphs">T417</text>
<defs><filter id="bl" x="-30%" y="-30%" width="160%" height="160%"><feGaussianBlur stdDeviation="0.8"/></filter><filter id="bl2" x="-30%" y="-30%" width="160%" height="160%"><feGaussianBlur stdDeviation="0.45"/></filter></defs>
<rect x="204.40" y="432.30" width="110.30" height="39.80" fill="#e1dddb" stroke="#7e7c7b" stroke-width="1"/>
<circle cx="213.50" cy="443.00" r="8.8" fill="#e3e0de" stroke="#eeeceb" stroke-width="0.5" opacity="0.8"/>
<circle cx="213.50" cy="462.80" r="8.8" fill="#e3e0de" stroke="#eeeceb" stroke-width="0.5" opacity="0.8"/>
<circle cx="233.00" cy="443.00" r="8.8" fill="#e3e0de" stroke="#eeeceb" stroke-width="0.5" opacity="0.8"/>
<circle cx="233.00" cy="462.80" r="8.8" fill="#e3e0de" stroke="#eeeceb" stroke-width="0.5" opacity="0.8"/>
<circle cx="252.30" cy="443.00" r="8.8" fill="#e3e0de" stroke="#eeeceb" stroke-width="0.5" opacity="0.8"/>
<circle cx="252.30" cy="462.80" r="8.8" fill="#e3e0de" stroke="#eeeceb" stroke-width="0.5" opacity="0.8"/>
<circle cx="270.50" cy="443.00" r="8.8" fill="#e3e0de" stroke="#eeeceb" stroke-width="0.5" opacity="0.8"/>
<circle cx="270.50" cy="462.80" r="8.8" fill="#e3e0de" stroke="#eeeceb" stroke-width="0.5" opacity="0.8"/>
<circle cx="288.50" cy="443.00" r="8.8" fill="#e3e0de" stroke="#eeeceb" stroke-width="0.5" opacity="0.8"/>
<circle cx="288.50" cy="462.80" r="8.8" fill="#e3e0de" stroke="#eeeceb" stroke-width="0.5" opacity="0.8"/>
<circle cx="306.00" cy="443.00" r="8.8" fill="#e3e0de" stroke="#eeeceb" stroke-width="0.5" opacity="0.8"/>
<circle cx="306.00" cy="462.80" r="8.8" fill="#e3e0de" stroke="#eeeceb" stroke-width="0.5" opacity="0.8"/>
<g filter="url(#bl2)" transform="rotate(-8 213.40 443.30)">
<ellipse cx="213.40" cy="443.30" rx="8.00" ry="7.00" fill="#efb8b0"/>
</g>
<g filter="url(#bl)" transform="rotate(-8 213.40 443.30)">
<circle cx="217.56" cy="447.39" r="1.67" fill="#fff3f1" opacity="0.6"/>
<circle cx="208.84" cy="443.41" r="1.21" fill="#e2606c" opacity="0.55"/>
<circle cx="219.52" cy="444.26" r="0.96" fill="#e2606c" opacity="0.55"/>
<circle cx="214.32" cy="447.08" r="0.64" fill="#fff3f1" opacity="0.6"/>
<circle cx="208.97" cy="444.89" r="0.93" fill="#fff3f1" opacity="0.6"/>
<circle cx="214.30" cy="447.26" r="1.01" fill="#fff3f1" opacity="0.6"/>
<circle cx="216.05" cy="439.52" r="1.50" fill="#fff3f1" opacity="0.6"/>
<circle cx="219.70" cy="443.04" r="0.77" fill="#fff3f1" opacity="0.6"/>
<circle cx="212.38" cy="438.36" r="1.91" fill="#fff3f1" opacity="0.6"/>
<circle cx="216.15" cy="439.82" r="1.42" fill="#fff3f1" opacity="0.6"/>
<circle cx="213.68" cy="448.61" r="1.18" fill="#fff3f1" opacity="0.6"/>
<circle cx="207.96" cy="441.79" r="1.54" fill="#fff3f1" opacity="0.6"/>
<circle cx="208.90" cy="444.89" r="1.69" fill="#fff3f1" opacity="0.6"/>
<circle cx="209.67" cy="445.89" r="0.64" fill="#fff3f1" opacity="0.6"/>
<circle cx="211.45" cy="437.65" r="1.43" fill="#fff3f1" opacity="0.6"/>
<circle cx="209.99" cy="444.08" r="1.09" fill="#e2606c" opacity="0.55"/>
<circle cx="208.34" cy="442.78" r="1.20" fill="#fff3f1" opacity="0.6"/>
<circle cx="216.91" cy="440.03" r="0.88" fill="#fff3f1" opacity="0.6"/>
<circle cx="209.36" cy="443.64" r="1.08" fill="#fff3f1" opacity="0.6"/>
<circle cx="209.60" cy="440.04" r="1.24" fill="#fff3f1" opacity="0.6"/>
<circle cx="214.16" cy="443.68" r="0.50" fill="#e2606c" opacity="0.55"/>
<circle cx="217.55" cy="446.29" r="1.08" fill="#fff3f1" opacity="0.6"/>
<circle cx="216.06" cy="446.94" r="0.84" fill="#fff3f1" opacity="0.6"/>
<circle cx="212.30" cy="439.40" r="1.05" fill="#fff3f1" opacity="0.6"/>
<circle cx="217.58" cy="443.85" r="1.19" fill="#fff3f1" opacity="0.6"/>
<circle cx="218.40" cy="446.86" r="1.31" fill="#fff3f1" opacity="0.6"/>
<circle cx="208.56" cy="439.99" r="0.63" fill="#fff3f1" opacity="0.6"/>
</g>
<g filter="url(#bl2)" transform="rotate(5 233.60 441.60)">
<ellipse cx="233.60" cy="441.60" rx="7.70" ry="6.30" fill="#efbab4"/>
</g>
<g filter="url(#bl)" transform="rotate(5 233.60 441.60)">
<circle cx="239.73" cy="440.18" r="0.68" fill="#fff3f1" opacity="0.6"/>
<circle cx="236.47" cy="437.65" r="1.54" fill="#fff3f1" opacity="0.6"/>
<circle cx="229.59" cy="439.02" r="1.41" fill="#fff3f1" opacity="0.6"/>
<circle cx="229.40" cy="440.62" r="0.98" fill="#fff3f1" opacity="0.6"/>
<circle cx="238.00" cy="442.23" r="1.05" fill="#fff3f1" opacity="0.6"/>
<circle cx="237.29" cy="439.16" r="1.38" fill="#fff3f1" opacity="0.6"/>
<circle cx="237.29" cy="442.06" r="0.79" fill="#fff3f1" opacity="0.6"/>
<circle cx="227.88" cy="439.48" r="1.61" fill="#fff3f1" opacity="0.6"/>
<circle cx="234.26" cy="444.60" r="1.58" fill="#fff3f1" opacity="0.6"/>
<circle cx="236.44" cy="440.08" r="1.88" fill="#fff3f1" opacity="0.6"/>
<circle cx="238.90" cy="440.41" r="1.31" fill="#fff3f1" opacity="0.6"/>
<circle cx="230.69" cy="438.26" r="1.04" fill="#fff3f1" opacity="0.6"/>
<circle cx="227.29" cy="441.21" r="1.47" fill="#fff3f1" opacity="0.6"/>
<circle cx="235.99" cy="437.48" r="1.87" fill="#fff3f1" opacity="0.6"/>
<circle cx="233.55" cy="440.30" r="1.51" fill="#fff3f1" opacity="0.6"/>
<circle cx="234.50" cy="446.56" r="0.75" fill="#fff3f1" opacity="0.6"/>
<circle cx="233.36" cy="440.66" r="1.11" fill="#fff3f1" opacity="0.6"/>
<circle cx="232.72" cy="440.24" r="1.94" fill="#fff3f1" opacity="0.6"/>
<circle cx="233.48" cy="440.83" r="0.77" fill="#e2606c" opacity="0.55"/>
<circle cx="235.80" cy="445.67" r="1.14" fill="#fff3f1" opacity="0.6"/>
<circle cx="236.14" cy="441.47" r="0.65" fill="#fff3f1" opacity="0.6"/>
<circle cx="229.37" cy="438.54" r="0.76" fill="#fff3f1" opacity="0.6"/>
<circle cx="233.82" cy="436.63" r="1.59" fill="#fff3f1" opacity="0.6"/>
<circle cx="234.42" cy="445.90" r="1.04" fill="#fff3f1" opacity="0.6"/>
</g>
<g filter="url(#bl2)" transform="rotate(3 252.60 442.80)">
<ellipse cx="252.60" cy="442.80" rx="8.25" ry="5.50" fill="#edb2ab"/>
</g>
<g filter="url(#bl)" transform="rotate(3 252.60 442.80)">
<circle cx="253.34" cy="443.01" r="1.77" fill="#fff3f1" opacity="0.6"/>
<circle cx="252.21" cy="443.58" r="1.81" fill="#fff3f1" opacity="0.6"/>
<circle cx="251.32" cy="438.50" r="1.28" fill="#e2606c" opacity="0.55"/>
<circle cx="254.07" cy="439.84" r="1.53" fill="#e2606c" opacity="0.55"/>
<circle cx="254.75" cy="444.44" r="1.95" fill="#fff3f1" opacity="0.6"/>
<circle cx="249.91" cy="440.97" r="1.31" fill="#fff3f1" opacity="0.6"/>
<circle cx="258.45" cy="440.93" r="1.59" fill="#e2606c" opacity="0.55"/>
<circle cx="254.15" cy="446.94" r="1.40" fill="#fff3f1" opacity="0.6"/>
<circle cx="258.57" cy="444.48" r="1.99" fill="#fff3f1" opacity="0.6"/>
<circle cx="254.00" cy="439.95" r="0.81" fill="#fff3f1" opacity="0.6"/>
<circle cx="253.37" cy="438.46" r="0.53" fill="#e2606c" opacity="0.55"/>
<circle cx="256.50" cy="442.78" r="0.57" fill="#e2606c" opacity="0.55"/>
<circle cx="254.05" cy="445.62" r="1.45" fill="#fff3f1" opacity="0.6"/>
<circle cx="251.88" cy="442.65" r="0.95" fill="#e2606c" opacity="0.55"/>
<circle cx="250.81" cy="440.29" r="1.27" fill="#e2606c" opacity="0.55"/>
<circle cx="257.95" cy="444.23" r="1.95" fill="#fff3f1" opacity="0.6"/>
<circle cx="247.40" cy="443.78" r="1.05" fill="#fff3f1" opacity="0.6"/>
<circle cx="250.97" cy="445.42" r="1.43" fill="#fff3f1" opacity="0.6"/>
</g>
<g filter="url(#bl2)" transform="rotate(0 270.10 442.20)">
<ellipse cx="270.10" cy="442.20" rx="5.75" ry="5.75" fill="#eca9a5"/>
</g>
<g filter="url(#bl)" transform="rotate(0 270.10 442.20)">
<circle cx="270.24" cy="443.76" r="1.15" fill="#fff3f1" opacity="0.6"/>
<circle cx="270.73" cy="445.72" r="0.99" fill="#fff3f1" opacity="0.6"/>
<circle cx="268.04" cy="442.12" r="1.26" fill="#fff3f1" opacity="0.6"/>
<circle cx="274.27" cy="440.38" r="1.37" fill="#fff3f1" opacity="0.6"/>
<circle cx="273.21" cy="440.20" r="1.47" fill="#e2606c" opacity="0.55"/>
<circle cx="266.86" cy="444.15" r="1.20" fill="#fff3f1" opacity="0.6"/>
<circle cx="268.60" cy="446.34" r="0.66" fill="#fff3f1" opacity="0.6"/>
<circle cx="268.29" cy="440.35" r="1.08" fill="#e2606c" opacity="0.55"/>
<circle cx="272.26" cy="442.16" r="1.18" fill="#fff3f1" opacity="0.6"/>
<circle cx="268.37" cy="440.30" r="0.88" fill="#e2606c" opacity="0.55"/>
<circle cx="265.76" cy="440.53" r="0.74" fill="#fff3f1" opacity="0.6"/>
<circle cx="270.67" cy="446.44" r="1.46" fill="#fff3f1" opacity="0.6"/>
<circle cx="269.10" cy="444.00" r="1.24" fill="#fff3f1" opacity="0.6"/>
<circle cx="272.71" cy="442.50" r="1.56" fill="#e2606c" opacity="0.55"/>
<circle cx="273.71" cy="440.86" r="1.75" fill="#fff3f1" opacity="0.6"/>
<circle cx="271.27" cy="445.24" r="0.79" fill="#fff3f1" opacity="0.6"/>
<circle cx="272.83" cy="441.53" r="0.61" fill="#fff3f1" opacity="0.6"/>
</g>
<g filter="url(#bl2)" transform="rotate(0 286.80 444.40)">
<ellipse cx="286.80" cy="444.40" rx="6.40" ry="6.00" fill="#eeb4af"/>
</g>
<g filter="url(#bl)" transform="rotate(0 286.80 444.40)">
<circle cx="288.29" cy="443.40" r="1.26" fill="#fff3f1" opacity="0.6"/>
<circle cx="282.83" cy="443.35" r="0.62" fill="#fff3f1" opacity="0.6"/>
<circle cx="285.84" cy="449.20" r="1.67" fill="#fff3f1" opacity="0.6"/>
<circle cx="287.39" cy="442.58" r="1.46" fill="#fff3f1" opacity="0.6"/>
<circle cx="291.88" cy="444.45" r="0.89" fill="#fff3f1" opacity="0.6"/>
<circle cx="289.13" cy="442.67" r="1.11" fill="#fff3f1" opacity="0.6"/>
<circle cx="287.65" cy="445.43" r="0.82" fill="#e2606c" opacity="0.55"/>
<circle cx="285.28" cy="447.64" r="1.59" fill="#fff3f1" opacity="0.6"/>
<circle cx="287.61" cy="444.28" r="1.32" fill="#e2606c" opacity="0.55"/>
<circle cx="287.57" cy="441.40" r="1.41" fill="#fff3f1" opacity="0.6"/>
<circle cx="289.01" cy="445.03" r="1.94" fill="#fff3f1" opacity="0.6"/>
<circle cx="286.99" cy="439.49" r="1.92" fill="#fff3f1" opacity="0.6"/>
<circle cx="284.39" cy="447.32" r="1.69" fill="#fff3f1" opacity="0.6"/>
<circle cx="286.75" cy="439.85" r="1.80" fill="#fff3f1" opacity="0.6"/>
<circle cx="284.00" cy="448.54" r="1.36" fill="#fff3f1" opacity="0.6"/>
<circle cx="285.87" cy="446.36" r="0.71" fill="#fff3f1" opacity="0.6"/>
<circle cx="284.77" cy="439.68" r="0.83" fill="#fff3f1" opacity="0.6"/>
<circle cx="290.76" cy="444.09" r="1.17" fill="#fff3f1" opacity="0.6"/>
<circle cx="282.69" cy="441.82" r="1.24" fill="#fff3f1" opacity="0.6"/>
</g>
<g filter="url(#bl2)" transform="rotate(0 214.50 462.40)">
<ellipse cx="214.50" cy="462.40" rx="4.30" ry="3.80" fill="#ea8a90"/>
</g>
<g filter="url(#bl)" transform="rotate(0 214.50 462.40)">
<ellipse cx="214.50" cy="462.40" rx="2.80" ry="2.40" fill="#dd4455" opacity="0.85"/>
<circle cx="215.39" cy="459.58" r="1.02" fill="#e2606c" opacity="0.55"/>
<circle cx="213.19" cy="460.51" r="1.33" fill="#e2606c" opacity="0.55"/>
<circle cx="214.03" cy="465.26" r="1.30" fill="#e2606c" opacity="0.55"/>
<circle cx="213.83" cy="461.11" r="1.10" fill="#e2606c" opacity="0.55"/>
<circle cx="215.50" cy="459.87" r="1.43" fill="#e2606c" opacity="0.55"/>
<circle cx="215.52" cy="459.65" r="1.22" fill="#fff3f1" opacity="0.6"/>
<circle cx="215.45" cy="464.83" r="0.81" fill="#e2606c" opacity="0.55"/>
<circle cx="216.66" cy="462.74" r="1.15" fill="#e2606c" opacity="0.55"/>
</g>
<g filter="url(#bl2)" transform="rotate(0 233.60 462.30)">
<ellipse cx="233.60" cy="462.30" rx="5.50" ry="4.10" fill="#eeb0ad"/>
</g>
<g filter="url(#bl)" transform="rotate(0 233.60 462.30)">
<circle cx="232.79" cy="463.51" r="1.51" fill="#fff3f1" opacity="0.6"/>
<circle cx="230.84" cy="461.83" r="0.54" fill="#e2606c" opacity="0.55"/>
<circle cx="232.47" cy="462.67" r="0.73" fill="#fff3f1" opacity="0.6"/>
<circle cx="230.99" cy="461.28" r="1.97" fill="#fff3f1" opacity="0.6"/>
<circle cx="235.18" cy="460.84" r="0.80" fill="#fff3f1" opacity="0.6"/>
<circle cx="231.19" cy="464.15" r="0.69" fill="#fff3f1" opacity="0.6"/>
<circle cx="234.65" cy="465.07" r="1.20" fill="#fff3f1" opacity="0.6"/>
<circle cx="232.51" cy="465.65" r="0.77" fill="#fff3f1" opacity="0.6"/>
<circle cx="233.68" cy="460.94" r="1.28" fill="#fff3f1" opacity="0.6"/>
<circle cx="231.59" cy="459.65" r="1.12" fill="#e2606c" opacity="0.55"/>
</g>
<g filter="url(#bl2)" transform="rotate(0 252.00 462.90)">
<ellipse cx="252.00" cy="462.90" rx="4.80" ry="4.30" fill="#eeaaa8"/>
</g>
<g filter="url(#bl)" transform="rotate(0 252.00 462.90)">
<ellipse cx="252.50" cy="463.90" rx="1.80" ry="1.60" fill="#dd4455" opacity="0.85"/>
<circle cx="252.58" cy="466.45" r="0.62" fill="#e2606c" opacity="0.55"/>
<circle cx="252.07" cy="466.55" r="0.71" fill="#e2606c" opacity="0.55"/>
<circle cx="249.25" cy="463.65" r="0.70" fill="#e2606c" opacity="0.55"/>
<circle cx="251.00" cy="463.75" r="0.77" fill="#e2606c" opacity="0.55"/>
<circle cx="250.17" cy="461.36" r="1.53" fill="#fff3f1" opacity="0.6"/>
<circle cx="252.65" cy="463.62" r="1.54" fill="#e2606c" opacity="0.55"/>
<circle cx="254.93" cy="461.97" r="1.30" fill="#e2606c" opacity="0.55"/>
<circle cx="249.62" cy="465.58" r="0.63" fill="#e2606c" opacity="0.55"/>
<circle cx="252.51" cy="464.24" r="1.07" fill="#e2606c" opacity="0.55"/>
<circle cx="254.39" cy="461.41" r="1.58" fill="#fff3f1" opacity="0.6"/>
</g>
<g filter="url(#bl2)" transform="rotate(0 269.50 462.90)">
<ellipse cx="269.50" cy="462.90" rx="4.00" ry="4.30" fill="#efb2b0"/>
</g>
<g filter="url(#bl)" transform="rotate(0 269.50 462.90)">
<circle cx="267.48" cy="463.41" r="0.64" fill="#e2606c" opacity="0.55"/>
<circle cx="266.28" cy="462.84" r="0.57" fill="#e2606c" opacity="0.55"/>
<circle cx="266.98" cy="461.17" r="0.91" fill="#e2606c" opacity="0.55"/>
<circle cx="268.79" cy="465.80" r="1.29" fill="#e2606c" opacity="0.55"/>
<circle cx="269.34" cy="464.57" r="0.79" fill="#e2606c" opacity="0.55"/>
<circle cx="271.91" cy="460.66" r="0.68" fill="#fff3f1" opacity="0.6"/>
<circle cx="268.98" cy="462.93" r="0.96" fill="#e2606c" opacity="0.55"/>
<circle cx="268.53" cy="462.17" r="1.13" fill="#e2606c" opacity="0.55"/>
<circle cx="270.48" cy="462.95" r="1.36" fill="#fff3f1" opacity="0.6"/>
</g>
<g filter="url(#bl2)" transform="rotate(0 287.80 465.60)">
<ellipse cx="287.80" cy="465.60" rx="4.90" ry="4.00" fill="#f2c4c0"/>
</g>
<g filter="url(#bl)" transform="rotate(0 287.80 465.60)">
<circle cx="285.34" cy="464.63" r="1.41" fill="#fff3f1" opacity="0.6"/>
<circle cx="289.26" cy="462.76" r="1.51" fill="#fff3f1" opacity="0.6"/>
<circle cx="291.51" cy="466.47" r="1.44" fill="#fff3f1" opacity="0.6"/>
<circle cx="285.17" cy="468.00" r="1.04" fill="#fff3f1" opacity="0.6"/>
<circle cx="286.82" cy="465.94" r="1.13" fill="#e2606c" opacity="0.55"/>
<circle cx="288.23" cy="467.76" r="0.65" fill="#fff3f1" opacity="0.6"/>
<circle cx="289.20" cy="463.09" r="1.08" fill="#e2606c" opacity="0.55"/>
<circle cx="285.48" cy="464.75" r="1.44" fill="#fff3f1" opacity="0.6"/>
</g>
<text x="222.20" y="489.04" font-size="7.6" text-anchor="middle" font-style="italic" textLength="21" lengthAdjust="spacingAndGlyphs">in vivo</text>
<text x="261.50" y="489.04" font-size="7.6" text-anchor="middle" textLength="37" lengthAdjust="spacingAndGlyphs">Primary cells</text>
<line x1="208.60" y1="491.20" x2="235.00" y2="491.20" stroke="#b0b0b0" stroke-width="1.6"/>
<line x1="243.50" y1="491.20" x2="279.80" y2="491.20" stroke="#b0b0b0" stroke-width="1.6"/>
<rect x="208.00" y="492.20" width="5.48" height="8.05" fill="#8ab0e0" stroke="#22395a" stroke-width="0.6"/>
<rect x="213.48" y="492.20" width="5.48" height="8.05" fill="#70a0dc" stroke="#22395a" stroke-width="0.6"/>
<rect x="218.96" y="492.20" width="5.48" height="8.05" fill="#4a84d0" stroke="#22395a" stroke-width="0.6"/>
<rect x="224.44" y="492.20" width="5.48" height="8.05" fill="#6a9ad8" stroke="#22395a" stroke-width="0.6"/>
<rect x="229.92" y="492.20" width="5.48" height="8.05" fill="#4a84d0" stroke="#22395a" stroke-width="0.6"/>
<rect x="243.50" y="492.20" width="5.63" height="8.05" fill="#c4d6f4" stroke="#22395a" stroke-width="0.6"/>
<rect x="249.13" y="492.20" width="5.63" height="8.05" fill="#dae6f8" stroke="#22395a" stroke-width="0.6"/>
<rect x="254.76" y="492.20" width="5.63" height="8.05" fill="#bcd2f2" stroke="#22395a" stroke-width="0.6"/>
<rect x="262.20" y="492.20" width="5.85" height="8.05" fill="#cbcbcb" stroke="#4a4a4a" stroke-width="0.6"/>
<rect x="268.05" y="492.20" width="5.85" height="8.05" fill="#cbcbcb" stroke="#4a4a4a" stroke-width="0.6"/>
<rect x="273.90" y="492.20" width="5.85" height="8.05" fill="#cbcbcb" stroke="#4a4a4a" stroke-width="0.6"/>
<rect x="208.00" y="500.25" width="5.48" height="8.05" fill="#c8d8f4" stroke="#22395a" stroke-width="0.6"/>
<rect x="213.48" y="500.25" width="5.48" height="8.05" fill="#90b4e6" stroke="#22395a" stroke-width="0.6"/>
<rect x="218.96" y="500.25" width="5.48" height="8.05" fill="#6c9cdc" stroke="#22395a" stroke-width="0.6"/>
<rect x="224.44" y="500.25" width="5.48" height="8.05" fill="#80aae2" stroke="#22395a" stroke-width="0.6"/>
<rect x="229.92" y="500.25" width="5.48" height="8.05" fill="#a0c0ec" stroke="#22395a" stroke-width="0.6"/>
<rect x="243.50" y="500.25" width="5.63" height="8.05" fill="#5a8cd4" stroke="#22395a" stroke-width="0.6"/>
<rect x="249.13" y="500.25" width="5.63" height="8.05" fill="#b4ccf0" stroke="#22395a" stroke-width="0.6"/>
<rect x="254.76" y="500.25" width="5.63" height="8.05" fill="#80a8e0" stroke="#22395a" stroke-width="0.6"/>
<rect x="262.20" y="500.25" width="5.85" height="8.05" fill="#cbcbcb" stroke="#4a4a4a" stroke-width="0.6"/>
<rect x="268.05" y="500.25" width="5.85" height="8.05" fill="#f7c396" stroke="#4a4a4a" stroke-width="0.6"/>
<rect x="273.90" y="500.25" width="5.85" height="8.05" fill="#cbcbcb" stroke="#4a4a4a" stroke-width="0.6"/>
<rect x="208.00" y="508.30" width="5.48" height="8.05" fill="#5a8cd4" stroke="#22395a" stroke-width="0.6"/>
<rect x="213.48" y="508.30" width="5.48" height="8.05" fill="#3c78c8" stroke="#22395a" stroke-width="0.6"/>
<rect x="218.96" y="508.30" width="5.48" height="8.05" fill="#4a82ce" stroke="#22395a" stroke-width="0.6"/>
<rect x="224.44" y="508.30" width="5.48" height="8.05" fill="#5a8cd4" stroke="#22395a" stroke-width="0.6"/>
<rect x="229.92" y="508.30" width="5.48" height="8.05" fill="#4580cc" stroke="#22395a" stroke-width="0.6"/>
<rect x="243.50" y="508.30" width="5.63" height="8.05" fill="#3c78c8" stroke="#22395a" stroke-width="0.6"/>
<rect x="249.13" y="508.30" width="5.63" height="8.05" fill="#4a82ce" stroke="#22395a" stroke-width="0.6"/>
<rect x="254.76" y="508.30" width="5.63" height="8.05" fill="#3c78c8" stroke="#22395a" stroke-width="0.6"/>
<rect x="262.20" y="508.30" width="5.85" height="8.05" fill="#cbcbcb" stroke="#4a4a4a" stroke-width="0.6"/>
<rect x="268.05" y="508.30" width="5.85" height="8.05" fill="#cbcbcb" stroke="#4a4a4a" stroke-width="0.6"/>
<rect x="273.90" y="508.30" width="5.85" height="8.05" fill="#cbcbcb" stroke="#4a4a4a" stroke-width="0.6"/>
<rect x="208.00" y="516.35" width="5.48" height="8.05" fill="#a8c4ee" stroke="#22395a" stroke-width="0.6"/>
<rect x="213.48" y="516.35" width="5.48" height="8.05" fill="#7ea8e0" stroke="#22395a" stroke-width="0.6"/>
<rect x="218.96" y="516.35" width="5.48" height="8.05" fill="#6a9cdc" stroke="#22395a" stroke-width="0.6"/>
<rect x="224.44" y="516.35" width="5.48" height="8.05" fill="#a0bef0" stroke="#22395a" stroke-width="0.6"/>
<rect x="229.92" y="516.35" width="5.48" height="8.05" fill="#9ebcea" stroke="#22395a" stroke-width="0.6"/>
<rect x="243.50" y="516.35" width="5.63" height="8.05" fill="#3c78c8" stroke="#22395a" stroke-width="0.6"/>
<rect x="249.13" y="516.35" width="5.63" height="8.05" fill="#5a8cd4" stroke="#22395a" stroke-width="0.6"/>
<rect x="254.76" y="516.35" width="5.63" height="8.05" fill="#4a82ce" stroke="#22395a" stroke-width="0.6"/>
<rect x="262.20" y="516.35" width="5.85" height="8.05" fill="#f7c396" stroke="#4a4a4a" stroke-width="0.6"/>
<rect x="268.05" y="516.35" width="5.85" height="8.05" fill="#cbcbcb" stroke="#4a4a4a" stroke-width="0.6"/>
<rect x="273.90" y="516.35" width="5.85" height="8.05" fill="#cbcbcb" stroke="#4a4a4a" stroke-width="0.6"/>
<text x="204.60" y="498.96" font-size="7.6" text-anchor="end" font-style="italic" textLength="17.5" lengthAdjust="spacingAndGlyphs">PBX1</text>
<text x="204.60" y="507.01" font-size="7.6" text-anchor="end" font-style="italic" textLength="23.6" lengthAdjust="spacingAndGlyphs">FOXM1</text>
<text x="204.60" y="515.06" font-size="7.6" text-anchor="end" font-style="italic" textLength="20" lengthAdjust="spacingAndGlyphs">NEK2</text>
<text x="204.60" y="523.11" font-size="7.6" text-anchor="end" font-style="italic" textLength="19.5" lengthAdjust="spacingAndGlyphs">E2F2</text>
<text x="212.94" y="526.6" font-size="6.3" text-anchor="end" fill="#231f20" transform="rotate(-90 212.94 526.6)" textLength="9.0" lengthAdjust="spacingAndGlyphs">D1</text>
<text x="218.42" y="526.6" font-size="6.3" text-anchor="end" fill="#231f20" transform="rotate(-90 218.42 526.6)" textLength="9.0" lengthAdjust="spacingAndGlyphs">D2</text>
<text x="223.90" y="526.6" font-size="6.3" text-anchor="end" fill="#231f20" transform="rotate(-90 223.90 526.6)" textLength="9.0" lengthAdjust="spacingAndGlyphs">D3</text>
<text x="229.38" y="526.6" font-size="6.3" text-anchor="end" fill="#231f20" transform="rotate(-90 229.38 526.6)" textLength="9.0" lengthAdjust="spacingAndGlyphs">D4</text>
<text x="234.86" y="526.6" font-size="6.3" text-anchor="end" fill="#231f20" transform="rotate(-90 234.86 526.6)" textLength="9.0" lengthAdjust="spacingAndGlyphs">D5</text>
<text x="248.51" y="526.6" font-size="6.3" text-anchor="end" fill="#231f20" transform="rotate(-90 248.51 526.6)" textLength="9.0" lengthAdjust="spacingAndGlyphs">X1</text>
<text x="254.14" y="526.6" font-size="6.3" text-anchor="end" fill="#231f20" transform="rotate(-90 254.14 526.6)" textLength="9.0" lengthAdjust="spacingAndGlyphs">X2</text>
<text x="259.77" y="526.6" font-size="6.3" text-anchor="end" fill="#231f20" transform="rotate(-90 259.77 526.6)" textLength="9.0" lengthAdjust="spacingAndGlyphs">X3</text>
<text x="267.32" y="526.6" font-size="6.3" text-anchor="end" fill="#231f20" transform="rotate(-90 267.32 526.6)" textLength="9.0" lengthAdjust="spacingAndGlyphs">X4</text>
<text x="273.17" y="526.6" font-size="6.3" text-anchor="end" fill="#231f20" transform="rotate(-90 273.17 526.6)" textLength="9.0" lengthAdjust="spacingAndGlyphs">X5</text>
<text x="279.02" y="526.6" font-size="6.3" text-anchor="end" fill="#231f20" transform="rotate(-90 279.02 526.6)" textLength="17.0" lengthAdjust="spacingAndGlyphs">PBBC</text>
<defs><linearGradient id="gb" x1="0" x2="1" y1="0" y2="0"><stop offset="0" stop-color="#2d5ea8"/><stop offset="0.5" stop-color="#ffffff"/><stop offset="1" stop-color="#ef8a1e"/></linearGradient></defs>
<rect x="296.90" y="495.20" width="25.00" height="3.30" fill="url(#gb)"/>
<text x="297.00" y="506.83" font-size="7.3" text-anchor="middle">0</text>
<text x="309.80" y="506.83" font-size="7.3" text-anchor="middle">1</text>
<text x="322.30" y="506.83" font-size="7.3" text-anchor="middle">2</text>
<rect x="295.00" y="509.30" width="5.20" height="3.60" fill="#c8c8c8" stroke="#555" stroke-width="0.6"/>
<text x="302.00" y="513.73" font-size="7.3" text-anchor="start" textLength="17.5" lengthAdjust="spacingAndGlyphs">Undet.</text>
<text x="312.30" y="521.32" font-size="7" text-anchor="middle" textLength="44" lengthAdjust="spacingAndGlyphs">Rel. expression</text>
<text x="312.30" y="528.92" font-size="7" text-anchor="middle" textLength="47" lengthAdjust="spacingAndGlyphs">(T417 vs control)</text>
<text x="449.60" y="442.90" font-size="8.6" text-anchor="middle" textLength="53" lengthAdjust="spacingAndGlyphs">Primary cells</text>
<text x="372.80" y="486.37" font-size="8.8" text-anchor="middle" textLength="42.4" lengthAdjust="spacingAndGlyphs" transform="rotate(-90 372.80 483.20)">Cell viability</text>
<polygon points="397.20,452.84 493.60,453.96 493.60,457.89 397.20,454.80" fill="#fad3a0"/>
<polyline points="397.20,452.84 493.60,453.96" fill="none" stroke="#f39a20" stroke-width="1.1" stroke-linejoin="round" />
<polyline points="397.20,453.68 493.60,455.64" fill="none" stroke="#f5a838" stroke-width="1.1" stroke-linejoin="round" />
<polyline points="397.20,454.80 493.60,457.89" fill="none" stroke="#f7b75a" stroke-width="1.1" stroke-linejoin="round" />
<line x1="397.20" y1="445.30" x2="397.20" y2="455.90" stroke="#f39a20" stroke-width="0.9"/>
<line x1="395.90" y1="445.30" x2="398.50" y2="445.30" stroke="#f39a20" stroke-width="0.8"/>
<line x1="395.90" y1="455.90" x2="398.50" y2="455.90" stroke="#f39a20" stroke-width="0.8"/>
<circle cx="397.20" cy="450.60" r="1.1" fill="#f39a20"/>
<line x1="416.48" y1="445.30" x2="416.48" y2="460.10" stroke="#f39a20" stroke-width="0.9"/>
<line x1="415.18" y1="445.30" x2="417.78" y2="445.30" stroke="#f39a20" stroke-width="0.8"/>
<line x1="415.18" y1="460.10" x2="417.78" y2="460.10" stroke="#f39a20" stroke-width="0.8"/>
<circle cx="416.48" cy="452.70" r="1.1" fill="#f39a20"/>
<line x1="430.94" y1="449.50" x2="430.94" y2="462.20" stroke="#f39a20" stroke-width="0.9"/>
<line x1="429.64" y1="449.50" x2="432.24" y2="449.50" stroke="#f39a20" stroke-width="0.8"/>
<line x1="429.64" y1="462.20" x2="432.24" y2="462.20" stroke="#f39a20" stroke-width="0.8"/>
<circle cx="430.94" cy="455.85" r="1.1" fill="#f39a20"/>
<line x1="445.40" y1="446.30" x2="445.40" y2="459.00" stroke="#f39a20" stroke-width="0.9"/>
<line x1="444.10" y1="446.30" x2="446.70" y2="446.30" stroke="#f39a20" stroke-width="0.8"/>
<line x1="444.10" y1="459.00" x2="446.70" y2="459.00" stroke="#f39a20" stroke-width="0.8"/>
<circle cx="445.40" cy="452.65" r="1.1" fill="#f39a20"/>
<line x1="459.86" y1="452.70" x2="459.86" y2="464.30" stroke="#f39a20" stroke-width="0.9"/>
<line x1="458.56" y1="452.70" x2="461.16" y2="452.70" stroke="#f39a20" stroke-width="0.8"/>
<line x1="458.56" y1="464.30" x2="461.16" y2="464.30" stroke="#f39a20" stroke-width="0.8"/>
<circle cx="459.86" cy="458.50" r="1.1" fill="#f39a20"/>
<line x1="469.50" y1="455.20" x2="469.50" y2="462.80" stroke="#f39a20" stroke-width="0.9"/>
<line x1="468.20" y1="455.20" x2="470.80" y2="455.20" stroke="#f39a20" stroke-width="0.8"/>
<line x1="468.20" y1="462.80" x2="470.80" y2="462.80" stroke="#f39a20" stroke-width="0.8"/>
<circle cx="469.50" cy="459.00" r="1.1" fill="#f39a20"/>
<line x1="481.55" y1="452.30" x2="481.55" y2="457.30" stroke="#f39a20" stroke-width="0.9"/>
<line x1="480.25" y1="452.30" x2="482.85" y2="452.30" stroke="#f39a20" stroke-width="0.8"/>
<line x1="480.25" y1="457.30" x2="482.85" y2="457.30" stroke="#f39a20" stroke-width="0.8"/>
<circle cx="481.55" cy="454.80" r="1.1" fill="#f39a20"/>
<polyline points="397.20,452.28 398.40,452.29 399.61,452.29 400.81,452.30 402.02,452.30 403.22,452.32 404.43,452.33 405.63,452.35 406.84,452.38 408.05,452.42 409.25,452.47 410.45,452.54 411.66,452.64 412.87,452.78 414.07,452.96 415.27,453.22 416.48,453.56 417.69,454.02 418.89,454.65 420.09,455.48 421.30,456.59 422.50,458.04 423.71,459.91 424.91,462.26 426.12,465.17 427.32,468.63 428.53,472.61 429.74,476.99 430.94,481.59 432.14,486.19 433.35,490.57 434.56,494.55 435.76,498.01 436.96,500.91 438.17,503.27 439.38,505.14 440.58,506.59 441.78,507.69 442.99,508.53 444.19,509.15 445.40,509.62 446.61,509.96 447.81,510.21 449.01,510.40 450.22,510.53 451.43,510.63 452.63,510.70 453.83,510.76 455.04,510.80 456.25,510.82 457.45,510.84 458.65,510.86 459.86,510.87 461.06,510.88 462.27,510.88 463.48,510.89 464.68,510.89 465.88,510.89 467.09,510.90 468.30,510.90 469.50,510.90 470.70,510.90 471.91,510.90 473.12,510.90 474.32,510.90 475.52,510.90 476.73,510.90 477.94,510.90 479.14,510.90 480.35,510.90 481.55,510.90 482.75,510.90 483.96,510.90 485.16,510.90 486.37,510.90 487.57,510.90 488.78,510.90 489.99,510.90 491.19,510.90 492.39,510.90 493.60,510.90" fill="none" stroke="#5aa88c" stroke-width="1.6" stroke-linejoin="round" />
<polyline points="397.20,452.84 398.40,452.85 399.61,452.85 400.81,452.85 402.02,452.86 403.22,452.87 404.43,452.88 405.63,452.89 406.84,452.92 408.05,452.95 409.25,452.99 410.45,453.04 411.66,453.12 412.87,453.22 414.07,453.37 415.27,453.56 416.48,453.83 417.69,454.19 418.89,454.68 420.09,455.33 421.30,456.21 422.50,457.37 423.71,458.88 424.91,460.82 426.12,463.26 427.32,466.24 428.53,469.78 429.74,473.81 430.94,478.21 432.14,482.79 433.35,487.32 434.56,491.59 435.76,495.43 436.96,498.75 438.17,501.52 439.38,503.75 440.58,505.51 441.78,506.87 442.99,507.91 444.19,508.69 445.40,509.27 446.61,509.70 447.81,510.02 449.01,510.26 450.22,510.43 451.43,510.56 452.63,510.65 453.83,510.72 455.04,510.77 456.25,510.80 457.45,510.83 458.65,510.85 459.86,510.86 461.06,510.87 462.27,510.88 463.48,510.89 464.68,510.89 465.88,510.89 467.09,510.89 468.30,510.90 469.50,510.90 470.70,510.90 471.91,510.90 473.12,510.90 474.32,510.90 475.52,510.90 476.73,510.90 477.94,510.90 479.14,510.90 480.35,510.90 481.55,510.90 482.75,510.90 483.96,510.90 485.16,510.90 486.37,510.90 487.57,510.90 488.78,510.90 489.99,510.90 491.19,510.90 492.39,510.90 493.60,510.90" fill="none" stroke="#3a9a7a" stroke-width="1.6" stroke-linejoin="round" />
<polyline points="397.20,454.82 398.40,454.82 399.61,454.83 400.81,454.83 402.02,454.84 403.22,454.84 404.43,454.85 405.63,454.86 406.84,454.87 408.05,454.88 409.25,454.89 410.45,454.91 411.66,454.93 412.87,454.95 414.07,454.98 415.27,455.01 416.48,455.04 417.69,455.08 418.89,455.13 420.09,455.19 421.30,455.26 422.50,455.34 423.71,455.43 424.91,455.54 426.12,455.67 427.32,455.82 428.53,455.99 429.74,456.20 430.94,456.43 432.14,456.71 433.35,457.03 434.56,457.40 435.76,457.83 436.96,458.33 438.17,458.90 439.38,459.56 440.58,460.31 441.78,461.16 442.99,462.13 444.19,463.22 445.40,464.44 446.61,465.79 447.81,467.29 449.01,468.92 450.22,470.69 451.43,472.59 452.63,474.60 453.83,476.71 455.04,478.90 456.25,481.13 457.45,483.39 458.65,485.64 459.86,487.86 461.06,490.01 462.27,492.08 463.48,494.04 464.68,495.88 465.88,497.58 467.09,499.15 468.30,500.58 469.50,501.87 470.70,503.02 471.91,504.05 473.12,504.96 474.32,505.77 475.52,506.47 476.73,507.08 477.94,507.62 479.14,508.08 480.35,508.48 481.55,508.83 482.75,509.13 483.96,509.39 485.16,509.61 486.37,509.79 487.57,509.96 488.78,510.09 489.99,510.21 491.19,510.31 492.39,510.40 493.60,510.47" fill="none" stroke="#1a6a4e" stroke-width="1.4" stroke-linejoin="round" />
<line x1="397.20" y1="450.56" x2="397.20" y2="454.56" stroke="#3a9a7a" stroke-width="0.8"/>
<line x1="396.00" y1="450.56" x2="398.40" y2="450.56" stroke="#3a9a7a" stroke-width="0.7"/>
<circle cx="397.20" cy="452.56" r="1.1" fill="#3a9a7a"/>
<line x1="416.48" y1="451.68" x2="416.48" y2="455.68" stroke="#3a9a7a" stroke-width="0.8"/>
<line x1="415.28" y1="451.68" x2="417.68" y2="451.68" stroke="#3a9a7a" stroke-width="0.7"/>
<circle cx="416.48" cy="453.68" r="1.1" fill="#3a9a7a"/>
<line x1="430.94" y1="483.05" x2="430.94" y2="488.25" stroke="#3a9a7a" stroke-width="0.8"/>
<line x1="429.74" y1="483.05" x2="432.14" y2="483.05" stroke="#3a9a7a" stroke-width="0.7"/>
<circle cx="430.94" cy="485.65" r="1.1" fill="#3a9a7a"/>
<line x1="445.40" y1="506.72" x2="445.40" y2="511.72" stroke="#3a9a7a" stroke-width="0.8"/>
<line x1="444.20" y1="506.72" x2="446.60" y2="506.72" stroke="#3a9a7a" stroke-width="0.7"/>
<circle cx="445.40" cy="509.22" r="1.1" fill="#3a9a7a"/>
<line x1="459.86" y1="508.34" x2="459.86" y2="512.34" stroke="#3a9a7a" stroke-width="0.8"/>
<line x1="458.66" y1="508.34" x2="461.06" y2="508.34" stroke="#3a9a7a" stroke-width="0.7"/>
<circle cx="459.86" cy="510.34" r="1.1" fill="#3a9a7a"/>
<line x1="469.50" y1="508.34" x2="469.50" y2="512.34" stroke="#3a9a7a" stroke-width="0.8"/>
<line x1="468.30" y1="508.34" x2="470.70" y2="508.34" stroke="#3a9a7a" stroke-width="0.7"/>
<circle cx="469.50" cy="510.34" r="1.1" fill="#3a9a7a"/>
<line x1="445.40" y1="465.75" x2="445.40" y2="474.15" stroke="#1a6a4e" stroke-width="0.8"/>
<line x1="444.20" y1="465.75" x2="446.60" y2="465.75" stroke="#1a6a4e" stroke-width="0.7"/>
<circle cx="445.40" cy="469.95" r="1.1" fill="#1a6a4e"/>
<line x1="459.86" y1="479.23" x2="459.86" y2="489.83" stroke="#1a6a4e" stroke-width="0.8"/>
<line x1="458.66" y1="479.23" x2="461.06" y2="479.23" stroke="#1a6a4e" stroke-width="0.7"/>
<circle cx="459.86" cy="484.53" r="1.1" fill="#1a6a4e"/>
<line x1="397.20" y1="446.50" x2="397.20" y2="511.40" stroke="#000" stroke-width="1.2"/>
<line x1="396.70" y1="510.90" x2="494.20" y2="510.90" stroke="#000" stroke-width="1.2"/>
<line x1="394.20" y1="454.80" x2="397.20" y2="454.80" stroke="#000" stroke-width="0.9"/>
<text x="389.60" y="457.97" font-size="8.8" text-anchor="end">1.0</text>
<line x1="394.20" y1="482.85" x2="397.20" y2="482.85" stroke="#000" stroke-width="0.9"/>
<text x="389.60" y="486.02" font-size="8.8" text-anchor="end">0.5</text>
<line x1="394.20" y1="510.90" x2="397.20" y2="510.90" stroke="#000" stroke-width="0.9"/>
<text x="389.60" y="514.07" font-size="8.8" text-anchor="end">0.0</text>
<line x1="397.20" y1="510.90" x2="397.20" y2="513.90" stroke="#000" stroke-width="0.9"/>
<text x="397.20" y="520.17" font-size="8.8" text-anchor="middle">0.0</text>
<line x1="421.30" y1="510.90" x2="421.30" y2="513.90" stroke="#000" stroke-width="0.9"/>
<text x="421.30" y="520.17" font-size="8.8" text-anchor="middle">0.5</text>
<line x1="445.40" y1="510.90" x2="445.40" y2="513.90" stroke="#000" stroke-width="0.9"/>
<text x="445.40" y="520.17" font-size="8.8" text-anchor="middle">1.0</text>
<line x1="469.50" y1="510.90" x2="469.50" y2="513.90" stroke="#000" stroke-width="0.9"/>
<text x="469.50" y="520.17" font-size="8.8" text-anchor="middle">1.5</text>
<line x1="493.60" y1="510.90" x2="493.60" y2="513.90" stroke="#000" stroke-width="0.9"/>
<text x="493.60" y="520.17" font-size="8.8" text-anchor="middle">2.0</text>
<text x="448.2" y="531.8" font-size="8.4" text-anchor="middle" fill="#231f20" textLength="56" lengthAdjust="spacingAndGlyphs">T417 (log<tspan font-size="7" dy="1.5">10</tspan><tspan dy="-1.5">μM)</tspan></text>
<text x="478.80" y="471.02" font-size="7.0" text-anchor="start" fill="#6aa890">X1: 4.8</text>
<text x="478.80" y="477.42" font-size="7.0" text-anchor="start" fill="#3f9a80">X2: 5.5</text>
<text x="478.80" y="483.72" font-size="7.0" text-anchor="start" fill="#2a6a58">X3: 17.5</text>
<text x="478.80" y="491.42" font-size="7.0" text-anchor="start" fill="#f8c890">X4: n/a</text>
<text x="478.80" y="497.62" font-size="7.0" text-anchor="start" fill="#f6b66e">X5: n/a</text>
<text x="478.80" y="503.72" font-size="7.0" text-anchor="start" fill="#f0a040">PBBC: n/a</text>
<rect x="0.5" y="0.5" width="519" height="550" fill="none" stroke="#000" stroke-width="1"/>
</svg></body></html>
